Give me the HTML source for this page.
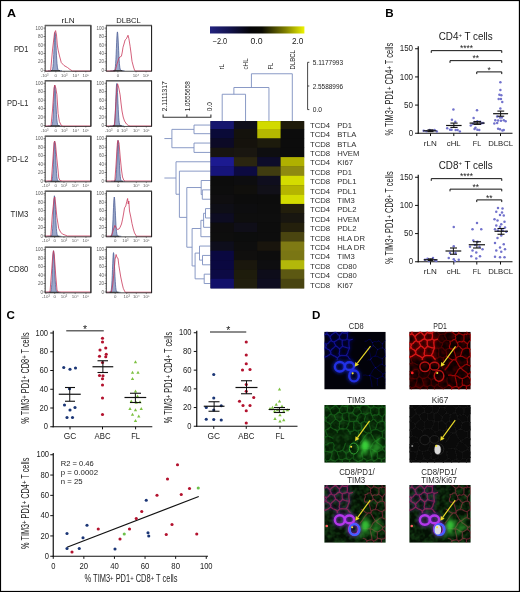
<!DOCTYPE html>
<html><head><meta charset="utf-8"><style>
html,body{margin:0;padding:0;background:#fff;}
svg{display:block;font-family:"Liberation Sans", sans-serif;will-change:transform;}
</style></head><body>
<svg width="520" height="592" viewBox="0 0 520 592">
<rect x="0" y="0" width="520" height="592" fill="#fff"/>
<text x="6.90" y="16.80" font-size="11.6" font-weight="bold" fill="#000" transform="translate(6.90,0) scale(1.08,1) translate(-6.90,0)">A</text>
<text x="385.25" y="16.80" font-size="11.6" font-weight="bold" fill="#000" transform="translate(385.25,0) scale(1.0,1) translate(-385.25,0)">B</text>
<text x="6.50" y="318.60" font-size="11.6" font-weight="bold" fill="#000" transform="translate(6.50,0) scale(1.0,1) translate(-6.50,0)">C</text>
<text x="312.05" y="318.60" font-size="11.6" font-weight="bold" fill="#000" transform="translate(312.05,0) scale(1.0,1) translate(-312.05,0)">D</text>
<text x="61.50" y="23.10" font-size="8" fill="#1a1a1a" textLength="13.10" lengthAdjust="spacingAndGlyphs" >rLN</text>
<text x="116.30" y="23.10" font-size="8" fill="#1a1a1a" textLength="24.50" lengthAdjust="spacingAndGlyphs" >DLBCL</text>
<text x="13.90" y="52.00" font-size="8.2" fill="#2a2a2a" textLength="14.50" lengthAdjust="spacingAndGlyphs" >PD1</text>
<text x="7.10" y="106.10" font-size="8.2" fill="#2a2a2a" textLength="21.30" lengthAdjust="spacingAndGlyphs" >PD-L1</text>
<text x="7.10" y="161.50" font-size="8.2" fill="#2a2a2a" textLength="21.30" lengthAdjust="spacingAndGlyphs" >PD-L2</text>
<text x="10.60" y="216.70" font-size="8.2" fill="#2a2a2a" textLength="17.80" lengthAdjust="spacingAndGlyphs" >TIM3</text>
<text x="8.40" y="272.40" font-size="8.2" fill="#2a2a2a" textLength="20.00" lengthAdjust="spacingAndGlyphs" >CD80</text>
<text x="42.90" y="29.70" font-size="4.5" fill="#5a5a5a" text-anchor="end" >100</text>
<line x1="43.40" y1="28.10" x2="45.20" y2="28.10" stroke="#333" stroke-width="0.6" />
<text x="42.90" y="38.14" font-size="4.5" fill="#5a5a5a" text-anchor="end" >80</text>
<line x1="43.40" y1="36.54" x2="45.20" y2="36.54" stroke="#333" stroke-width="0.6" />
<text x="42.90" y="46.58" font-size="4.5" fill="#5a5a5a" text-anchor="end" >60</text>
<line x1="43.40" y1="44.98" x2="45.20" y2="44.98" stroke="#333" stroke-width="0.6" />
<text x="42.90" y="55.02" font-size="4.5" fill="#5a5a5a" text-anchor="end" >40</text>
<line x1="43.40" y1="53.42" x2="45.20" y2="53.42" stroke="#333" stroke-width="0.6" />
<text x="42.90" y="63.46" font-size="4.5" fill="#5a5a5a" text-anchor="end" >20</text>
<line x1="43.40" y1="61.86" x2="45.20" y2="61.86" stroke="#333" stroke-width="0.6" />
<text x="42.90" y="71.90" font-size="4.5" fill="#5a5a5a" text-anchor="end" >0</text>
<line x1="43.40" y1="70.30" x2="45.20" y2="70.30" stroke="#333" stroke-width="0.6" />
<line x1="44.20" y1="28.10" x2="45.20" y2="28.10" stroke="#444" stroke-width="0.4" />
<line x1="44.20" y1="29.79" x2="45.20" y2="29.79" stroke="#444" stroke-width="0.4" />
<line x1="44.20" y1="31.48" x2="45.20" y2="31.48" stroke="#444" stroke-width="0.4" />
<line x1="44.20" y1="33.16" x2="45.20" y2="33.16" stroke="#444" stroke-width="0.4" />
<line x1="44.20" y1="34.85" x2="45.20" y2="34.85" stroke="#444" stroke-width="0.4" />
<line x1="44.20" y1="36.54" x2="45.20" y2="36.54" stroke="#444" stroke-width="0.4" />
<line x1="44.20" y1="38.23" x2="45.20" y2="38.23" stroke="#444" stroke-width="0.4" />
<line x1="44.20" y1="39.92" x2="45.20" y2="39.92" stroke="#444" stroke-width="0.4" />
<line x1="44.20" y1="41.60" x2="45.20" y2="41.60" stroke="#444" stroke-width="0.4" />
<line x1="44.20" y1="43.29" x2="45.20" y2="43.29" stroke="#444" stroke-width="0.4" />
<line x1="44.20" y1="44.98" x2="45.20" y2="44.98" stroke="#444" stroke-width="0.4" />
<line x1="44.20" y1="46.67" x2="45.20" y2="46.67" stroke="#444" stroke-width="0.4" />
<line x1="44.20" y1="48.36" x2="45.20" y2="48.36" stroke="#444" stroke-width="0.4" />
<line x1="44.20" y1="50.04" x2="45.20" y2="50.04" stroke="#444" stroke-width="0.4" />
<line x1="44.20" y1="51.73" x2="45.20" y2="51.73" stroke="#444" stroke-width="0.4" />
<line x1="44.20" y1="53.42" x2="45.20" y2="53.42" stroke="#444" stroke-width="0.4" />
<line x1="44.20" y1="55.11" x2="45.20" y2="55.11" stroke="#444" stroke-width="0.4" />
<line x1="44.20" y1="56.80" x2="45.20" y2="56.80" stroke="#444" stroke-width="0.4" />
<line x1="44.20" y1="58.48" x2="45.20" y2="58.48" stroke="#444" stroke-width="0.4" />
<line x1="44.20" y1="60.17" x2="45.20" y2="60.17" stroke="#444" stroke-width="0.4" />
<line x1="44.20" y1="61.86" x2="45.20" y2="61.86" stroke="#444" stroke-width="0.4" />
<line x1="44.20" y1="63.55" x2="45.20" y2="63.55" stroke="#444" stroke-width="0.4" />
<line x1="44.20" y1="65.24" x2="45.20" y2="65.24" stroke="#444" stroke-width="0.4" />
<line x1="44.20" y1="66.92" x2="45.20" y2="66.92" stroke="#444" stroke-width="0.4" />
<line x1="44.20" y1="68.61" x2="45.20" y2="68.61" stroke="#444" stroke-width="0.4" />
<line x1="44.20" y1="70.30" x2="45.20" y2="70.30" stroke="#444" stroke-width="0.4" />
<polyline points="48.00,70.60 48.00,70.60 48.25,70.60 48.50,70.60 48.75,70.60 49.00,70.60 49.25,70.60 49.50,70.60 49.75,70.60 50.00,70.60 50.25,70.60 50.50,70.60 50.75,70.60 51.00,70.59 51.25,70.58 51.50,70.56 51.75,70.49 52.00,70.34 52.25,70.02 52.50,69.41 52.75,68.29 53.00,66.45 53.25,63.62 53.50,59.65 53.75,54.57 54.00,48.71 54.25,42.70 54.50,37.43 54.75,33.80 55.00,32.50 55.25,33.48 55.50,36.29 55.75,40.50 56.00,45.54 56.25,50.80 56.50,55.76 56.75,60.04 57.00,63.47 57.25,66.03 57.50,67.82 57.75,69.00 58.00,69.72 58.25,70.14 58.50,70.37 58.75,70.49 59.00,70.55 59.25,70.58 59.50,70.59 59.75,70.60 60.00,70.60 60.25,70.60 60.50,70.60 60.75,70.60 61.00,70.60 61.25,70.60 61.50,70.60 61.75,70.60 62.00,70.60 62.00,70.60" stroke="#4a5b93" fill="#95a2c6" stroke-width="0.75" stroke-linejoin="round" fill-opacity="0.95"/>
<polyline points="45.00,71.00 50.60,71.00 52.50,50.00 54.50,33.00 55.60,30.60 56.50,35.00 57.30,45.00 58.10,50.00 59.50,56.00 61.25,62.50 64.00,65.50 67.50,67.50 70.00,69.50 72.50,71.00 90.90,71.00" stroke="#c9395a" fill="none" stroke-width="0.8" stroke-linejoin="round" />
<line x1="51.00" y1="70.60" x2="60.00" y2="70.60" stroke="#222" stroke-width="0.9" />
<rect x="45.20" y="25.60" width="45.70" height="45.60" fill="none" stroke="#2a2a2a" stroke-width="0.85"/>
<line x1="44.80" y1="25.60" x2="91.30" y2="25.60" stroke="#606060" stroke-width="1.5" />
<line x1="90.90" y1="25.60" x2="90.90" y2="71.20" stroke="#222" stroke-width="1.0" />
<text x="44.60" y="76.60" font-size="4.4" fill="#5a5a5a" text-anchor="middle" >-10³</text>
<text x="55.80" y="76.60" font-size="4.4" fill="#5a5a5a" text-anchor="middle" >0</text>
<text x="64.20" y="76.60" font-size="4.4" fill="#5a5a5a" text-anchor="middle" >10³</text>
<text x="75.80" y="76.60" font-size="4.4" fill="#5a5a5a" text-anchor="middle" >10⁴</text>
<text x="85.80" y="76.60" font-size="4.4" fill="#5a5a5a" text-anchor="middle" >10⁵</text>
<line x1="44.60" y1="71.20" x2="44.60" y2="72.40" stroke="#333" stroke-width="0.5" />
<line x1="55.80" y1="71.20" x2="55.80" y2="72.40" stroke="#333" stroke-width="0.5" />
<line x1="64.20" y1="71.20" x2="64.20" y2="72.40" stroke="#333" stroke-width="0.5" />
<line x1="75.80" y1="71.20" x2="75.80" y2="72.40" stroke="#333" stroke-width="0.5" />
<line x1="85.80" y1="71.20" x2="85.80" y2="72.40" stroke="#333" stroke-width="0.5" />
<text x="104.00" y="29.70" font-size="4.5" fill="#5a5a5a" text-anchor="end" >100</text>
<line x1="104.50" y1="28.10" x2="106.30" y2="28.10" stroke="#333" stroke-width="0.6" />
<text x="104.00" y="38.14" font-size="4.5" fill="#5a5a5a" text-anchor="end" >80</text>
<line x1="104.50" y1="36.54" x2="106.30" y2="36.54" stroke="#333" stroke-width="0.6" />
<text x="104.00" y="46.58" font-size="4.5" fill="#5a5a5a" text-anchor="end" >60</text>
<line x1="104.50" y1="44.98" x2="106.30" y2="44.98" stroke="#333" stroke-width="0.6" />
<text x="104.00" y="55.02" font-size="4.5" fill="#5a5a5a" text-anchor="end" >40</text>
<line x1="104.50" y1="53.42" x2="106.30" y2="53.42" stroke="#333" stroke-width="0.6" />
<text x="104.00" y="63.46" font-size="4.5" fill="#5a5a5a" text-anchor="end" >20</text>
<line x1="104.50" y1="61.86" x2="106.30" y2="61.86" stroke="#333" stroke-width="0.6" />
<text x="104.00" y="71.90" font-size="4.5" fill="#5a5a5a" text-anchor="end" >0</text>
<line x1="104.50" y1="70.30" x2="106.30" y2="70.30" stroke="#333" stroke-width="0.6" />
<line x1="105.30" y1="28.10" x2="106.30" y2="28.10" stroke="#444" stroke-width="0.4" />
<line x1="105.30" y1="29.79" x2="106.30" y2="29.79" stroke="#444" stroke-width="0.4" />
<line x1="105.30" y1="31.48" x2="106.30" y2="31.48" stroke="#444" stroke-width="0.4" />
<line x1="105.30" y1="33.16" x2="106.30" y2="33.16" stroke="#444" stroke-width="0.4" />
<line x1="105.30" y1="34.85" x2="106.30" y2="34.85" stroke="#444" stroke-width="0.4" />
<line x1="105.30" y1="36.54" x2="106.30" y2="36.54" stroke="#444" stroke-width="0.4" />
<line x1="105.30" y1="38.23" x2="106.30" y2="38.23" stroke="#444" stroke-width="0.4" />
<line x1="105.30" y1="39.92" x2="106.30" y2="39.92" stroke="#444" stroke-width="0.4" />
<line x1="105.30" y1="41.60" x2="106.30" y2="41.60" stroke="#444" stroke-width="0.4" />
<line x1="105.30" y1="43.29" x2="106.30" y2="43.29" stroke="#444" stroke-width="0.4" />
<line x1="105.30" y1="44.98" x2="106.30" y2="44.98" stroke="#444" stroke-width="0.4" />
<line x1="105.30" y1="46.67" x2="106.30" y2="46.67" stroke="#444" stroke-width="0.4" />
<line x1="105.30" y1="48.36" x2="106.30" y2="48.36" stroke="#444" stroke-width="0.4" />
<line x1="105.30" y1="50.04" x2="106.30" y2="50.04" stroke="#444" stroke-width="0.4" />
<line x1="105.30" y1="51.73" x2="106.30" y2="51.73" stroke="#444" stroke-width="0.4" />
<line x1="105.30" y1="53.42" x2="106.30" y2="53.42" stroke="#444" stroke-width="0.4" />
<line x1="105.30" y1="55.11" x2="106.30" y2="55.11" stroke="#444" stroke-width="0.4" />
<line x1="105.30" y1="56.80" x2="106.30" y2="56.80" stroke="#444" stroke-width="0.4" />
<line x1="105.30" y1="58.48" x2="106.30" y2="58.48" stroke="#444" stroke-width="0.4" />
<line x1="105.30" y1="60.17" x2="106.30" y2="60.17" stroke="#444" stroke-width="0.4" />
<line x1="105.30" y1="61.86" x2="106.30" y2="61.86" stroke="#444" stroke-width="0.4" />
<line x1="105.30" y1="63.55" x2="106.30" y2="63.55" stroke="#444" stroke-width="0.4" />
<line x1="105.30" y1="65.24" x2="106.30" y2="65.24" stroke="#444" stroke-width="0.4" />
<line x1="105.30" y1="66.92" x2="106.30" y2="66.92" stroke="#444" stroke-width="0.4" />
<line x1="105.30" y1="68.61" x2="106.30" y2="68.61" stroke="#444" stroke-width="0.4" />
<line x1="105.30" y1="70.30" x2="106.30" y2="70.30" stroke="#444" stroke-width="0.4" />
<polyline points="110.40,70.60 110.40,70.60 110.65,70.60 110.90,70.60 111.15,70.60 111.40,70.60 111.65,70.60 111.90,70.60 112.15,70.60 112.40,70.60 112.65,70.60 112.90,70.60 113.15,70.60 113.40,70.59 113.65,70.58 113.90,70.56 114.15,70.49 114.40,70.34 114.65,70.01 114.90,69.39 115.15,68.26 115.40,66.38 115.65,63.51 115.90,59.47 116.15,54.32 116.40,48.36 116.65,42.26 116.90,36.91 117.15,33.22 117.40,31.90 117.65,32.90 117.90,35.75 118.15,40.02 118.40,45.14 118.65,50.49 118.90,55.52 119.15,59.87 119.40,63.36 119.65,65.96 119.90,67.78 120.15,68.97 120.40,69.71 120.65,70.14 120.90,70.37 121.15,70.49 121.40,70.55 121.65,70.58 121.90,70.59 122.15,70.60 122.40,70.60 122.65,70.60 122.90,70.60 123.15,70.60 123.40,70.60 123.65,70.60 123.90,70.60 124.15,70.60 124.40,70.60 124.40,70.60" stroke="#4a5b93" fill="#95a2c6" stroke-width="0.75" stroke-linejoin="round" fill-opacity="0.95"/>
<polyline points="106.00,71.00 115.10,71.00 117.00,64.00 118.90,58.10 120.00,57.00 121.40,56.25 122.30,52.00 123.00,47.25 124.00,44.00 125.10,40.00 126.40,38.75 127.20,37.00 128.00,35.25 128.90,38.75 130.10,46.25 131.00,53.00 132.00,61.25 133.50,67.00 134.50,70.00 135.10,71.00 151.30,71.00" stroke="#c9395a" fill="none" stroke-width="0.8" stroke-linejoin="round" />
<line x1="113.40" y1="70.60" x2="122.40" y2="70.60" stroke="#222" stroke-width="0.9" />
<rect x="106.30" y="25.60" width="45.30" height="45.60" fill="none" stroke="#2a2a2a" stroke-width="0.85"/>
<line x1="105.90" y1="25.60" x2="152.00" y2="25.60" stroke="#606060" stroke-width="1.5" />
<line x1="151.60" y1="25.60" x2="151.60" y2="71.20" stroke="#222" stroke-width="1.0" />
<text x="117.90" y="76.60" font-size="4.4" fill="#5a5a5a" text-anchor="middle" >0</text>
<text x="136.05" y="76.60" font-size="4.4" fill="#5a5a5a" text-anchor="middle" >10⁴</text>
<text x="146.05" y="76.60" font-size="4.4" fill="#5a5a5a" text-anchor="middle" >10⁵</text>
<line x1="117.90" y1="71.20" x2="117.90" y2="72.40" stroke="#333" stroke-width="0.5" />
<line x1="136.05" y1="71.20" x2="136.05" y2="72.40" stroke="#333" stroke-width="0.5" />
<line x1="146.05" y1="71.20" x2="146.05" y2="72.40" stroke="#333" stroke-width="0.5" />
<text x="42.90" y="84.85" font-size="4.5" fill="#5a5a5a" text-anchor="end" >100</text>
<line x1="43.40" y1="83.25" x2="45.20" y2="83.25" stroke="#333" stroke-width="0.6" />
<text x="42.90" y="93.29" font-size="4.5" fill="#5a5a5a" text-anchor="end" >80</text>
<line x1="43.40" y1="91.69" x2="45.20" y2="91.69" stroke="#333" stroke-width="0.6" />
<text x="42.90" y="101.73" font-size="4.5" fill="#5a5a5a" text-anchor="end" >60</text>
<line x1="43.40" y1="100.13" x2="45.20" y2="100.13" stroke="#333" stroke-width="0.6" />
<text x="42.90" y="110.17" font-size="4.5" fill="#5a5a5a" text-anchor="end" >40</text>
<line x1="43.40" y1="108.57" x2="45.20" y2="108.57" stroke="#333" stroke-width="0.6" />
<text x="42.90" y="118.61" font-size="4.5" fill="#5a5a5a" text-anchor="end" >20</text>
<line x1="43.40" y1="117.01" x2="45.20" y2="117.01" stroke="#333" stroke-width="0.6" />
<text x="42.90" y="127.05" font-size="4.5" fill="#5a5a5a" text-anchor="end" >0</text>
<line x1="43.40" y1="125.45" x2="45.20" y2="125.45" stroke="#333" stroke-width="0.6" />
<line x1="44.20" y1="83.25" x2="45.20" y2="83.25" stroke="#444" stroke-width="0.4" />
<line x1="44.20" y1="84.94" x2="45.20" y2="84.94" stroke="#444" stroke-width="0.4" />
<line x1="44.20" y1="86.63" x2="45.20" y2="86.63" stroke="#444" stroke-width="0.4" />
<line x1="44.20" y1="88.31" x2="45.20" y2="88.31" stroke="#444" stroke-width="0.4" />
<line x1="44.20" y1="90.00" x2="45.20" y2="90.00" stroke="#444" stroke-width="0.4" />
<line x1="44.20" y1="91.69" x2="45.20" y2="91.69" stroke="#444" stroke-width="0.4" />
<line x1="44.20" y1="93.38" x2="45.20" y2="93.38" stroke="#444" stroke-width="0.4" />
<line x1="44.20" y1="95.07" x2="45.20" y2="95.07" stroke="#444" stroke-width="0.4" />
<line x1="44.20" y1="96.75" x2="45.20" y2="96.75" stroke="#444" stroke-width="0.4" />
<line x1="44.20" y1="98.44" x2="45.20" y2="98.44" stroke="#444" stroke-width="0.4" />
<line x1="44.20" y1="100.13" x2="45.20" y2="100.13" stroke="#444" stroke-width="0.4" />
<line x1="44.20" y1="101.82" x2="45.20" y2="101.82" stroke="#444" stroke-width="0.4" />
<line x1="44.20" y1="103.51" x2="45.20" y2="103.51" stroke="#444" stroke-width="0.4" />
<line x1="44.20" y1="105.19" x2="45.20" y2="105.19" stroke="#444" stroke-width="0.4" />
<line x1="44.20" y1="106.88" x2="45.20" y2="106.88" stroke="#444" stroke-width="0.4" />
<line x1="44.20" y1="108.57" x2="45.20" y2="108.57" stroke="#444" stroke-width="0.4" />
<line x1="44.20" y1="110.26" x2="45.20" y2="110.26" stroke="#444" stroke-width="0.4" />
<line x1="44.20" y1="111.95" x2="45.20" y2="111.95" stroke="#444" stroke-width="0.4" />
<line x1="44.20" y1="113.63" x2="45.20" y2="113.63" stroke="#444" stroke-width="0.4" />
<line x1="44.20" y1="115.32" x2="45.20" y2="115.32" stroke="#444" stroke-width="0.4" />
<line x1="44.20" y1="117.01" x2="45.20" y2="117.01" stroke="#444" stroke-width="0.4" />
<line x1="44.20" y1="118.70" x2="45.20" y2="118.70" stroke="#444" stroke-width="0.4" />
<line x1="44.20" y1="120.39" x2="45.20" y2="120.39" stroke="#444" stroke-width="0.4" />
<line x1="44.20" y1="122.07" x2="45.20" y2="122.07" stroke="#444" stroke-width="0.4" />
<line x1="44.20" y1="123.76" x2="45.20" y2="123.76" stroke="#444" stroke-width="0.4" />
<line x1="44.20" y1="125.45" x2="45.20" y2="125.45" stroke="#444" stroke-width="0.4" />
<polyline points="47.75,125.75 47.75,125.75 48.00,125.75 48.25,125.75 48.50,125.75 48.75,125.75 49.00,125.75 49.25,125.75 49.50,125.75 49.75,125.75 50.00,125.75 50.25,125.75 50.50,125.75 50.75,125.74 51.00,125.73 51.25,125.70 51.50,125.63 51.75,125.47 52.00,125.14 52.25,124.49 52.50,123.31 52.75,121.35 53.00,118.35 53.25,114.15 53.50,108.77 53.75,102.56 54.00,96.20 54.25,90.62 54.50,86.77 54.75,85.40 55.00,86.44 55.25,89.41 55.50,93.87 55.75,99.21 56.00,104.78 56.25,110.03 56.50,114.56 56.75,118.20 57.00,120.91 57.25,122.81 57.50,124.05 57.75,124.82 58.00,125.27 58.25,125.51 58.50,125.64 58.75,125.70 59.00,125.73 59.25,125.74 59.50,125.75 59.75,125.75 60.00,125.75 60.25,125.75 60.50,125.75 60.75,125.75 61.00,125.75 61.25,125.75 61.50,125.75 61.75,125.75 61.75,125.75" stroke="#4a5b93" fill="#95a2c6" stroke-width="0.75" stroke-linejoin="round" fill-opacity="0.95"/>
<polyline points="45.00,126.00 51.00,126.00 52.50,110.00 54.00,88.00 54.75,85.00 55.80,88.00 56.90,94.75 57.50,104.00 58.10,113.50 59.40,121.60 61.25,125.40 63.00,126.00 90.90,126.00" stroke="#c9395a" fill="none" stroke-width="0.8" stroke-linejoin="round" />
<line x1="50.75" y1="125.75" x2="59.75" y2="125.75" stroke="#222" stroke-width="0.9" />
<rect x="45.20" y="80.75" width="45.70" height="45.60" fill="none" stroke="#2a2a2a" stroke-width="0.85"/>
<line x1="44.80" y1="80.75" x2="91.30" y2="80.75" stroke="#606060" stroke-width="1.5" />
<line x1="90.90" y1="80.75" x2="90.90" y2="126.35" stroke="#222" stroke-width="1.0" />
<text x="44.60" y="131.75" font-size="4.4" fill="#5a5a5a" text-anchor="middle" >-10³</text>
<text x="55.80" y="131.75" font-size="4.4" fill="#5a5a5a" text-anchor="middle" >0</text>
<text x="64.20" y="131.75" font-size="4.4" fill="#5a5a5a" text-anchor="middle" >10³</text>
<text x="75.80" y="131.75" font-size="4.4" fill="#5a5a5a" text-anchor="middle" >10⁴</text>
<text x="85.80" y="131.75" font-size="4.4" fill="#5a5a5a" text-anchor="middle" >10⁵</text>
<line x1="44.60" y1="126.35" x2="44.60" y2="127.55" stroke="#333" stroke-width="0.5" />
<line x1="55.80" y1="126.35" x2="55.80" y2="127.55" stroke="#333" stroke-width="0.5" />
<line x1="64.20" y1="126.35" x2="64.20" y2="127.55" stroke="#333" stroke-width="0.5" />
<line x1="75.80" y1="126.35" x2="75.80" y2="127.55" stroke="#333" stroke-width="0.5" />
<line x1="85.80" y1="126.35" x2="85.80" y2="127.55" stroke="#333" stroke-width="0.5" />
<text x="104.00" y="84.85" font-size="4.5" fill="#5a5a5a" text-anchor="end" >100</text>
<line x1="104.50" y1="83.25" x2="106.30" y2="83.25" stroke="#333" stroke-width="0.6" />
<text x="104.00" y="93.29" font-size="4.5" fill="#5a5a5a" text-anchor="end" >80</text>
<line x1="104.50" y1="91.69" x2="106.30" y2="91.69" stroke="#333" stroke-width="0.6" />
<text x="104.00" y="101.73" font-size="4.5" fill="#5a5a5a" text-anchor="end" >60</text>
<line x1="104.50" y1="100.13" x2="106.30" y2="100.13" stroke="#333" stroke-width="0.6" />
<text x="104.00" y="110.17" font-size="4.5" fill="#5a5a5a" text-anchor="end" >40</text>
<line x1="104.50" y1="108.57" x2="106.30" y2="108.57" stroke="#333" stroke-width="0.6" />
<text x="104.00" y="118.61" font-size="4.5" fill="#5a5a5a" text-anchor="end" >20</text>
<line x1="104.50" y1="117.01" x2="106.30" y2="117.01" stroke="#333" stroke-width="0.6" />
<text x="104.00" y="127.05" font-size="4.5" fill="#5a5a5a" text-anchor="end" >0</text>
<line x1="104.50" y1="125.45" x2="106.30" y2="125.45" stroke="#333" stroke-width="0.6" />
<line x1="105.30" y1="83.25" x2="106.30" y2="83.25" stroke="#444" stroke-width="0.4" />
<line x1="105.30" y1="84.94" x2="106.30" y2="84.94" stroke="#444" stroke-width="0.4" />
<line x1="105.30" y1="86.63" x2="106.30" y2="86.63" stroke="#444" stroke-width="0.4" />
<line x1="105.30" y1="88.31" x2="106.30" y2="88.31" stroke="#444" stroke-width="0.4" />
<line x1="105.30" y1="90.00" x2="106.30" y2="90.00" stroke="#444" stroke-width="0.4" />
<line x1="105.30" y1="91.69" x2="106.30" y2="91.69" stroke="#444" stroke-width="0.4" />
<line x1="105.30" y1="93.38" x2="106.30" y2="93.38" stroke="#444" stroke-width="0.4" />
<line x1="105.30" y1="95.07" x2="106.30" y2="95.07" stroke="#444" stroke-width="0.4" />
<line x1="105.30" y1="96.75" x2="106.30" y2="96.75" stroke="#444" stroke-width="0.4" />
<line x1="105.30" y1="98.44" x2="106.30" y2="98.44" stroke="#444" stroke-width="0.4" />
<line x1="105.30" y1="100.13" x2="106.30" y2="100.13" stroke="#444" stroke-width="0.4" />
<line x1="105.30" y1="101.82" x2="106.30" y2="101.82" stroke="#444" stroke-width="0.4" />
<line x1="105.30" y1="103.51" x2="106.30" y2="103.51" stroke="#444" stroke-width="0.4" />
<line x1="105.30" y1="105.19" x2="106.30" y2="105.19" stroke="#444" stroke-width="0.4" />
<line x1="105.30" y1="106.88" x2="106.30" y2="106.88" stroke="#444" stroke-width="0.4" />
<line x1="105.30" y1="108.57" x2="106.30" y2="108.57" stroke="#444" stroke-width="0.4" />
<line x1="105.30" y1="110.26" x2="106.30" y2="110.26" stroke="#444" stroke-width="0.4" />
<line x1="105.30" y1="111.95" x2="106.30" y2="111.95" stroke="#444" stroke-width="0.4" />
<line x1="105.30" y1="113.63" x2="106.30" y2="113.63" stroke="#444" stroke-width="0.4" />
<line x1="105.30" y1="115.32" x2="106.30" y2="115.32" stroke="#444" stroke-width="0.4" />
<line x1="105.30" y1="117.01" x2="106.30" y2="117.01" stroke="#444" stroke-width="0.4" />
<line x1="105.30" y1="118.70" x2="106.30" y2="118.70" stroke="#444" stroke-width="0.4" />
<line x1="105.30" y1="120.39" x2="106.30" y2="120.39" stroke="#444" stroke-width="0.4" />
<line x1="105.30" y1="122.07" x2="106.30" y2="122.07" stroke="#444" stroke-width="0.4" />
<line x1="105.30" y1="123.76" x2="106.30" y2="123.76" stroke="#444" stroke-width="0.4" />
<line x1="105.30" y1="125.45" x2="106.30" y2="125.45" stroke="#444" stroke-width="0.4" />
<polyline points="109.75,125.75 109.75,125.75 110.00,125.75 110.25,125.75 110.50,125.75 110.75,125.75 111.00,125.75 111.25,125.75 111.50,125.75 111.75,125.75 112.00,125.75 112.25,125.75 112.50,125.75 112.75,125.74 113.00,125.73 113.25,125.70 113.50,125.63 113.75,125.46 114.00,125.11 114.25,124.43 114.50,123.19 114.75,121.14 115.00,118.01 115.25,113.60 115.50,107.97 115.75,101.47 116.00,94.81 116.25,88.96 116.50,84.94 116.75,83.50 117.00,84.59 117.25,87.70 117.50,92.37 117.75,97.96 118.00,103.79 118.25,109.29 118.50,114.04 118.75,117.84 119.00,120.68 119.25,122.67 119.50,123.97 119.75,124.78 120.00,125.24 120.25,125.50 120.50,125.63 120.75,125.70 121.00,125.73 121.25,125.74 121.50,125.75 121.75,125.75 122.00,125.75 122.25,125.75 122.50,125.75 122.75,125.75 123.00,125.75 123.25,125.75 123.50,125.75 123.75,125.75 123.75,125.75" stroke="#4a5b93" fill="#95a2c6" stroke-width="0.75" stroke-linejoin="round" fill-opacity="0.95"/>
<polyline points="106.00,126.00 114.50,126.00 115.50,110.00 116.80,88.00 117.60,83.75 118.80,88.00 120.10,94.75 121.00,103.00 122.00,111.00 123.20,117.00 124.50,121.00 126.50,124.00 128.25,125.40 130.00,126.00 151.30,126.00" stroke="#c9395a" fill="none" stroke-width="0.8" stroke-linejoin="round" />
<line x1="112.75" y1="125.75" x2="121.75" y2="125.75" stroke="#222" stroke-width="0.9" />
<rect x="106.30" y="80.75" width="45.30" height="45.60" fill="none" stroke="#2a2a2a" stroke-width="0.85"/>
<line x1="105.90" y1="80.75" x2="152.00" y2="80.75" stroke="#606060" stroke-width="1.5" />
<line x1="151.60" y1="80.75" x2="151.60" y2="126.35" stroke="#222" stroke-width="1.0" />
<text x="108.55" y="131.75" font-size="4.4" fill="#5a5a5a" text-anchor="middle" >-10³</text>
<text x="117.90" y="131.75" font-size="4.4" fill="#5a5a5a" text-anchor="middle" >0</text>
<text x="124.20" y="131.75" font-size="4.4" fill="#5a5a5a" text-anchor="middle" >10³</text>
<text x="136.30" y="131.75" font-size="4.4" fill="#5a5a5a" text-anchor="middle" >10⁴</text>
<text x="146.30" y="131.75" font-size="4.4" fill="#5a5a5a" text-anchor="middle" >10⁵</text>
<line x1="108.55" y1="126.35" x2="108.55" y2="127.55" stroke="#333" stroke-width="0.5" />
<line x1="117.90" y1="126.35" x2="117.90" y2="127.55" stroke="#333" stroke-width="0.5" />
<line x1="124.20" y1="126.35" x2="124.20" y2="127.55" stroke="#333" stroke-width="0.5" />
<line x1="136.30" y1="126.35" x2="136.30" y2="127.55" stroke="#333" stroke-width="0.5" />
<line x1="146.30" y1="126.35" x2="146.30" y2="127.55" stroke="#333" stroke-width="0.5" />
<text x="42.90" y="140.35" font-size="4.5" fill="#5a5a5a" text-anchor="end" >100</text>
<line x1="43.40" y1="138.75" x2="45.20" y2="138.75" stroke="#333" stroke-width="0.6" />
<text x="42.90" y="148.79" font-size="4.5" fill="#5a5a5a" text-anchor="end" >80</text>
<line x1="43.40" y1="147.19" x2="45.20" y2="147.19" stroke="#333" stroke-width="0.6" />
<text x="42.90" y="157.23" font-size="4.5" fill="#5a5a5a" text-anchor="end" >60</text>
<line x1="43.40" y1="155.63" x2="45.20" y2="155.63" stroke="#333" stroke-width="0.6" />
<text x="42.90" y="165.67" font-size="4.5" fill="#5a5a5a" text-anchor="end" >40</text>
<line x1="43.40" y1="164.07" x2="45.20" y2="164.07" stroke="#333" stroke-width="0.6" />
<text x="42.90" y="174.11" font-size="4.5" fill="#5a5a5a" text-anchor="end" >20</text>
<line x1="43.40" y1="172.51" x2="45.20" y2="172.51" stroke="#333" stroke-width="0.6" />
<text x="42.90" y="182.55" font-size="4.5" fill="#5a5a5a" text-anchor="end" >0</text>
<line x1="43.40" y1="180.95" x2="45.20" y2="180.95" stroke="#333" stroke-width="0.6" />
<line x1="44.20" y1="138.75" x2="45.20" y2="138.75" stroke="#444" stroke-width="0.4" />
<line x1="44.20" y1="140.44" x2="45.20" y2="140.44" stroke="#444" stroke-width="0.4" />
<line x1="44.20" y1="142.13" x2="45.20" y2="142.13" stroke="#444" stroke-width="0.4" />
<line x1="44.20" y1="143.81" x2="45.20" y2="143.81" stroke="#444" stroke-width="0.4" />
<line x1="44.20" y1="145.50" x2="45.20" y2="145.50" stroke="#444" stroke-width="0.4" />
<line x1="44.20" y1="147.19" x2="45.20" y2="147.19" stroke="#444" stroke-width="0.4" />
<line x1="44.20" y1="148.88" x2="45.20" y2="148.88" stroke="#444" stroke-width="0.4" />
<line x1="44.20" y1="150.57" x2="45.20" y2="150.57" stroke="#444" stroke-width="0.4" />
<line x1="44.20" y1="152.25" x2="45.20" y2="152.25" stroke="#444" stroke-width="0.4" />
<line x1="44.20" y1="153.94" x2="45.20" y2="153.94" stroke="#444" stroke-width="0.4" />
<line x1="44.20" y1="155.63" x2="45.20" y2="155.63" stroke="#444" stroke-width="0.4" />
<line x1="44.20" y1="157.32" x2="45.20" y2="157.32" stroke="#444" stroke-width="0.4" />
<line x1="44.20" y1="159.01" x2="45.20" y2="159.01" stroke="#444" stroke-width="0.4" />
<line x1="44.20" y1="160.69" x2="45.20" y2="160.69" stroke="#444" stroke-width="0.4" />
<line x1="44.20" y1="162.38" x2="45.20" y2="162.38" stroke="#444" stroke-width="0.4" />
<line x1="44.20" y1="164.07" x2="45.20" y2="164.07" stroke="#444" stroke-width="0.4" />
<line x1="44.20" y1="165.76" x2="45.20" y2="165.76" stroke="#444" stroke-width="0.4" />
<line x1="44.20" y1="167.45" x2="45.20" y2="167.45" stroke="#444" stroke-width="0.4" />
<line x1="44.20" y1="169.13" x2="45.20" y2="169.13" stroke="#444" stroke-width="0.4" />
<line x1="44.20" y1="170.82" x2="45.20" y2="170.82" stroke="#444" stroke-width="0.4" />
<line x1="44.20" y1="172.51" x2="45.20" y2="172.51" stroke="#444" stroke-width="0.4" />
<line x1="44.20" y1="174.20" x2="45.20" y2="174.20" stroke="#444" stroke-width="0.4" />
<line x1="44.20" y1="175.89" x2="45.20" y2="175.89" stroke="#444" stroke-width="0.4" />
<line x1="44.20" y1="177.57" x2="45.20" y2="177.57" stroke="#444" stroke-width="0.4" />
<line x1="44.20" y1="179.26" x2="45.20" y2="179.26" stroke="#444" stroke-width="0.4" />
<line x1="44.20" y1="180.95" x2="45.20" y2="180.95" stroke="#444" stroke-width="0.4" />
<polyline points="47.60,181.25 47.60,181.25 47.85,181.25 48.10,181.25 48.35,181.25 48.60,181.25 48.85,181.25 49.10,181.25 49.35,181.25 49.60,181.25 49.85,181.25 50.10,181.25 50.35,181.25 50.60,181.24 50.85,181.23 51.10,181.20 51.35,181.13 51.60,180.98 51.85,180.64 52.10,179.99 52.35,178.81 52.60,176.86 52.85,173.87 53.10,169.68 53.35,164.31 53.60,158.12 53.85,151.78 54.10,146.21 54.35,142.37 54.60,141.00 54.85,142.04 55.10,145.00 55.35,149.45 55.60,154.78 55.85,160.33 56.10,165.57 56.35,170.09 56.60,173.72 56.85,176.42 57.10,178.31 57.35,179.56 57.60,180.32 57.85,180.77 58.10,181.01 58.35,181.14 58.60,181.20 58.85,181.23 59.10,181.24 59.35,181.25 59.60,181.25 59.85,181.25 60.10,181.25 60.35,181.25 60.60,181.25 60.85,181.25 61.10,181.25 61.35,181.25 61.60,181.25 61.60,181.25" stroke="#4a5b93" fill="#95a2c6" stroke-width="0.75" stroke-linejoin="round" fill-opacity="0.95"/>
<polyline points="45.00,181.00 51.30,181.00 52.50,165.00 54.00,143.00 54.60,141.00 55.50,144.00 56.80,158.00 58.00,170.00 58.75,177.90 60.00,180.50 62.00,181.00 90.90,181.00" stroke="#c9395a" fill="none" stroke-width="0.8" stroke-linejoin="round" />
<line x1="50.60" y1="181.25" x2="59.60" y2="181.25" stroke="#222" stroke-width="0.9" />
<rect x="45.20" y="136.25" width="45.70" height="45.60" fill="none" stroke="#2a2a2a" stroke-width="0.85"/>
<line x1="44.80" y1="136.25" x2="91.30" y2="136.25" stroke="#606060" stroke-width="1.5" />
<line x1="90.90" y1="136.25" x2="90.90" y2="181.85" stroke="#222" stroke-width="1.0" />
<text x="45.95" y="187.25" font-size="4.4" fill="#5a5a5a" text-anchor="middle" >-10³</text>
<text x="55.70" y="187.25" font-size="4.4" fill="#5a5a5a" text-anchor="middle" >0</text>
<text x="63.95" y="187.25" font-size="4.4" fill="#5a5a5a" text-anchor="middle" >10³</text>
<text x="75.20" y="187.25" font-size="4.4" fill="#5a5a5a" text-anchor="middle" >10⁴</text>
<text x="85.95" y="187.25" font-size="4.4" fill="#5a5a5a" text-anchor="middle" >10⁵</text>
<line x1="45.95" y1="181.85" x2="45.95" y2="183.05" stroke="#333" stroke-width="0.5" />
<line x1="55.70" y1="181.85" x2="55.70" y2="183.05" stroke="#333" stroke-width="0.5" />
<line x1="63.95" y1="181.85" x2="63.95" y2="183.05" stroke="#333" stroke-width="0.5" />
<line x1="75.20" y1="181.85" x2="75.20" y2="183.05" stroke="#333" stroke-width="0.5" />
<line x1="85.95" y1="181.85" x2="85.95" y2="183.05" stroke="#333" stroke-width="0.5" />
<text x="104.00" y="140.35" font-size="4.5" fill="#5a5a5a" text-anchor="end" >100</text>
<line x1="104.50" y1="138.75" x2="106.30" y2="138.75" stroke="#333" stroke-width="0.6" />
<text x="104.00" y="148.79" font-size="4.5" fill="#5a5a5a" text-anchor="end" >80</text>
<line x1="104.50" y1="147.19" x2="106.30" y2="147.19" stroke="#333" stroke-width="0.6" />
<text x="104.00" y="157.23" font-size="4.5" fill="#5a5a5a" text-anchor="end" >60</text>
<line x1="104.50" y1="155.63" x2="106.30" y2="155.63" stroke="#333" stroke-width="0.6" />
<text x="104.00" y="165.67" font-size="4.5" fill="#5a5a5a" text-anchor="end" >40</text>
<line x1="104.50" y1="164.07" x2="106.30" y2="164.07" stroke="#333" stroke-width="0.6" />
<text x="104.00" y="174.11" font-size="4.5" fill="#5a5a5a" text-anchor="end" >20</text>
<line x1="104.50" y1="172.51" x2="106.30" y2="172.51" stroke="#333" stroke-width="0.6" />
<text x="104.00" y="182.55" font-size="4.5" fill="#5a5a5a" text-anchor="end" >0</text>
<line x1="104.50" y1="180.95" x2="106.30" y2="180.95" stroke="#333" stroke-width="0.6" />
<line x1="105.30" y1="138.75" x2="106.30" y2="138.75" stroke="#444" stroke-width="0.4" />
<line x1="105.30" y1="140.44" x2="106.30" y2="140.44" stroke="#444" stroke-width="0.4" />
<line x1="105.30" y1="142.13" x2="106.30" y2="142.13" stroke="#444" stroke-width="0.4" />
<line x1="105.30" y1="143.81" x2="106.30" y2="143.81" stroke="#444" stroke-width="0.4" />
<line x1="105.30" y1="145.50" x2="106.30" y2="145.50" stroke="#444" stroke-width="0.4" />
<line x1="105.30" y1="147.19" x2="106.30" y2="147.19" stroke="#444" stroke-width="0.4" />
<line x1="105.30" y1="148.88" x2="106.30" y2="148.88" stroke="#444" stroke-width="0.4" />
<line x1="105.30" y1="150.57" x2="106.30" y2="150.57" stroke="#444" stroke-width="0.4" />
<line x1="105.30" y1="152.25" x2="106.30" y2="152.25" stroke="#444" stroke-width="0.4" />
<line x1="105.30" y1="153.94" x2="106.30" y2="153.94" stroke="#444" stroke-width="0.4" />
<line x1="105.30" y1="155.63" x2="106.30" y2="155.63" stroke="#444" stroke-width="0.4" />
<line x1="105.30" y1="157.32" x2="106.30" y2="157.32" stroke="#444" stroke-width="0.4" />
<line x1="105.30" y1="159.01" x2="106.30" y2="159.01" stroke="#444" stroke-width="0.4" />
<line x1="105.30" y1="160.69" x2="106.30" y2="160.69" stroke="#444" stroke-width="0.4" />
<line x1="105.30" y1="162.38" x2="106.30" y2="162.38" stroke="#444" stroke-width="0.4" />
<line x1="105.30" y1="164.07" x2="106.30" y2="164.07" stroke="#444" stroke-width="0.4" />
<line x1="105.30" y1="165.76" x2="106.30" y2="165.76" stroke="#444" stroke-width="0.4" />
<line x1="105.30" y1="167.45" x2="106.30" y2="167.45" stroke="#444" stroke-width="0.4" />
<line x1="105.30" y1="169.13" x2="106.30" y2="169.13" stroke="#444" stroke-width="0.4" />
<line x1="105.30" y1="170.82" x2="106.30" y2="170.82" stroke="#444" stroke-width="0.4" />
<line x1="105.30" y1="172.51" x2="106.30" y2="172.51" stroke="#444" stroke-width="0.4" />
<line x1="105.30" y1="174.20" x2="106.30" y2="174.20" stroke="#444" stroke-width="0.4" />
<line x1="105.30" y1="175.89" x2="106.30" y2="175.89" stroke="#444" stroke-width="0.4" />
<line x1="105.30" y1="177.57" x2="106.30" y2="177.57" stroke="#444" stroke-width="0.4" />
<line x1="105.30" y1="179.26" x2="106.30" y2="179.26" stroke="#444" stroke-width="0.4" />
<line x1="105.30" y1="180.95" x2="106.30" y2="180.95" stroke="#444" stroke-width="0.4" />
<polyline points="111.00,181.25 111.00,181.25 111.25,181.25 111.50,181.25 111.75,181.25 112.00,181.25 112.25,181.25 112.50,181.25 112.75,181.25 113.00,181.25 113.25,181.25 113.50,181.25 113.75,181.25 114.00,181.24 114.25,181.23 114.50,181.20 114.75,181.13 115.00,180.97 115.25,180.63 115.50,179.97 115.75,178.78 116.00,176.80 116.25,173.76 116.50,169.51 116.75,164.06 117.00,157.78 117.25,151.34 117.50,145.68 117.75,141.79 118.00,140.40 118.25,141.46 118.50,144.46 118.75,148.98 119.00,154.38 119.25,160.02 119.50,165.33 119.75,169.93 120.00,173.60 120.25,176.35 120.50,178.27 120.75,179.53 121.00,180.31 121.25,180.76 121.50,181.01 121.75,181.14 122.00,181.20 122.25,181.23 122.50,181.24 122.75,181.25 123.00,181.25 123.25,181.25 123.50,181.25 123.75,181.25 124.00,181.25 124.25,181.25 124.50,181.25 124.75,181.25 125.00,181.25 125.00,181.25" stroke="#4a5b93" fill="#95a2c6" stroke-width="0.75" stroke-linejoin="round" fill-opacity="0.95"/>
<polyline points="106.00,181.00 114.80,181.00 116.00,165.00 117.40,143.00 118.00,140.40 119.00,143.00 120.30,158.00 121.50,170.00 122.50,177.00 123.90,180.50 125.00,181.00 151.30,181.00" stroke="#c9395a" fill="none" stroke-width="0.8" stroke-linejoin="round" />
<line x1="114.00" y1="181.25" x2="123.00" y2="181.25" stroke="#222" stroke-width="0.9" />
<rect x="106.30" y="136.25" width="45.30" height="45.60" fill="none" stroke="#2a2a2a" stroke-width="0.85"/>
<line x1="105.90" y1="136.25" x2="152.00" y2="136.25" stroke="#606060" stroke-width="1.5" />
<line x1="151.60" y1="136.25" x2="151.60" y2="181.85" stroke="#222" stroke-width="1.0" />
<text x="118.30" y="187.25" font-size="4.4" fill="#5a5a5a" text-anchor="middle" >0</text>
<text x="136.30" y="187.25" font-size="4.4" fill="#5a5a5a" text-anchor="middle" >10⁴</text>
<text x="146.30" y="187.25" font-size="4.4" fill="#5a5a5a" text-anchor="middle" >10⁵</text>
<line x1="118.30" y1="181.85" x2="118.30" y2="183.05" stroke="#333" stroke-width="0.5" />
<line x1="136.30" y1="181.85" x2="136.30" y2="183.05" stroke="#333" stroke-width="0.5" />
<line x1="146.30" y1="181.85" x2="146.30" y2="183.05" stroke="#333" stroke-width="0.5" />
<text x="42.90" y="195.35" font-size="4.5" fill="#5a5a5a" text-anchor="end" >100</text>
<line x1="43.40" y1="193.75" x2="45.20" y2="193.75" stroke="#333" stroke-width="0.6" />
<text x="42.90" y="203.79" font-size="4.5" fill="#5a5a5a" text-anchor="end" >80</text>
<line x1="43.40" y1="202.19" x2="45.20" y2="202.19" stroke="#333" stroke-width="0.6" />
<text x="42.90" y="212.23" font-size="4.5" fill="#5a5a5a" text-anchor="end" >60</text>
<line x1="43.40" y1="210.63" x2="45.20" y2="210.63" stroke="#333" stroke-width="0.6" />
<text x="42.90" y="220.67" font-size="4.5" fill="#5a5a5a" text-anchor="end" >40</text>
<line x1="43.40" y1="219.07" x2="45.20" y2="219.07" stroke="#333" stroke-width="0.6" />
<text x="42.90" y="229.11" font-size="4.5" fill="#5a5a5a" text-anchor="end" >20</text>
<line x1="43.40" y1="227.51" x2="45.20" y2="227.51" stroke="#333" stroke-width="0.6" />
<text x="42.90" y="237.55" font-size="4.5" fill="#5a5a5a" text-anchor="end" >0</text>
<line x1="43.40" y1="235.95" x2="45.20" y2="235.95" stroke="#333" stroke-width="0.6" />
<line x1="44.20" y1="193.75" x2="45.20" y2="193.75" stroke="#444" stroke-width="0.4" />
<line x1="44.20" y1="195.44" x2="45.20" y2="195.44" stroke="#444" stroke-width="0.4" />
<line x1="44.20" y1="197.13" x2="45.20" y2="197.13" stroke="#444" stroke-width="0.4" />
<line x1="44.20" y1="198.81" x2="45.20" y2="198.81" stroke="#444" stroke-width="0.4" />
<line x1="44.20" y1="200.50" x2="45.20" y2="200.50" stroke="#444" stroke-width="0.4" />
<line x1="44.20" y1="202.19" x2="45.20" y2="202.19" stroke="#444" stroke-width="0.4" />
<line x1="44.20" y1="203.88" x2="45.20" y2="203.88" stroke="#444" stroke-width="0.4" />
<line x1="44.20" y1="205.57" x2="45.20" y2="205.57" stroke="#444" stroke-width="0.4" />
<line x1="44.20" y1="207.25" x2="45.20" y2="207.25" stroke="#444" stroke-width="0.4" />
<line x1="44.20" y1="208.94" x2="45.20" y2="208.94" stroke="#444" stroke-width="0.4" />
<line x1="44.20" y1="210.63" x2="45.20" y2="210.63" stroke="#444" stroke-width="0.4" />
<line x1="44.20" y1="212.32" x2="45.20" y2="212.32" stroke="#444" stroke-width="0.4" />
<line x1="44.20" y1="214.01" x2="45.20" y2="214.01" stroke="#444" stroke-width="0.4" />
<line x1="44.20" y1="215.69" x2="45.20" y2="215.69" stroke="#444" stroke-width="0.4" />
<line x1="44.20" y1="217.38" x2="45.20" y2="217.38" stroke="#444" stroke-width="0.4" />
<line x1="44.20" y1="219.07" x2="45.20" y2="219.07" stroke="#444" stroke-width="0.4" />
<line x1="44.20" y1="220.76" x2="45.20" y2="220.76" stroke="#444" stroke-width="0.4" />
<line x1="44.20" y1="222.45" x2="45.20" y2="222.45" stroke="#444" stroke-width="0.4" />
<line x1="44.20" y1="224.13" x2="45.20" y2="224.13" stroke="#444" stroke-width="0.4" />
<line x1="44.20" y1="225.82" x2="45.20" y2="225.82" stroke="#444" stroke-width="0.4" />
<line x1="44.20" y1="227.51" x2="45.20" y2="227.51" stroke="#444" stroke-width="0.4" />
<line x1="44.20" y1="229.20" x2="45.20" y2="229.20" stroke="#444" stroke-width="0.4" />
<line x1="44.20" y1="230.89" x2="45.20" y2="230.89" stroke="#444" stroke-width="0.4" />
<line x1="44.20" y1="232.57" x2="45.20" y2="232.57" stroke="#444" stroke-width="0.4" />
<line x1="44.20" y1="234.26" x2="45.20" y2="234.26" stroke="#444" stroke-width="0.4" />
<line x1="44.20" y1="235.95" x2="45.20" y2="235.95" stroke="#444" stroke-width="0.4" />
<polyline points="47.40,236.25 47.40,236.25 47.65,236.25 47.90,236.25 48.15,236.25 48.40,236.25 48.65,236.25 48.90,236.25 49.15,236.25 49.40,236.25 49.65,236.25 49.90,236.25 50.15,236.25 50.40,236.24 50.65,236.23 50.90,236.20 51.15,236.13 51.40,235.97 51.65,235.64 51.90,234.98 52.15,233.80 52.40,231.83 52.65,228.83 52.90,224.61 53.15,219.21 53.40,212.98 53.65,206.59 53.90,200.99 54.15,197.13 54.40,195.75 54.65,196.80 54.90,199.78 55.15,204.25 55.40,209.61 55.65,215.20 55.90,220.47 56.15,225.02 56.40,228.67 56.65,231.39 56.90,233.30 57.15,234.55 57.40,235.32 57.65,235.76 57.90,236.01 58.15,236.14 58.40,236.20 58.65,236.23 58.90,236.24 59.15,236.25 59.40,236.25 59.65,236.25 59.90,236.25 60.15,236.25 60.40,236.25 60.65,236.25 60.90,236.25 61.15,236.25 61.40,236.25 61.40,236.25" stroke="#4a5b93" fill="#95a2c6" stroke-width="0.75" stroke-linejoin="round" fill-opacity="0.95"/>
<polyline points="45.00,236.00 50.80,236.00 52.30,215.00 54.00,199.00 54.75,197.00 55.60,204.00 56.90,217.25 58.75,228.50 60.50,232.00 62.50,234.10 67.50,236.00 90.90,236.00" stroke="#c9395a" fill="none" stroke-width="0.8" stroke-linejoin="round" />
<line x1="50.40" y1="236.25" x2="59.40" y2="236.25" stroke="#222" stroke-width="0.9" />
<rect x="45.20" y="191.25" width="45.70" height="45.60" fill="none" stroke="#2a2a2a" stroke-width="0.85"/>
<line x1="44.80" y1="191.25" x2="91.30" y2="191.25" stroke="#606060" stroke-width="1.5" />
<line x1="90.90" y1="191.25" x2="90.90" y2="236.85" stroke="#222" stroke-width="1.0" />
<text x="45.95" y="242.25" font-size="4.4" fill="#5a5a5a" text-anchor="middle" >-10³</text>
<text x="54.70" y="242.25" font-size="4.4" fill="#5a5a5a" text-anchor="middle" >0</text>
<text x="63.95" y="242.25" font-size="4.4" fill="#5a5a5a" text-anchor="middle" >10³</text>
<text x="75.20" y="242.25" font-size="4.4" fill="#5a5a5a" text-anchor="middle" >10⁴</text>
<text x="85.95" y="242.25" font-size="4.4" fill="#5a5a5a" text-anchor="middle" >10⁵</text>
<line x1="45.95" y1="236.85" x2="45.95" y2="238.05" stroke="#333" stroke-width="0.5" />
<line x1="54.70" y1="236.85" x2="54.70" y2="238.05" stroke="#333" stroke-width="0.5" />
<line x1="63.95" y1="236.85" x2="63.95" y2="238.05" stroke="#333" stroke-width="0.5" />
<line x1="75.20" y1="236.85" x2="75.20" y2="238.05" stroke="#333" stroke-width="0.5" />
<line x1="85.95" y1="236.85" x2="85.95" y2="238.05" stroke="#333" stroke-width="0.5" />
<text x="104.00" y="195.35" font-size="4.5" fill="#5a5a5a" text-anchor="end" >100</text>
<line x1="104.50" y1="193.75" x2="106.30" y2="193.75" stroke="#333" stroke-width="0.6" />
<text x="104.00" y="203.79" font-size="4.5" fill="#5a5a5a" text-anchor="end" >80</text>
<line x1="104.50" y1="202.19" x2="106.30" y2="202.19" stroke="#333" stroke-width="0.6" />
<text x="104.00" y="212.23" font-size="4.5" fill="#5a5a5a" text-anchor="end" >60</text>
<line x1="104.50" y1="210.63" x2="106.30" y2="210.63" stroke="#333" stroke-width="0.6" />
<text x="104.00" y="220.67" font-size="4.5" fill="#5a5a5a" text-anchor="end" >40</text>
<line x1="104.50" y1="219.07" x2="106.30" y2="219.07" stroke="#333" stroke-width="0.6" />
<text x="104.00" y="229.11" font-size="4.5" fill="#5a5a5a" text-anchor="end" >20</text>
<line x1="104.50" y1="227.51" x2="106.30" y2="227.51" stroke="#333" stroke-width="0.6" />
<text x="104.00" y="237.55" font-size="4.5" fill="#5a5a5a" text-anchor="end" >0</text>
<line x1="104.50" y1="235.95" x2="106.30" y2="235.95" stroke="#333" stroke-width="0.6" />
<line x1="105.30" y1="193.75" x2="106.30" y2="193.75" stroke="#444" stroke-width="0.4" />
<line x1="105.30" y1="195.44" x2="106.30" y2="195.44" stroke="#444" stroke-width="0.4" />
<line x1="105.30" y1="197.13" x2="106.30" y2="197.13" stroke="#444" stroke-width="0.4" />
<line x1="105.30" y1="198.81" x2="106.30" y2="198.81" stroke="#444" stroke-width="0.4" />
<line x1="105.30" y1="200.50" x2="106.30" y2="200.50" stroke="#444" stroke-width="0.4" />
<line x1="105.30" y1="202.19" x2="106.30" y2="202.19" stroke="#444" stroke-width="0.4" />
<line x1="105.30" y1="203.88" x2="106.30" y2="203.88" stroke="#444" stroke-width="0.4" />
<line x1="105.30" y1="205.57" x2="106.30" y2="205.57" stroke="#444" stroke-width="0.4" />
<line x1="105.30" y1="207.25" x2="106.30" y2="207.25" stroke="#444" stroke-width="0.4" />
<line x1="105.30" y1="208.94" x2="106.30" y2="208.94" stroke="#444" stroke-width="0.4" />
<line x1="105.30" y1="210.63" x2="106.30" y2="210.63" stroke="#444" stroke-width="0.4" />
<line x1="105.30" y1="212.32" x2="106.30" y2="212.32" stroke="#444" stroke-width="0.4" />
<line x1="105.30" y1="214.01" x2="106.30" y2="214.01" stroke="#444" stroke-width="0.4" />
<line x1="105.30" y1="215.69" x2="106.30" y2="215.69" stroke="#444" stroke-width="0.4" />
<line x1="105.30" y1="217.38" x2="106.30" y2="217.38" stroke="#444" stroke-width="0.4" />
<line x1="105.30" y1="219.07" x2="106.30" y2="219.07" stroke="#444" stroke-width="0.4" />
<line x1="105.30" y1="220.76" x2="106.30" y2="220.76" stroke="#444" stroke-width="0.4" />
<line x1="105.30" y1="222.45" x2="106.30" y2="222.45" stroke="#444" stroke-width="0.4" />
<line x1="105.30" y1="224.13" x2="106.30" y2="224.13" stroke="#444" stroke-width="0.4" />
<line x1="105.30" y1="225.82" x2="106.30" y2="225.82" stroke="#444" stroke-width="0.4" />
<line x1="105.30" y1="227.51" x2="106.30" y2="227.51" stroke="#444" stroke-width="0.4" />
<line x1="105.30" y1="229.20" x2="106.30" y2="229.20" stroke="#444" stroke-width="0.4" />
<line x1="105.30" y1="230.89" x2="106.30" y2="230.89" stroke="#444" stroke-width="0.4" />
<line x1="105.30" y1="232.57" x2="106.30" y2="232.57" stroke="#444" stroke-width="0.4" />
<line x1="105.30" y1="234.26" x2="106.30" y2="234.26" stroke="#444" stroke-width="0.4" />
<line x1="105.30" y1="235.95" x2="106.30" y2="235.95" stroke="#444" stroke-width="0.4" />
<polyline points="107.25,236.25 107.25,236.25 107.50,236.25 107.75,236.25 108.00,236.25 108.25,236.25 108.50,236.25 108.75,236.25 109.00,236.25 109.25,236.25 109.50,236.25 109.75,236.25 110.00,236.25 110.25,236.24 110.50,236.23 110.75,236.21 111.00,236.14 111.25,235.98 111.50,235.66 111.75,235.02 112.00,233.87 112.25,231.97 112.50,229.06 112.75,224.97 113.00,219.73 113.25,213.70 113.50,207.51 113.75,202.08 114.00,198.34 114.25,197.00 114.50,198.01 114.75,200.90 115.00,205.24 115.25,210.43 115.50,215.85 115.75,220.96 116.00,225.37 116.25,228.90 116.50,231.54 116.75,233.39 117.00,234.60 117.25,235.35 117.50,235.78 117.75,236.02 118.00,236.14 118.25,236.20 118.50,236.23 118.75,236.24 119.00,236.25 119.25,236.25 119.50,236.25 119.75,236.25 120.00,236.25 120.25,236.25 120.50,236.25 120.75,236.25 121.00,236.25 121.25,236.25 121.25,236.25" stroke="#4a5b93" fill="#95a2c6" stroke-width="0.75" stroke-linejoin="round" fill-opacity="0.95"/>
<polyline points="106.00,236.20 111.40,236.20 113.30,230.00 114.90,225.40 116.00,227.50 117.40,229.50 119.00,229.00 120.10,227.25 121.50,224.00 122.60,219.10 123.70,213.00 124.50,207.90 125.75,206.00 126.75,201.60 127.60,198.50 128.25,204.00 128.80,201.00 129.50,211.00 130.80,217.00 132.00,223.50 133.30,229.00 134.50,232.90 136.40,236.20 151.30,236.20" stroke="#c9395a" fill="none" stroke-width="0.8" stroke-linejoin="round" />
<line x1="110.25" y1="236.25" x2="119.25" y2="236.25" stroke="#222" stroke-width="0.9" />
<rect x="106.30" y="191.25" width="45.30" height="45.60" fill="none" stroke="#2a2a2a" stroke-width="0.85"/>
<line x1="105.90" y1="191.25" x2="152.00" y2="191.25" stroke="#606060" stroke-width="1.5" />
<line x1="151.60" y1="191.25" x2="151.60" y2="236.85" stroke="#222" stroke-width="1.0" />
<text x="115.20" y="242.25" font-size="4.4" fill="#5a5a5a" text-anchor="middle" >0</text>
<text x="125.40" y="242.25" font-size="4.4" fill="#5a5a5a" text-anchor="middle" >10³</text>
<text x="136.30" y="242.25" font-size="4.4" fill="#5a5a5a" text-anchor="middle" >10⁴</text>
<text x="146.30" y="242.25" font-size="4.4" fill="#5a5a5a" text-anchor="middle" >10⁵</text>
<line x1="115.20" y1="236.85" x2="115.20" y2="238.05" stroke="#333" stroke-width="0.5" />
<line x1="125.40" y1="236.85" x2="125.40" y2="238.05" stroke="#333" stroke-width="0.5" />
<line x1="136.30" y1="236.85" x2="136.30" y2="238.05" stroke="#333" stroke-width="0.5" />
<line x1="146.30" y1="236.85" x2="146.30" y2="238.05" stroke="#333" stroke-width="0.5" />
<text x="42.90" y="251.35" font-size="4.5" fill="#5a5a5a" text-anchor="end" >100</text>
<line x1="43.40" y1="249.75" x2="45.20" y2="249.75" stroke="#333" stroke-width="0.6" />
<text x="42.90" y="259.79" font-size="4.5" fill="#5a5a5a" text-anchor="end" >80</text>
<line x1="43.40" y1="258.19" x2="45.20" y2="258.19" stroke="#333" stroke-width="0.6" />
<text x="42.90" y="268.23" font-size="4.5" fill="#5a5a5a" text-anchor="end" >60</text>
<line x1="43.40" y1="266.63" x2="45.20" y2="266.63" stroke="#333" stroke-width="0.6" />
<text x="42.90" y="276.67" font-size="4.5" fill="#5a5a5a" text-anchor="end" >40</text>
<line x1="43.40" y1="275.07" x2="45.20" y2="275.07" stroke="#333" stroke-width="0.6" />
<text x="42.90" y="285.11" font-size="4.5" fill="#5a5a5a" text-anchor="end" >20</text>
<line x1="43.40" y1="283.51" x2="45.20" y2="283.51" stroke="#333" stroke-width="0.6" />
<text x="42.90" y="293.55" font-size="4.5" fill="#5a5a5a" text-anchor="end" >0</text>
<line x1="43.40" y1="291.95" x2="45.20" y2="291.95" stroke="#333" stroke-width="0.6" />
<line x1="44.20" y1="249.75" x2="45.20" y2="249.75" stroke="#444" stroke-width="0.4" />
<line x1="44.20" y1="251.44" x2="45.20" y2="251.44" stroke="#444" stroke-width="0.4" />
<line x1="44.20" y1="253.13" x2="45.20" y2="253.13" stroke="#444" stroke-width="0.4" />
<line x1="44.20" y1="254.81" x2="45.20" y2="254.81" stroke="#444" stroke-width="0.4" />
<line x1="44.20" y1="256.50" x2="45.20" y2="256.50" stroke="#444" stroke-width="0.4" />
<line x1="44.20" y1="258.19" x2="45.20" y2="258.19" stroke="#444" stroke-width="0.4" />
<line x1="44.20" y1="259.88" x2="45.20" y2="259.88" stroke="#444" stroke-width="0.4" />
<line x1="44.20" y1="261.57" x2="45.20" y2="261.57" stroke="#444" stroke-width="0.4" />
<line x1="44.20" y1="263.25" x2="45.20" y2="263.25" stroke="#444" stroke-width="0.4" />
<line x1="44.20" y1="264.94" x2="45.20" y2="264.94" stroke="#444" stroke-width="0.4" />
<line x1="44.20" y1="266.63" x2="45.20" y2="266.63" stroke="#444" stroke-width="0.4" />
<line x1="44.20" y1="268.32" x2="45.20" y2="268.32" stroke="#444" stroke-width="0.4" />
<line x1="44.20" y1="270.01" x2="45.20" y2="270.01" stroke="#444" stroke-width="0.4" />
<line x1="44.20" y1="271.69" x2="45.20" y2="271.69" stroke="#444" stroke-width="0.4" />
<line x1="44.20" y1="273.38" x2="45.20" y2="273.38" stroke="#444" stroke-width="0.4" />
<line x1="44.20" y1="275.07" x2="45.20" y2="275.07" stroke="#444" stroke-width="0.4" />
<line x1="44.20" y1="276.76" x2="45.20" y2="276.76" stroke="#444" stroke-width="0.4" />
<line x1="44.20" y1="278.45" x2="45.20" y2="278.45" stroke="#444" stroke-width="0.4" />
<line x1="44.20" y1="280.13" x2="45.20" y2="280.13" stroke="#444" stroke-width="0.4" />
<line x1="44.20" y1="281.82" x2="45.20" y2="281.82" stroke="#444" stroke-width="0.4" />
<line x1="44.20" y1="283.51" x2="45.20" y2="283.51" stroke="#444" stroke-width="0.4" />
<line x1="44.20" y1="285.20" x2="45.20" y2="285.20" stroke="#444" stroke-width="0.4" />
<line x1="44.20" y1="286.89" x2="45.20" y2="286.89" stroke="#444" stroke-width="0.4" />
<line x1="44.20" y1="288.57" x2="45.20" y2="288.57" stroke="#444" stroke-width="0.4" />
<line x1="44.20" y1="290.26" x2="45.20" y2="290.26" stroke="#444" stroke-width="0.4" />
<line x1="44.20" y1="291.95" x2="45.20" y2="291.95" stroke="#444" stroke-width="0.4" />
<polyline points="46.50,292.25 46.50,292.25 46.75,292.25 47.00,292.25 47.25,292.25 47.50,292.25 47.75,292.25 48.00,292.25 48.25,292.25 48.50,292.25 48.75,292.25 49.00,292.25 49.25,292.25 49.50,292.24 49.75,292.23 50.00,292.20 50.25,292.13 50.50,291.97 50.75,291.62 51.00,290.95 51.25,289.74 51.50,287.72 51.75,284.64 52.00,280.32 52.25,274.79 52.50,268.40 52.75,261.86 53.00,256.12 53.25,252.16 53.50,250.75 53.75,251.82 54.00,254.88 54.25,259.46 54.50,264.95 54.75,270.68 55.00,276.08 55.25,280.75 55.50,284.48 55.75,287.27 56.00,289.22 56.25,290.50 56.50,291.29 56.75,291.75 57.00,292.00 57.25,292.14 57.50,292.20 57.75,292.23 58.00,292.24 58.25,292.25 58.50,292.25 58.75,292.25 59.00,292.25 59.25,292.25 59.50,292.25 59.75,292.25 60.00,292.25 60.25,292.25 60.50,292.25 60.50,292.25" stroke="#4a5b93" fill="#95a2c6" stroke-width="0.75" stroke-linejoin="round" fill-opacity="0.95"/>
<polyline points="45.00,292.00 50.00,292.00 51.30,275.00 52.80,255.00 53.50,250.75 54.30,255.00 55.70,275.00 57.00,290.00 58.00,292.00 90.90,292.00" stroke="#c9395a" fill="none" stroke-width="0.8" stroke-linejoin="round" />
<line x1="49.50" y1="292.25" x2="58.50" y2="292.25" stroke="#222" stroke-width="0.9" />
<rect x="45.20" y="247.25" width="45.70" height="45.60" fill="none" stroke="#2a2a2a" stroke-width="0.85"/>
<line x1="44.80" y1="247.25" x2="91.30" y2="247.25" stroke="#606060" stroke-width="1.5" />
<line x1="90.90" y1="247.25" x2="90.90" y2="292.85" stroke="#222" stroke-width="1.0" />
<text x="45.95" y="298.25" font-size="4.4" fill="#5a5a5a" text-anchor="middle" >-10³</text>
<text x="54.70" y="298.25" font-size="4.4" fill="#5a5a5a" text-anchor="middle" >0</text>
<text x="63.95" y="298.25" font-size="4.4" fill="#5a5a5a" text-anchor="middle" >10³</text>
<text x="75.20" y="298.25" font-size="4.4" fill="#5a5a5a" text-anchor="middle" >10⁴</text>
<text x="85.95" y="298.25" font-size="4.4" fill="#5a5a5a" text-anchor="middle" >10⁵</text>
<line x1="45.95" y1="292.85" x2="45.95" y2="294.05" stroke="#333" stroke-width="0.5" />
<line x1="54.70" y1="292.85" x2="54.70" y2="294.05" stroke="#333" stroke-width="0.5" />
<line x1="63.95" y1="292.85" x2="63.95" y2="294.05" stroke="#333" stroke-width="0.5" />
<line x1="75.20" y1="292.85" x2="75.20" y2="294.05" stroke="#333" stroke-width="0.5" />
<line x1="85.95" y1="292.85" x2="85.95" y2="294.05" stroke="#333" stroke-width="0.5" />
<text x="104.00" y="251.35" font-size="4.5" fill="#5a5a5a" text-anchor="end" >100</text>
<line x1="104.50" y1="249.75" x2="106.30" y2="249.75" stroke="#333" stroke-width="0.6" />
<text x="104.00" y="259.79" font-size="4.5" fill="#5a5a5a" text-anchor="end" >80</text>
<line x1="104.50" y1="258.19" x2="106.30" y2="258.19" stroke="#333" stroke-width="0.6" />
<text x="104.00" y="268.23" font-size="4.5" fill="#5a5a5a" text-anchor="end" >60</text>
<line x1="104.50" y1="266.63" x2="106.30" y2="266.63" stroke="#333" stroke-width="0.6" />
<text x="104.00" y="276.67" font-size="4.5" fill="#5a5a5a" text-anchor="end" >40</text>
<line x1="104.50" y1="275.07" x2="106.30" y2="275.07" stroke="#333" stroke-width="0.6" />
<text x="104.00" y="285.11" font-size="4.5" fill="#5a5a5a" text-anchor="end" >20</text>
<line x1="104.50" y1="283.51" x2="106.30" y2="283.51" stroke="#333" stroke-width="0.6" />
<text x="104.00" y="293.55" font-size="4.5" fill="#5a5a5a" text-anchor="end" >0</text>
<line x1="104.50" y1="291.95" x2="106.30" y2="291.95" stroke="#333" stroke-width="0.6" />
<line x1="105.30" y1="249.75" x2="106.30" y2="249.75" stroke="#444" stroke-width="0.4" />
<line x1="105.30" y1="251.44" x2="106.30" y2="251.44" stroke="#444" stroke-width="0.4" />
<line x1="105.30" y1="253.13" x2="106.30" y2="253.13" stroke="#444" stroke-width="0.4" />
<line x1="105.30" y1="254.81" x2="106.30" y2="254.81" stroke="#444" stroke-width="0.4" />
<line x1="105.30" y1="256.50" x2="106.30" y2="256.50" stroke="#444" stroke-width="0.4" />
<line x1="105.30" y1="258.19" x2="106.30" y2="258.19" stroke="#444" stroke-width="0.4" />
<line x1="105.30" y1="259.88" x2="106.30" y2="259.88" stroke="#444" stroke-width="0.4" />
<line x1="105.30" y1="261.57" x2="106.30" y2="261.57" stroke="#444" stroke-width="0.4" />
<line x1="105.30" y1="263.25" x2="106.30" y2="263.25" stroke="#444" stroke-width="0.4" />
<line x1="105.30" y1="264.94" x2="106.30" y2="264.94" stroke="#444" stroke-width="0.4" />
<line x1="105.30" y1="266.63" x2="106.30" y2="266.63" stroke="#444" stroke-width="0.4" />
<line x1="105.30" y1="268.32" x2="106.30" y2="268.32" stroke="#444" stroke-width="0.4" />
<line x1="105.30" y1="270.01" x2="106.30" y2="270.01" stroke="#444" stroke-width="0.4" />
<line x1="105.30" y1="271.69" x2="106.30" y2="271.69" stroke="#444" stroke-width="0.4" />
<line x1="105.30" y1="273.38" x2="106.30" y2="273.38" stroke="#444" stroke-width="0.4" />
<line x1="105.30" y1="275.07" x2="106.30" y2="275.07" stroke="#444" stroke-width="0.4" />
<line x1="105.30" y1="276.76" x2="106.30" y2="276.76" stroke="#444" stroke-width="0.4" />
<line x1="105.30" y1="278.45" x2="106.30" y2="278.45" stroke="#444" stroke-width="0.4" />
<line x1="105.30" y1="280.13" x2="106.30" y2="280.13" stroke="#444" stroke-width="0.4" />
<line x1="105.30" y1="281.82" x2="106.30" y2="281.82" stroke="#444" stroke-width="0.4" />
<line x1="105.30" y1="283.51" x2="106.30" y2="283.51" stroke="#444" stroke-width="0.4" />
<line x1="105.30" y1="285.20" x2="106.30" y2="285.20" stroke="#444" stroke-width="0.4" />
<line x1="105.30" y1="286.89" x2="106.30" y2="286.89" stroke="#444" stroke-width="0.4" />
<line x1="105.30" y1="288.57" x2="106.30" y2="288.57" stroke="#444" stroke-width="0.4" />
<line x1="105.30" y1="290.26" x2="106.30" y2="290.26" stroke="#444" stroke-width="0.4" />
<line x1="105.30" y1="291.95" x2="106.30" y2="291.95" stroke="#444" stroke-width="0.4" />
<polyline points="106.50,292.25 106.50,292.25 106.75,292.25 107.00,292.25 107.25,292.25 107.50,292.25 107.75,292.25 108.00,292.25 108.25,292.25 108.50,292.25 108.75,292.25 109.00,292.25 109.25,292.25 109.50,292.24 109.75,292.23 110.00,292.21 110.25,292.14 110.50,291.98 110.75,291.65 111.00,291.01 111.25,289.85 111.50,287.93 111.75,284.98 112.00,280.85 112.25,275.57 112.50,269.47 112.75,263.22 113.00,257.73 113.25,253.95 113.50,252.60 113.75,253.62 114.00,256.54 114.25,260.92 114.50,266.17 114.75,271.64 115.00,276.80 115.25,281.26 115.50,284.83 115.75,287.49 116.00,289.36 116.25,290.58 116.50,291.34 116.75,291.78 117.00,292.02 117.25,292.14 117.50,292.20 117.75,292.23 118.00,292.24 118.25,292.25 118.50,292.25 118.75,292.25 119.00,292.25 119.25,292.25 119.50,292.25 119.75,292.25 120.00,292.25 120.25,292.25 120.50,292.25 120.50,292.25" stroke="#4a5b93" fill="#95a2c6" stroke-width="0.75" stroke-linejoin="round" fill-opacity="0.95"/>
<polyline points="106.00,292.20 111.40,292.20 112.70,285.00 113.90,273.25 115.10,259.50 116.10,254.50 117.00,257.60 118.00,258.25 118.90,265.75 120.75,277.00 122.00,283.00 123.25,288.25 125.10,292.20 151.30,292.20" stroke="#c9395a" fill="none" stroke-width="0.8" stroke-linejoin="round" />
<line x1="109.50" y1="292.25" x2="118.50" y2="292.25" stroke="#222" stroke-width="0.9" />
<rect x="106.30" y="247.25" width="45.30" height="45.60" fill="none" stroke="#2a2a2a" stroke-width="0.85"/>
<line x1="105.90" y1="247.25" x2="152.00" y2="247.25" stroke="#606060" stroke-width="1.5" />
<line x1="151.60" y1="247.25" x2="151.60" y2="292.85" stroke="#222" stroke-width="1.0" />
<text x="115.20" y="298.25" font-size="4.4" fill="#5a5a5a" text-anchor="middle" >0</text>
<text x="126.70" y="298.25" font-size="4.4" fill="#5a5a5a" text-anchor="middle" >10³</text>
<text x="136.30" y="298.25" font-size="4.4" fill="#5a5a5a" text-anchor="middle" >10⁴</text>
<text x="146.30" y="298.25" font-size="4.4" fill="#5a5a5a" text-anchor="middle" >10⁵</text>
<line x1="115.20" y1="292.85" x2="115.20" y2="294.05" stroke="#333" stroke-width="0.5" />
<line x1="126.70" y1="292.85" x2="126.70" y2="294.05" stroke="#333" stroke-width="0.5" />
<line x1="136.30" y1="292.85" x2="136.30" y2="294.05" stroke="#333" stroke-width="0.5" />
<line x1="146.30" y1="292.85" x2="146.30" y2="294.05" stroke="#333" stroke-width="0.5" />
<path d="M210.50,125.05H194.00V133.68H210.50 M210.50,143.05H194.00V152.41H210.50 M194.00,129.37H171.90V147.73H194.00 M171.9,138.55H164.4 M210.50,189.87H202.30V199.24H210.50 M210.50,180.51H201.20V194.56H202.30 M210.50,208.60H205.50V217.97H210.50 M205.50,213.29H203.60V227.33H210.50 M203.60,220.31H200.90V236.70H210.50 M210.50,255.43H202.50V264.79H210.50 M210.50,246.06H199.50V260.11H202.50 M210.50,274.16H204.20V283.52H210.50 M199.50,253.09H195.10V278.84H204.20 M200.90,228.50H192.10V265.96H195.10 M201.20,187.53H186.80V247.23H192.10 M210.50,171.14H179.40V217.38H186.80 M210.50,161.78H176.00V194.26H179.40 M176.0,178.02H164.4" stroke="#7d8fbf" stroke-width="0.9" fill="none"/>
<path d="M163.1,114.4V117.3H210.9V114.4 M186.9,117.3V114.4" stroke="#333" stroke-width="1.1" fill="none"/>
<text transform="translate(166.50,111.3) rotate(-90)" font-size="6.7" fill="#222" textLength="30.0" lengthAdjust="spacingAndGlyphs">2.1111317</text>
<text transform="translate(189.50,111.3) rotate(-90)" font-size="6.7" fill="#222" textLength="30.0" lengthAdjust="spacingAndGlyphs">1.0555658</text>
<text transform="translate(212.00,111.3) rotate(-90)" font-size="6.7" fill="#222">0.0</text>
<path d="M222.19,121.10V94.25H245.56V121.10 M233.88,94.25V87.5H268.94V121.10 M251.41,87.5V73.75H292.31V121.10" stroke="#7d8fbf" stroke-width="0.9" fill="none"/>
<text transform="translate(224.29,69.6) rotate(-90)" font-size="6.7" fill="#222" textLength="5.5" lengthAdjust="spacingAndGlyphs">rL</text>
<text transform="translate(247.96,69.6) rotate(-90)" font-size="6.7" fill="#222" textLength="11.3" lengthAdjust="spacingAndGlyphs">cHL</text>
<text transform="translate(272.64,69.6) rotate(-90)" font-size="6.7" fill="#222" textLength="6.7" lengthAdjust="spacingAndGlyphs">FL</text>
<text transform="translate(294.71,69.6) rotate(-90)" font-size="6.7" fill="#222" textLength="19.6" lengthAdjust="spacingAndGlyphs">DLBCL</text>
<path d="M309.3,62.3H307.6V109.6H309.3 M307.6,86.0H309.3" stroke="#333" stroke-width="0.9" fill="none"/>
<text x="312.70" y="65.20" font-size="6.7" fill="#222" textLength="30.40" lengthAdjust="spacingAndGlyphs" >5.1177993</text>
<text x="312.70" y="89.30" font-size="6.7" fill="#222" textLength="30.40" lengthAdjust="spacingAndGlyphs" >2.5588996</text>
<text x="312.70" y="112.00" font-size="6.7" fill="#222" >0.0</text>
<defs><linearGradient id="cb" x1="0" x2="1" y1="0" y2="0"><stop offset="0" stop-color="#23237f"/><stop offset="0.2" stop-color="#141450"/><stop offset="0.42" stop-color="#040408"/><stop offset="0.55" stop-color="#0a0a02"/><stop offset="0.8" stop-color="#808000"/><stop offset="1" stop-color="#eef400"/></linearGradient></defs>
<rect x="210.00" y="26.40" width="94.40" height="7.10" fill="url(#cb)" />
<text x="212.70" y="44.20" font-size="8.3" fill="#222" textLength="14.50" lengthAdjust="spacingAndGlyphs" >−2.0</text>
<text x="250.50" y="44.20" font-size="8.3" fill="#222" textLength="12.10" lengthAdjust="spacingAndGlyphs" >0.0</text>
<text x="291.90" y="44.20" font-size="8.3" fill="#222" textLength="11.50" lengthAdjust="spacingAndGlyphs" >2.0</text>
<rect x="210.50" y="121.10" width="93.50" height="167.10" fill="#0c0c0c" />
<rect x="210.50" y="121.10" width="23.68" height="8.20" fill="#16166e" />
<rect x="233.88" y="121.10" width="23.68" height="8.20" fill="#0e0e1a" />
<rect x="257.25" y="121.10" width="23.68" height="8.20" fill="#d2da00" />
<rect x="280.62" y="121.10" width="23.68" height="8.20" fill="#1e1a0a" />
<rect x="210.50" y="129.00" width="23.68" height="9.67" fill="#0a0a38" />
<rect x="233.88" y="129.00" width="23.68" height="9.67" fill="#14120c" />
<rect x="257.25" y="129.00" width="23.68" height="9.67" fill="#b5b800" />
<rect x="280.62" y="129.00" width="23.68" height="9.67" fill="#0c0c0c" />
<rect x="210.50" y="138.37" width="23.68" height="9.66" fill="#0c0a26" />
<rect x="233.88" y="138.37" width="23.68" height="9.66" fill="#15120c" />
<rect x="257.25" y="138.37" width="23.68" height="9.66" fill="#1d1b0c" />
<rect x="280.62" y="138.37" width="23.68" height="9.66" fill="#0c0c0c" />
<rect x="210.50" y="147.73" width="23.68" height="9.67" fill="#171410" />
<rect x="233.88" y="147.73" width="23.68" height="9.67" fill="#191610" />
<rect x="257.25" y="147.73" width="23.68" height="9.67" fill="#0e0e10" />
<rect x="280.62" y="147.73" width="23.68" height="9.67" fill="#0c0c0c" />
<rect x="210.50" y="157.09" width="23.68" height="9.67" fill="#1c1a90" />
<rect x="233.88" y="157.09" width="23.68" height="9.67" fill="#2a2510" />
<rect x="257.25" y="157.09" width="23.68" height="9.67" fill="#0d0c2a" />
<rect x="280.62" y="157.09" width="23.68" height="9.67" fill="#b0b000" />
<rect x="210.50" y="166.46" width="23.68" height="9.66" fill="#16147a" />
<rect x="233.88" y="166.46" width="23.68" height="9.66" fill="#0c0a40" />
<rect x="257.25" y="166.46" width="23.68" height="9.66" fill="#403c10" />
<rect x="280.62" y="166.46" width="23.68" height="9.66" fill="#8e8a10" />
<rect x="210.50" y="175.82" width="23.68" height="9.67" fill="#0c0c0c" />
<rect x="233.88" y="175.82" width="23.68" height="9.67" fill="#0d0d0f" />
<rect x="257.25" y="175.82" width="23.68" height="9.67" fill="#0f0e1e" />
<rect x="280.62" y="175.82" width="23.68" height="9.67" fill="#d4dc00" />
<rect x="210.50" y="185.19" width="23.68" height="9.67" fill="#0d0d0d" />
<rect x="233.88" y="185.19" width="23.68" height="9.67" fill="#100f0c" />
<rect x="257.25" y="185.19" width="23.68" height="9.67" fill="#111018" />
<rect x="280.62" y="185.19" width="23.68" height="9.67" fill="#b5b500" />
<rect x="210.50" y="194.56" width="23.68" height="9.67" fill="#0f0e10" />
<rect x="233.88" y="194.56" width="23.68" height="9.67" fill="#0c0c0c" />
<rect x="257.25" y="194.56" width="23.68" height="9.67" fill="#0c0c0c" />
<rect x="280.62" y="194.56" width="23.68" height="9.67" fill="#d4dc00" />
<rect x="210.50" y="203.92" width="23.68" height="9.66" fill="#0e0e16" />
<rect x="233.88" y="203.92" width="23.68" height="9.66" fill="#0d0d0f" />
<rect x="257.25" y="203.92" width="23.68" height="9.66" fill="#0d0d0d" />
<rect x="280.62" y="203.92" width="23.68" height="9.66" fill="#221e0c" />
<rect x="210.50" y="213.28" width="23.68" height="9.67" fill="#0d0c22" />
<rect x="233.88" y="213.28" width="23.68" height="9.67" fill="#0e0e0e" />
<rect x="257.25" y="213.28" width="23.68" height="9.67" fill="#0e0e0e" />
<rect x="280.62" y="213.28" width="23.68" height="9.67" fill="#181610" />
<rect x="210.50" y="222.65" width="23.68" height="9.66" fill="#0e0d0e" />
<rect x="233.88" y="222.65" width="23.68" height="9.66" fill="#0f0e18" />
<rect x="257.25" y="222.65" width="23.68" height="9.66" fill="#0d0d0d" />
<rect x="280.62" y="222.65" width="23.68" height="9.66" fill="#24200c" />
<rect x="210.50" y="232.01" width="23.68" height="9.67" fill="#0e0e0e" />
<rect x="233.88" y="232.01" width="23.68" height="9.67" fill="#0c0d0d" />
<rect x="257.25" y="232.01" width="23.68" height="9.67" fill="#0d0d0d" />
<rect x="280.62" y="232.01" width="23.68" height="9.67" fill="#4a4510" />
<rect x="210.50" y="241.38" width="23.68" height="9.67" fill="#0e0e1c" />
<rect x="233.88" y="241.38" width="23.68" height="9.67" fill="#0e0e0e" />
<rect x="257.25" y="241.38" width="23.68" height="9.67" fill="#19150d" />
<rect x="280.62" y="241.38" width="23.68" height="9.67" fill="#7f7a14" />
<rect x="210.50" y="250.75" width="23.68" height="9.67" fill="#0a0840" />
<rect x="233.88" y="250.75" width="23.68" height="9.67" fill="#100f0e" />
<rect x="257.25" y="250.75" width="23.68" height="9.67" fill="#0d0d0d" />
<rect x="280.62" y="250.75" width="23.68" height="9.67" fill="#7a7614" />
<rect x="210.50" y="260.11" width="23.68" height="9.67" fill="#0a0840" />
<rect x="233.88" y="260.11" width="23.68" height="9.67" fill="#1a170d" />
<rect x="257.25" y="260.11" width="23.68" height="9.67" fill="#0e0e10" />
<rect x="280.62" y="260.11" width="23.68" height="9.67" fill="#b3b80a" />
<rect x="210.50" y="269.48" width="23.68" height="9.67" fill="#0c0a44" />
<rect x="233.88" y="269.48" width="23.68" height="9.67" fill="#1e1c0c" />
<rect x="257.25" y="269.48" width="23.68" height="9.67" fill="#0e0d1a" />
<rect x="280.62" y="269.48" width="23.68" height="9.67" fill="#5c5812" />
<rect x="210.50" y="278.84" width="23.68" height="9.67" fill="#12106a" />
<rect x="233.88" y="278.84" width="23.68" height="9.67" fill="#201e0e" />
<rect x="257.25" y="278.84" width="23.68" height="9.67" fill="#0e0d20" />
<rect x="280.62" y="278.84" width="23.68" height="9.67" fill="#484410" />
<text x="309.90" y="127.80" font-size="7.3" fill="#2e2e2e" textLength="20.30" lengthAdjust="spacingAndGlyphs" >TCD4</text>
<text x="337.20" y="127.80" font-size="7.7" fill="#2e2e2e" >PD1</text>
<text x="309.90" y="137.20" font-size="7.3" fill="#2e2e2e" textLength="20.30" lengthAdjust="spacingAndGlyphs" >TCD4</text>
<text x="337.20" y="137.20" font-size="7.7" fill="#2e2e2e" >BTLA</text>
<text x="309.90" y="146.60" font-size="7.3" fill="#2e2e2e" textLength="20.30" lengthAdjust="spacingAndGlyphs" >TCD8</text>
<text x="337.20" y="146.60" font-size="7.7" fill="#2e2e2e" >BTLA</text>
<text x="309.90" y="156.00" font-size="7.3" fill="#2e2e2e" textLength="20.30" lengthAdjust="spacingAndGlyphs" >TCD8</text>
<text x="337.20" y="156.00" font-size="7.7" fill="#2e2e2e" >HVEM</text>
<text x="309.90" y="165.40" font-size="7.3" fill="#2e2e2e" textLength="20.30" lengthAdjust="spacingAndGlyphs" >TCD4</text>
<text x="337.20" y="165.40" font-size="7.7" fill="#2e2e2e" >KI67</text>
<text x="309.90" y="174.80" font-size="7.3" fill="#2e2e2e" textLength="20.30" lengthAdjust="spacingAndGlyphs" >TCD8</text>
<text x="337.20" y="174.80" font-size="7.7" fill="#2e2e2e" >PD1</text>
<text x="309.90" y="184.20" font-size="7.3" fill="#2e2e2e" textLength="20.30" lengthAdjust="spacingAndGlyphs" >TCD8</text>
<text x="337.20" y="184.20" font-size="7.7" fill="#2e2e2e" >PDL1</text>
<text x="309.90" y="193.60" font-size="7.3" fill="#2e2e2e" textLength="20.30" lengthAdjust="spacingAndGlyphs" >TCD4</text>
<text x="337.20" y="193.60" font-size="7.7" fill="#2e2e2e" >PDL1</text>
<text x="309.90" y="203.00" font-size="7.3" fill="#2e2e2e" textLength="20.30" lengthAdjust="spacingAndGlyphs" >TCD8</text>
<text x="337.20" y="203.00" font-size="7.7" fill="#2e2e2e" >TIM3</text>
<text x="309.90" y="212.40" font-size="7.3" fill="#2e2e2e" textLength="20.30" lengthAdjust="spacingAndGlyphs" >TCD4</text>
<text x="337.20" y="212.40" font-size="7.7" fill="#2e2e2e" >PDL2</text>
<text x="309.90" y="221.80" font-size="7.3" fill="#2e2e2e" textLength="20.30" lengthAdjust="spacingAndGlyphs" >TCD4</text>
<text x="337.20" y="221.80" font-size="7.7" fill="#2e2e2e" >HVEM</text>
<text x="309.90" y="231.20" font-size="7.3" fill="#2e2e2e" textLength="20.30" lengthAdjust="spacingAndGlyphs" >TCD8</text>
<text x="337.20" y="231.20" font-size="7.7" fill="#2e2e2e" >PDL2</text>
<text x="309.90" y="240.60" font-size="7.3" fill="#2e2e2e" textLength="20.30" lengthAdjust="spacingAndGlyphs" >TCD8</text>
<text x="337.20" y="240.60" font-size="7.7" fill="#2e2e2e" >HLA DR</text>
<text x="309.90" y="250.00" font-size="7.3" fill="#2e2e2e" textLength="20.30" lengthAdjust="spacingAndGlyphs" >TCD4</text>
<text x="337.20" y="250.00" font-size="7.7" fill="#2e2e2e" >HLA DR</text>
<text x="309.90" y="259.40" font-size="7.3" fill="#2e2e2e" textLength="20.30" lengthAdjust="spacingAndGlyphs" >TCD4</text>
<text x="337.20" y="259.40" font-size="7.7" fill="#2e2e2e" >TIM3</text>
<text x="309.90" y="268.80" font-size="7.3" fill="#2e2e2e" textLength="20.30" lengthAdjust="spacingAndGlyphs" >TCD8</text>
<text x="337.20" y="268.80" font-size="7.7" fill="#2e2e2e" >CD80</text>
<text x="309.90" y="278.20" font-size="7.3" fill="#2e2e2e" textLength="20.30" lengthAdjust="spacingAndGlyphs" >TCD4</text>
<text x="337.20" y="278.20" font-size="7.7" fill="#2e2e2e" >CD80</text>
<text x="309.90" y="287.60" font-size="7.3" fill="#2e2e2e" textLength="20.30" lengthAdjust="spacingAndGlyphs" >TCD8</text>
<text x="337.20" y="287.60" font-size="7.7" fill="#2e2e2e" >KI67</text>
<text x="438.75" y="40.40" font-size="10.3" fill="#1a1a1a" textLength="54.00" lengthAdjust="spacingAndGlyphs" >CD4<tspan font-size="6.2" dy="-3.6">+</tspan><tspan dy="3.6"> T cells</tspan></text>
<line x1="418.25" y1="46.25" x2="418.25" y2="133.75" stroke="#111" stroke-width="1.2" />
<line x1="417.65" y1="133.25" x2="512.50" y2="133.25" stroke="#111" stroke-width="1.2" />
<line x1="415.05" y1="133.25" x2="418.25" y2="133.25" stroke="#111" stroke-width="1.0" />
<text x="408.70" y="135.90" font-size="8.8" fill="#222" textLength="4.40" lengthAdjust="spacingAndGlyphs" >0</text>
<line x1="415.05" y1="105.08" x2="418.25" y2="105.08" stroke="#111" stroke-width="1.0" />
<text x="404.10" y="107.73" font-size="8.8" fill="#222" textLength="9.00" lengthAdjust="spacingAndGlyphs" >50</text>
<line x1="415.05" y1="76.92" x2="418.25" y2="76.92" stroke="#111" stroke-width="1.0" />
<text x="399.70" y="79.57" font-size="8.8" fill="#222" textLength="13.40" lengthAdjust="spacingAndGlyphs" >100</text>
<line x1="415.05" y1="48.75" x2="418.25" y2="48.75" stroke="#111" stroke-width="1.0" />
<text x="399.70" y="51.40" font-size="8.8" fill="#222" textLength="13.40" lengthAdjust="spacingAndGlyphs" >150</text>
<line x1="430.50" y1="133.25" x2="430.50" y2="136.05" stroke="#111" stroke-width="1.0" />
<line x1="453.80" y1="133.25" x2="453.80" y2="136.05" stroke="#111" stroke-width="1.0" />
<line x1="476.80" y1="133.25" x2="476.80" y2="136.05" stroke="#111" stroke-width="1.0" />
<line x1="500.50" y1="133.25" x2="500.50" y2="136.05" stroke="#111" stroke-width="1.0" />
<text x="423.80" y="145.85" font-size="7.8" fill="#222" textLength="13.00" lengthAdjust="spacingAndGlyphs" >rLN</text>
<text x="446.80" y="145.85" font-size="7.8" fill="#222" textLength="13.90" lengthAdjust="spacingAndGlyphs" >cHL</text>
<text x="472.80" y="145.85" font-size="7.8" fill="#222" textLength="8.30" lengthAdjust="spacingAndGlyphs" >FL</text>
<text x="488.20" y="145.85" font-size="7.8" fill="#222" textLength="25.00" lengthAdjust="spacingAndGlyphs" >DLBCL</text>
<text transform="translate(393.4,135.55) rotate(-90)" font-size="10" fill="#222" textLength="92.8" lengthAdjust="spacingAndGlyphs">% TIM3<tspan font-size="8" dy="-1.4">+</tspan><tspan dy="1.4"> PD1</tspan><tspan font-size="8" dy="-1.4">+</tspan><tspan dy="1.4"> CD4</tspan><tspan font-size="8" dy="-1.4">+</tspan><tspan dy="1.4"> T cells</tspan></text>
<path d="M431.25,52.85V50.65H501.75V52.85" stroke="#111" stroke-width="1.0" fill="none"/>
<text x="466.50" y="51.25" font-size="8.5" fill="#222" text-anchor="middle" >****</text>
<path d="M450.00,62.85V60.65H501.75V62.85" stroke="#111" stroke-width="1.0" fill="none"/>
<text x="475.88" y="61.25" font-size="8.5" fill="#222" text-anchor="middle" >**</text>
<path d="M476.75,74.10V71.90H501.75V74.10" stroke="#111" stroke-width="1.0" fill="none"/>
<text x="489.25" y="72.50" font-size="8.5" fill="#222" text-anchor="middle" >*</text>
<circle cx="423.65" cy="130.79" r="1.25" fill="#7272cc"/>
<circle cx="426.48" cy="131.16" r="1.25" fill="#7272cc"/>
<circle cx="429.68" cy="130.03" r="1.25" fill="#7272cc"/>
<circle cx="432.13" cy="130.79" r="1.25" fill="#7272cc"/>
<circle cx="434.58" cy="130.03" r="1.25" fill="#7272cc"/>
<circle cx="436.85" cy="131.54" r="1.25" fill="#7272cc"/>
<circle cx="453.43" cy="109.49" r="1.25" fill="#7272cc"/>
<circle cx="451.92" cy="119.67" r="1.25" fill="#7272cc"/>
<circle cx="455.32" cy="121.74" r="1.25" fill="#7272cc"/>
<circle cx="447.21" cy="128.34" r="1.25" fill="#7272cc"/>
<circle cx="451.55" cy="129.66" r="1.25" fill="#7272cc"/>
<circle cx="455.69" cy="130.03" r="1.25" fill="#7272cc"/>
<circle cx="457.58" cy="130.03" r="1.25" fill="#7272cc"/>
<circle cx="459.84" cy="131.54" r="1.25" fill="#7272cc"/>
<circle cx="450.04" cy="129.66" r="1.25" fill="#7272cc"/>
<circle cx="476.99" cy="110.24" r="1.25" fill="#7272cc"/>
<circle cx="473.60" cy="117.97" r="1.25" fill="#7272cc"/>
<circle cx="470.77" cy="125.51" r="1.25" fill="#7272cc"/>
<circle cx="474.54" cy="122.12" r="1.25" fill="#7272cc"/>
<circle cx="477.37" cy="121.17" r="1.25" fill="#7272cc"/>
<circle cx="480.19" cy="121.74" r="1.25" fill="#7272cc"/>
<circle cx="483.02" cy="123.06" r="1.25" fill="#7272cc"/>
<circle cx="472.66" cy="124.00" r="1.25" fill="#7272cc"/>
<circle cx="475.48" cy="127.77" r="1.25" fill="#7272cc"/>
<circle cx="477.37" cy="129.66" r="1.25" fill="#7272cc"/>
<circle cx="479.25" cy="130.03" r="1.25" fill="#7272cc"/>
<circle cx="474.54" cy="129.09" r="1.25" fill="#7272cc"/>
<circle cx="481.14" cy="123.62" r="1.25" fill="#7272cc"/>
<circle cx="500.36" cy="82.16" r="1.25" fill="#7272cc"/>
<circle cx="500.36" cy="90.08" r="1.25" fill="#7272cc"/>
<circle cx="499.42" cy="94.79" r="1.25" fill="#7272cc"/>
<circle cx="501.30" cy="95.35" r="1.25" fill="#7272cc"/>
<circle cx="498.66" cy="99.12" r="1.25" fill="#7272cc"/>
<circle cx="500.92" cy="99.12" r="1.25" fill="#7272cc"/>
<circle cx="502.24" cy="101.95" r="1.25" fill="#7272cc"/>
<circle cx="500.36" cy="108.55" r="1.25" fill="#7272cc"/>
<circle cx="497.16" cy="116.46" r="1.25" fill="#7272cc"/>
<circle cx="499.98" cy="117.40" r="1.25" fill="#7272cc"/>
<circle cx="501.87" cy="117.40" r="1.25" fill="#7272cc"/>
<circle cx="503.75" cy="120.23" r="1.25" fill="#7272cc"/>
<circle cx="505.64" cy="121.17" r="1.25" fill="#7272cc"/>
<circle cx="500.92" cy="120.80" r="1.25" fill="#7272cc"/>
<circle cx="495.27" cy="120.23" r="1.25" fill="#7272cc"/>
<circle cx="498.10" cy="120.61" r="1.25" fill="#7272cc"/>
<circle cx="494.33" cy="123.62" r="1.25" fill="#7272cc"/>
<circle cx="497.16" cy="123.06" r="1.25" fill="#7272cc"/>
<circle cx="498.10" cy="128.71" r="1.25" fill="#7272cc"/>
<circle cx="499.98" cy="129.28" r="1.25" fill="#7272cc"/>
<circle cx="502.43" cy="130.60" r="1.25" fill="#7272cc"/>
<circle cx="503.75" cy="130.03" r="1.25" fill="#7272cc"/>
<line x1="423.30" y1="130.80" x2="436.50" y2="130.80" stroke="#111" stroke-width="1.2" />
<line x1="429.90" y1="129.90" x2="429.90" y2="131.60" stroke="#111" stroke-width="1.0" />
<line x1="427.50" y1="129.90" x2="433.50" y2="129.90" stroke="#111" stroke-width="1.1" />
<line x1="427.50" y1="131.60" x2="433.50" y2="131.60" stroke="#111" stroke-width="1.1" />
<line x1="446.10" y1="125.50" x2="461.60" y2="125.50" stroke="#111" stroke-width="1.2" />
<line x1="453.85" y1="123.10" x2="453.85" y2="127.40" stroke="#111" stroke-width="1.0" />
<line x1="450.40" y1="123.10" x2="457.60" y2="123.10" stroke="#111" stroke-width="1.1" />
<line x1="450.40" y1="127.40" x2="457.60" y2="127.40" stroke="#111" stroke-width="1.1" />
<line x1="469.60" y1="123.10" x2="484.70" y2="123.10" stroke="#111" stroke-width="1.2" />
<line x1="477.15" y1="121.60" x2="477.15" y2="124.40" stroke="#111" stroke-width="1.0" />
<line x1="473.50" y1="121.60" x2="481.00" y2="121.60" stroke="#111" stroke-width="1.1" />
<line x1="473.50" y1="124.40" x2="481.00" y2="124.40" stroke="#111" stroke-width="1.1" />
<line x1="493.10" y1="113.70" x2="508.10" y2="113.70" stroke="#111" stroke-width="1.2" />
<line x1="500.60" y1="111.10" x2="500.60" y2="116.20" stroke="#111" stroke-width="1.0" />
<line x1="497.40" y1="111.10" x2="504.20" y2="111.10" stroke="#111" stroke-width="1.1" />
<line x1="497.40" y1="116.20" x2="504.20" y2="116.20" stroke="#111" stroke-width="1.1" />
<text x="438.75" y="168.90" font-size="10.3" fill="#1a1a1a" textLength="54.00" lengthAdjust="spacingAndGlyphs" >CD8<tspan font-size="6.2" dy="-3.6">+</tspan><tspan dy="3.6"> T cells</tspan></text>
<line x1="418.25" y1="174.75" x2="418.25" y2="262.25" stroke="#111" stroke-width="1.2" />
<line x1="417.65" y1="261.75" x2="512.50" y2="261.75" stroke="#111" stroke-width="1.2" />
<line x1="415.05" y1="261.75" x2="418.25" y2="261.75" stroke="#111" stroke-width="1.0" />
<text x="408.70" y="264.40" font-size="8.8" fill="#222" textLength="4.40" lengthAdjust="spacingAndGlyphs" >0</text>
<line x1="415.05" y1="233.58" x2="418.25" y2="233.58" stroke="#111" stroke-width="1.0" />
<text x="404.10" y="236.23" font-size="8.8" fill="#222" textLength="9.00" lengthAdjust="spacingAndGlyphs" >50</text>
<line x1="415.05" y1="205.42" x2="418.25" y2="205.42" stroke="#111" stroke-width="1.0" />
<text x="399.70" y="208.07" font-size="8.8" fill="#222" textLength="13.40" lengthAdjust="spacingAndGlyphs" >100</text>
<line x1="415.05" y1="177.25" x2="418.25" y2="177.25" stroke="#111" stroke-width="1.0" />
<text x="399.70" y="179.90" font-size="8.8" fill="#222" textLength="13.40" lengthAdjust="spacingAndGlyphs" >150</text>
<line x1="430.50" y1="261.75" x2="430.50" y2="264.55" stroke="#111" stroke-width="1.0" />
<line x1="453.80" y1="261.75" x2="453.80" y2="264.55" stroke="#111" stroke-width="1.0" />
<line x1="476.80" y1="261.75" x2="476.80" y2="264.55" stroke="#111" stroke-width="1.0" />
<line x1="500.50" y1="261.75" x2="500.50" y2="264.55" stroke="#111" stroke-width="1.0" />
<text x="423.80" y="274.35" font-size="7.8" fill="#222" textLength="13.00" lengthAdjust="spacingAndGlyphs" >rLN</text>
<text x="446.80" y="274.35" font-size="7.8" fill="#222" textLength="13.90" lengthAdjust="spacingAndGlyphs" >cHL</text>
<text x="472.80" y="274.35" font-size="7.8" fill="#222" textLength="8.30" lengthAdjust="spacingAndGlyphs" >FL</text>
<text x="488.20" y="274.35" font-size="7.8" fill="#222" textLength="25.00" lengthAdjust="spacingAndGlyphs" >DLBCL</text>
<text transform="translate(393.4,264.05) rotate(-90)" font-size="10" fill="#222" textLength="92.8" lengthAdjust="spacingAndGlyphs">% TIM3<tspan font-size="8" dy="-1.4">+</tspan><tspan dy="1.4"> PD1</tspan><tspan font-size="8" dy="-1.4">+</tspan><tspan dy="1.4"> CD8</tspan><tspan font-size="8" dy="-1.4">+</tspan><tspan dy="1.4"> T cells</tspan></text>
<path d="M431.25,180.85V178.65H501.75V180.85" stroke="#111" stroke-width="1.0" fill="none"/>
<text x="466.50" y="179.25" font-size="8.5" fill="#222" text-anchor="middle" >****</text>
<path d="M450.00,191.35V189.15H501.75V191.35" stroke="#111" stroke-width="1.0" fill="none"/>
<text x="475.88" y="189.75" font-size="8.5" fill="#222" text-anchor="middle" >**</text>
<path d="M476.75,202.10V199.90H501.75V202.10" stroke="#111" stroke-width="1.0" fill="none"/>
<text x="489.25" y="200.50" font-size="8.5" fill="#222" text-anchor="middle" >**</text>
<circle cx="425.00" cy="259.75" r="1.25" fill="#7272cc"/>
<circle cx="427.50" cy="258.75" r="1.25" fill="#7272cc"/>
<circle cx="430.75" cy="259.75" r="1.25" fill="#7272cc"/>
<circle cx="433.00" cy="258.00" r="1.25" fill="#7272cc"/>
<circle cx="435.00" cy="260.25" r="1.25" fill="#7272cc"/>
<circle cx="436.25" cy="261.00" r="1.25" fill="#7272cc"/>
<circle cx="428.75" cy="261.00" r="1.25" fill="#7272cc"/>
<circle cx="453.75" cy="227.00" r="1.25" fill="#7272cc"/>
<circle cx="453.75" cy="246.25" r="1.25" fill="#7272cc"/>
<circle cx="450.00" cy="253.00" r="1.25" fill="#7272cc"/>
<circle cx="455.50" cy="253.00" r="1.25" fill="#7272cc"/>
<circle cx="448.75" cy="258.00" r="1.25" fill="#7272cc"/>
<circle cx="453.75" cy="259.25" r="1.25" fill="#7272cc"/>
<circle cx="458.75" cy="259.75" r="1.25" fill="#7272cc"/>
<circle cx="455.00" cy="261.00" r="1.25" fill="#7272cc"/>
<circle cx="477.00" cy="223.00" r="1.25" fill="#7272cc"/>
<circle cx="472.50" cy="229.25" r="1.25" fill="#7272cc"/>
<circle cx="481.25" cy="229.25" r="1.25" fill="#7272cc"/>
<circle cx="473.25" cy="240.50" r="1.25" fill="#7272cc"/>
<circle cx="477.50" cy="241.75" r="1.25" fill="#7272cc"/>
<circle cx="475.00" cy="245.00" r="1.25" fill="#7272cc"/>
<circle cx="470.00" cy="246.75" r="1.25" fill="#7272cc"/>
<circle cx="479.50" cy="246.75" r="1.25" fill="#7272cc"/>
<circle cx="482.50" cy="249.25" r="1.25" fill="#7272cc"/>
<circle cx="472.50" cy="250.50" r="1.25" fill="#7272cc"/>
<circle cx="476.25" cy="252.50" r="1.25" fill="#7272cc"/>
<circle cx="480.00" cy="256.25" r="1.25" fill="#7272cc"/>
<circle cx="471.25" cy="256.25" r="1.25" fill="#7272cc"/>
<circle cx="476.25" cy="258.50" r="1.25" fill="#7272cc"/>
<circle cx="498.00" cy="208.00" r="1.25" fill="#7272cc"/>
<circle cx="502.50" cy="208.50" r="1.25" fill="#7272cc"/>
<circle cx="496.25" cy="211.75" r="1.25" fill="#7272cc"/>
<circle cx="502.00" cy="212.50" r="1.25" fill="#7272cc"/>
<circle cx="500.00" cy="215.00" r="1.25" fill="#7272cc"/>
<circle cx="503.75" cy="215.50" r="1.25" fill="#7272cc"/>
<circle cx="494.50" cy="219.25" r="1.25" fill="#7272cc"/>
<circle cx="497.50" cy="220.50" r="1.25" fill="#7272cc"/>
<circle cx="504.50" cy="221.75" r="1.25" fill="#7272cc"/>
<circle cx="501.25" cy="224.25" r="1.25" fill="#7272cc"/>
<circle cx="496.25" cy="225.50" r="1.25" fill="#7272cc"/>
<circle cx="500.00" cy="226.75" r="1.25" fill="#7272cc"/>
<circle cx="505.00" cy="227.50" r="1.25" fill="#7272cc"/>
<circle cx="495.00" cy="229.25" r="1.25" fill="#7272cc"/>
<circle cx="498.00" cy="230.50" r="1.25" fill="#7272cc"/>
<circle cx="502.50" cy="230.50" r="1.25" fill="#7272cc"/>
<circle cx="506.25" cy="231.75" r="1.25" fill="#7272cc"/>
<circle cx="501.25" cy="235.50" r="1.25" fill="#7272cc"/>
<circle cx="497.50" cy="238.00" r="1.25" fill="#7272cc"/>
<circle cx="495.00" cy="243.00" r="1.25" fill="#7272cc"/>
<circle cx="503.75" cy="244.25" r="1.25" fill="#7272cc"/>
<circle cx="500.00" cy="247.50" r="1.25" fill="#7272cc"/>
<circle cx="505.00" cy="249.25" r="1.25" fill="#7272cc"/>
<circle cx="496.25" cy="250.50" r="1.25" fill="#7272cc"/>
<circle cx="501.25" cy="251.75" r="1.25" fill="#7272cc"/>
<circle cx="495.00" cy="256.75" r="1.25" fill="#7272cc"/>
<circle cx="500.00" cy="257.25" r="1.25" fill="#7272cc"/>
<circle cx="504.50" cy="257.25" r="1.25" fill="#7272cc"/>
<line x1="423.75" y1="259.75" x2="437.50" y2="259.75" stroke="#111" stroke-width="1.2" />
<line x1="430.62" y1="258.90" x2="430.62" y2="260.60" stroke="#111" stroke-width="1.0" />
<line x1="428.00" y1="258.90" x2="433.00" y2="258.90" stroke="#111" stroke-width="1.1" />
<line x1="428.00" y1="260.60" x2="433.00" y2="260.60" stroke="#111" stroke-width="1.1" />
<line x1="445.50" y1="251.00" x2="461.25" y2="251.00" stroke="#111" stroke-width="1.2" />
<line x1="453.38" y1="248.00" x2="453.38" y2="254.25" stroke="#111" stroke-width="1.0" />
<line x1="450.00" y1="248.00" x2="457.00" y2="248.00" stroke="#111" stroke-width="1.1" />
<line x1="450.00" y1="254.25" x2="457.00" y2="254.25" stroke="#111" stroke-width="1.1" />
<line x1="468.75" y1="244.75" x2="485.00" y2="244.75" stroke="#111" stroke-width="1.2" />
<line x1="476.88" y1="241.75" x2="476.88" y2="248.00" stroke="#111" stroke-width="1.0" />
<line x1="473.00" y1="241.75" x2="481.00" y2="241.75" stroke="#111" stroke-width="1.1" />
<line x1="473.00" y1="248.00" x2="481.00" y2="248.00" stroke="#111" stroke-width="1.1" />
<line x1="494.50" y1="231.25" x2="508.00" y2="231.25" stroke="#111" stroke-width="1.2" />
<line x1="501.25" y1="228.50" x2="501.25" y2="234.25" stroke="#111" stroke-width="1.0" />
<line x1="497.50" y1="228.50" x2="504.50" y2="228.50" stroke="#111" stroke-width="1.1" />
<line x1="497.50" y1="234.25" x2="504.50" y2="234.25" stroke="#111" stroke-width="1.1" />
<line x1="53.25" y1="330.75" x2="53.25" y2="427.25" stroke="#111" stroke-width="1.2" />
<line x1="52.65" y1="426.75" x2="152.30" y2="426.75" stroke="#111" stroke-width="1.2" />
<line x1="50.25" y1="426.75" x2="53.25" y2="426.75" stroke="#111" stroke-width="1.0" />
<text x="43.85" y="429.40" font-size="8.6" fill="#222" textLength="4.20" lengthAdjust="spacingAndGlyphs" >0</text>
<line x1="50.25" y1="408.00" x2="53.25" y2="408.00" stroke="#111" stroke-width="1.0" />
<text x="39.45" y="410.65" font-size="8.6" fill="#222" textLength="8.60" lengthAdjust="spacingAndGlyphs" >20</text>
<line x1="50.25" y1="389.25" x2="53.25" y2="389.25" stroke="#111" stroke-width="1.0" />
<text x="39.45" y="391.90" font-size="8.6" fill="#222" textLength="8.60" lengthAdjust="spacingAndGlyphs" >40</text>
<line x1="50.25" y1="370.50" x2="53.25" y2="370.50" stroke="#111" stroke-width="1.0" />
<text x="39.45" y="373.15" font-size="8.6" fill="#222" textLength="8.60" lengthAdjust="spacingAndGlyphs" >60</text>
<line x1="50.25" y1="351.75" x2="53.25" y2="351.75" stroke="#111" stroke-width="1.0" />
<text x="39.45" y="354.40" font-size="8.6" fill="#222" textLength="8.60" lengthAdjust="spacingAndGlyphs" >80</text>
<line x1="50.25" y1="333.00" x2="53.25" y2="333.00" stroke="#111" stroke-width="1.0" />
<text x="35.45" y="335.65" font-size="8.6" fill="#222" textLength="12.60" lengthAdjust="spacingAndGlyphs" >100</text>
<line x1="70.00" y1="426.75" x2="70.00" y2="429.35" stroke="#111" stroke-width="1.0" />
<text x="63.75" y="439.45" font-size="8.6" fill="#222" textLength="12.50" lengthAdjust="spacingAndGlyphs" >GC</text>
<line x1="102.50" y1="426.75" x2="102.50" y2="429.35" stroke="#111" stroke-width="1.0" />
<text x="94.50" y="439.45" font-size="8.6" fill="#222" textLength="16.00" lengthAdjust="spacingAndGlyphs" >ABC</text>
<line x1="135.60" y1="426.75" x2="135.60" y2="429.35" stroke="#111" stroke-width="1.0" />
<text x="131.20" y="439.45" font-size="8.6" fill="#222" textLength="8.80" lengthAdjust="spacingAndGlyphs" >FL</text>
<line x1="66.25" y1="330.75" x2="103.75" y2="330.75" stroke="#666" stroke-width="1.5" />
<text x="85.00" y="333.30" font-size="10.5" fill="#222" text-anchor="middle" >*</text>
<text transform="translate(28.85,423.75) rotate(-90)" font-size="10" fill="#222" textLength="91.3" lengthAdjust="spacingAndGlyphs">% TIM3<tspan font-size="8" dy="-1.4">+</tspan><tspan dy="1.4"> PD1</tspan><tspan font-size="8" dy="-1.4">+</tspan><tspan dy="1.4"> CD8</tspan><tspan font-size="8" dy="-1.4">+</tspan><tspan dy="1.4"> T cells</tspan></text>
<circle cx="63.75" cy="367.50" r="1.55" fill="#1b3676"/>
<circle cx="70.00" cy="369.25" r="1.55" fill="#1b3676"/>
<circle cx="75.50" cy="368.00" r="1.55" fill="#1b3676"/>
<circle cx="69.50" cy="388.75" r="1.55" fill="#1b3676"/>
<circle cx="64.50" cy="405.00" r="1.55" fill="#1b3676"/>
<circle cx="70.00" cy="410.00" r="1.55" fill="#1b3676"/>
<circle cx="75.00" cy="407.50" r="1.55" fill="#1b3676"/>
<circle cx="67.00" cy="417.50" r="1.55" fill="#1b3676"/>
<circle cx="72.50" cy="417.50" r="1.55" fill="#1b3676"/>
<circle cx="102.50" cy="338.25" r="1.55" fill="#b3122e"/>
<circle cx="102.50" cy="342.00" r="1.55" fill="#b3122e"/>
<circle cx="100.00" cy="350.00" r="1.55" fill="#b3122e"/>
<circle cx="105.75" cy="348.00" r="1.55" fill="#b3122e"/>
<circle cx="99.50" cy="356.25" r="1.55" fill="#b3122e"/>
<circle cx="106.25" cy="354.25" r="1.55" fill="#b3122e"/>
<circle cx="105.75" cy="356.75" r="1.55" fill="#b3122e"/>
<circle cx="102.50" cy="362.50" r="1.55" fill="#b3122e"/>
<circle cx="99.50" cy="375.50" r="1.55" fill="#b3122e"/>
<circle cx="103.00" cy="375.75" r="1.55" fill="#b3122e"/>
<circle cx="102.50" cy="378.75" r="1.55" fill="#b3122e"/>
<circle cx="102.50" cy="385.00" r="1.55" fill="#b3122e"/>
<circle cx="102.50" cy="398.00" r="1.55" fill="#b3122e"/>
<circle cx="102.50" cy="414.50" r="1.55" fill="#b3122e"/>
<path d="M135.50,360.25L137.16,363.23L133.84,363.23Z" fill="#7dc142"/>
<path d="M132.50,370.75L134.16,373.73L130.84,373.73Z" fill="#7dc142"/>
<path d="M138.00,370.75L139.66,373.73L136.34,373.73Z" fill="#7dc142"/>
<path d="M132.50,377.00L134.16,379.98L130.84,379.98Z" fill="#7dc142"/>
<path d="M135.50,389.50L137.16,392.48L133.84,392.48Z" fill="#7dc142"/>
<path d="M137.50,394.50L139.16,397.48L135.84,397.48Z" fill="#7dc142"/>
<path d="M131.25,399.50L132.91,402.48L129.59,402.48Z" fill="#7dc142"/>
<path d="M136.25,400.75L137.91,403.73L134.59,403.73Z" fill="#7dc142"/>
<path d="M140.00,400.25L141.66,403.23L138.34,403.23Z" fill="#7dc142"/>
<path d="M130.00,407.00L131.66,409.98L128.34,409.98Z" fill="#7dc142"/>
<path d="M135.50,408.25L137.16,411.23L133.84,411.23Z" fill="#7dc142"/>
<path d="M141.25,407.00L142.91,409.98L139.59,409.98Z" fill="#7dc142"/>
<path d="M132.50,412.75L134.16,415.73L130.84,415.73Z" fill="#7dc142"/>
<path d="M138.75,414.50L140.41,417.48L137.09,417.48Z" fill="#7dc142"/>
<path d="M135.50,419.00L137.16,421.98L133.84,421.98Z" fill="#7dc142"/>
<line x1="58.75" y1="394.25" x2="80.75" y2="394.25" stroke="#111" stroke-width="1.2" />
<line x1="69.75" y1="387.50" x2="69.75" y2="401.25" stroke="#111" stroke-width="1.0" />
<line x1="65.00" y1="387.50" x2="75.00" y2="387.50" stroke="#111" stroke-width="1.1" />
<line x1="65.00" y1="401.25" x2="75.00" y2="401.25" stroke="#111" stroke-width="1.1" />
<line x1="92.50" y1="366.75" x2="113.25" y2="366.75" stroke="#111" stroke-width="1.2" />
<line x1="102.88" y1="360.75" x2="102.88" y2="372.50" stroke="#111" stroke-width="1.0" />
<line x1="97.50" y1="360.75" x2="108.00" y2="360.75" stroke="#111" stroke-width="1.1" />
<line x1="97.50" y1="372.50" x2="108.00" y2="372.50" stroke="#111" stroke-width="1.1" />
<line x1="124.50" y1="397.50" x2="146.25" y2="397.50" stroke="#111" stroke-width="1.2" />
<line x1="135.38" y1="393.25" x2="135.38" y2="402.50" stroke="#111" stroke-width="1.0" />
<line x1="130.00" y1="393.25" x2="141.00" y2="393.25" stroke="#111" stroke-width="1.1" />
<line x1="130.00" y1="402.50" x2="141.00" y2="402.50" stroke="#111" stroke-width="1.1" />
<line x1="196.75" y1="330.75" x2="196.75" y2="426.75" stroke="#111" stroke-width="1.2" />
<line x1="196.15" y1="426.25" x2="297.50" y2="426.25" stroke="#111" stroke-width="1.2" />
<line x1="193.75" y1="426.25" x2="196.75" y2="426.25" stroke="#111" stroke-width="1.0" />
<text x="187.35" y="428.90" font-size="8.6" fill="#222" textLength="4.20" lengthAdjust="spacingAndGlyphs" >0</text>
<line x1="193.75" y1="407.55" x2="196.75" y2="407.55" stroke="#111" stroke-width="1.0" />
<text x="182.95" y="410.20" font-size="8.6" fill="#222" textLength="8.60" lengthAdjust="spacingAndGlyphs" >20</text>
<line x1="193.75" y1="388.85" x2="196.75" y2="388.85" stroke="#111" stroke-width="1.0" />
<text x="182.95" y="391.50" font-size="8.6" fill="#222" textLength="8.60" lengthAdjust="spacingAndGlyphs" >40</text>
<line x1="193.75" y1="370.15" x2="196.75" y2="370.15" stroke="#111" stroke-width="1.0" />
<text x="182.95" y="372.80" font-size="8.6" fill="#222" textLength="8.60" lengthAdjust="spacingAndGlyphs" >60</text>
<line x1="193.75" y1="351.45" x2="196.75" y2="351.45" stroke="#111" stroke-width="1.0" />
<text x="182.95" y="354.10" font-size="8.6" fill="#222" textLength="8.60" lengthAdjust="spacingAndGlyphs" >80</text>
<line x1="193.75" y1="332.75" x2="196.75" y2="332.75" stroke="#111" stroke-width="1.0" />
<text x="178.95" y="335.40" font-size="8.6" fill="#222" textLength="12.60" lengthAdjust="spacingAndGlyphs" >100</text>
<line x1="213.75" y1="426.25" x2="213.75" y2="428.85" stroke="#111" stroke-width="1.0" />
<text x="207.50" y="438.95" font-size="8.6" fill="#222" textLength="12.50" lengthAdjust="spacingAndGlyphs" >GC</text>
<line x1="246.25" y1="426.25" x2="246.25" y2="428.85" stroke="#111" stroke-width="1.0" />
<text x="238.25" y="438.95" font-size="8.6" fill="#222" textLength="16.00" lengthAdjust="spacingAndGlyphs" >ABC</text>
<line x1="280.00" y1="426.25" x2="280.00" y2="428.85" stroke="#111" stroke-width="1.0" />
<text x="275.60" y="438.95" font-size="8.6" fill="#222" textLength="8.80" lengthAdjust="spacingAndGlyphs" >FL</text>
<line x1="210.00" y1="332.00" x2="246.25" y2="332.00" stroke="#666" stroke-width="1.5" />
<text x="228.25" y="334.30" font-size="10.5" fill="#222" text-anchor="middle" >*</text>
<text transform="translate(172.00,423.25) rotate(-90)" font-size="10" fill="#222" textLength="91.3" lengthAdjust="spacingAndGlyphs">% TIM3<tspan font-size="8" dy="-1.4">+</tspan><tspan dy="1.4"> PD1</tspan><tspan font-size="8" dy="-1.4">+</tspan><tspan dy="1.4"> CD4</tspan><tspan font-size="8" dy="-1.4">+</tspan><tspan dy="1.4"> T cells</tspan></text>
<circle cx="213.75" cy="374.50" r="1.55" fill="#1b3676"/>
<circle cx="213.75" cy="398.00" r="1.55" fill="#1b3676"/>
<circle cx="206.25" cy="407.50" r="1.55" fill="#1b3676"/>
<circle cx="221.25" cy="405.75" r="1.55" fill="#1b3676"/>
<circle cx="213.75" cy="410.00" r="1.55" fill="#1b3676"/>
<circle cx="206.25" cy="419.25" r="1.55" fill="#1b3676"/>
<circle cx="213.75" cy="419.50" r="1.55" fill="#1b3676"/>
<circle cx="221.25" cy="420.00" r="1.55" fill="#1b3676"/>
<circle cx="246.25" cy="342.00" r="1.55" fill="#b3122e"/>
<circle cx="246.25" cy="355.00" r="1.55" fill="#b3122e"/>
<circle cx="246.25" cy="363.75" r="1.55" fill="#b3122e"/>
<circle cx="242.50" cy="370.00" r="1.55" fill="#b3122e"/>
<circle cx="250.00" cy="369.50" r="1.55" fill="#b3122e"/>
<circle cx="246.25" cy="384.50" r="1.55" fill="#b3122e"/>
<circle cx="246.25" cy="391.25" r="1.55" fill="#b3122e"/>
<circle cx="253.75" cy="397.50" r="1.55" fill="#b3122e"/>
<circle cx="239.50" cy="401.25" r="1.55" fill="#b3122e"/>
<circle cx="243.00" cy="405.50" r="1.55" fill="#b3122e"/>
<circle cx="250.00" cy="405.50" r="1.55" fill="#b3122e"/>
<circle cx="246.25" cy="410.75" r="1.55" fill="#b3122e"/>
<circle cx="246.25" cy="423.00" r="1.55" fill="#b3122e"/>
<path d="M279.50,387.50L281.16,390.48L277.84,390.48Z" fill="#7dc142"/>
<path d="M279.50,399.50L281.16,402.48L277.84,402.48Z" fill="#7dc142"/>
<path d="M276.25,402.75L277.91,405.73L274.59,405.73Z" fill="#7dc142"/>
<path d="M282.00,404.50L283.66,407.48L280.34,407.48Z" fill="#7dc142"/>
<path d="M272.50,405.75L274.16,408.73L270.84,408.73Z" fill="#7dc142"/>
<path d="M270.00,407.00L271.66,409.98L268.34,409.98Z" fill="#7dc142"/>
<path d="M277.50,408.25L279.16,411.23L275.84,411.23Z" fill="#7dc142"/>
<path d="M274.50,409.50L276.16,412.48L272.84,412.48Z" fill="#7dc142"/>
<path d="M283.75,409.50L285.41,412.48L282.09,412.48Z" fill="#7dc142"/>
<path d="M287.50,408.25L289.16,411.23L285.84,411.23Z" fill="#7dc142"/>
<path d="M280.00,413.25L281.66,416.23L278.34,416.23Z" fill="#7dc142"/>
<path d="M275.00,417.00L276.66,419.98L273.34,419.98Z" fill="#7dc142"/>
<path d="M283.75,418.25L285.41,421.23L282.09,421.23Z" fill="#7dc142"/>
<path d="M280.00,419.50L281.66,422.48L278.34,422.48Z" fill="#7dc142"/>
<line x1="203.75" y1="406.25" x2="224.50" y2="406.25" stroke="#111" stroke-width="1.2" />
<line x1="214.12" y1="401.75" x2="214.12" y2="411.25" stroke="#111" stroke-width="1.0" />
<line x1="208.50" y1="401.75" x2="219.50" y2="401.75" stroke="#111" stroke-width="1.1" />
<line x1="208.50" y1="411.25" x2="219.50" y2="411.25" stroke="#111" stroke-width="1.1" />
<line x1="235.50" y1="387.50" x2="257.50" y2="387.50" stroke="#111" stroke-width="1.2" />
<line x1="246.50" y1="380.75" x2="246.50" y2="393.75" stroke="#111" stroke-width="1.0" />
<line x1="241.00" y1="380.75" x2="252.00" y2="380.75" stroke="#111" stroke-width="1.1" />
<line x1="241.00" y1="393.75" x2="252.00" y2="393.75" stroke="#111" stroke-width="1.1" />
<line x1="268.75" y1="409.50" x2="290.00" y2="409.50" stroke="#111" stroke-width="1.2" />
<line x1="279.38" y1="407.50" x2="279.38" y2="412.50" stroke="#111" stroke-width="1.0" />
<line x1="274.00" y1="407.50" x2="285.00" y2="407.50" stroke="#111" stroke-width="1.1" />
<line x1="274.00" y1="412.50" x2="285.00" y2="412.50" stroke="#111" stroke-width="1.1" />
<line x1="53.25" y1="453.00" x2="53.25" y2="556.75" stroke="#111" stroke-width="1.2" />
<line x1="52.65" y1="556.25" x2="208.00" y2="556.25" stroke="#111" stroke-width="1.2" />
<line x1="50.25" y1="556.25" x2="53.25" y2="556.25" stroke="#111" stroke-width="1.0" />
<text x="44.85" y="558.90" font-size="8.6" fill="#222" textLength="4.20" lengthAdjust="spacingAndGlyphs" >0</text>
<line x1="53.25" y1="556.25" x2="53.25" y2="558.85" stroke="#111" stroke-width="1.0" />
<text x="51.15" y="569.20" font-size="8.6" fill="#222" textLength="4.20" lengthAdjust="spacingAndGlyphs" >0</text>
<line x1="50.25" y1="535.95" x2="53.25" y2="535.95" stroke="#111" stroke-width="1.0" />
<text x="40.45" y="538.60" font-size="8.6" fill="#222" textLength="8.60" lengthAdjust="spacingAndGlyphs" >20</text>
<line x1="83.85" y1="556.25" x2="83.85" y2="558.85" stroke="#111" stroke-width="1.0" />
<text x="79.55" y="569.20" font-size="8.6" fill="#222" textLength="8.60" lengthAdjust="spacingAndGlyphs" >20</text>
<line x1="50.25" y1="515.65" x2="53.25" y2="515.65" stroke="#111" stroke-width="1.0" />
<text x="40.45" y="518.30" font-size="8.6" fill="#222" textLength="8.60" lengthAdjust="spacingAndGlyphs" >40</text>
<line x1="114.45" y1="556.25" x2="114.45" y2="558.85" stroke="#111" stroke-width="1.0" />
<text x="110.15" y="569.20" font-size="8.6" fill="#222" textLength="8.60" lengthAdjust="spacingAndGlyphs" >40</text>
<line x1="50.25" y1="495.35" x2="53.25" y2="495.35" stroke="#111" stroke-width="1.0" />
<text x="40.45" y="498.00" font-size="8.6" fill="#222" textLength="8.60" lengthAdjust="spacingAndGlyphs" >60</text>
<line x1="145.05" y1="556.25" x2="145.05" y2="558.85" stroke="#111" stroke-width="1.0" />
<text x="140.75" y="569.20" font-size="8.6" fill="#222" textLength="8.60" lengthAdjust="spacingAndGlyphs" >60</text>
<line x1="50.25" y1="475.05" x2="53.25" y2="475.05" stroke="#111" stroke-width="1.0" />
<text x="40.45" y="477.70" font-size="8.6" fill="#222" textLength="8.60" lengthAdjust="spacingAndGlyphs" >80</text>
<line x1="175.65" y1="556.25" x2="175.65" y2="558.85" stroke="#111" stroke-width="1.0" />
<text x="171.35" y="569.20" font-size="8.6" fill="#222" textLength="8.60" lengthAdjust="spacingAndGlyphs" >80</text>
<line x1="50.25" y1="454.75" x2="53.25" y2="454.75" stroke="#111" stroke-width="1.0" />
<text x="36.45" y="457.40" font-size="8.6" fill="#222" textLength="12.60" lengthAdjust="spacingAndGlyphs" >100</text>
<line x1="206.25" y1="556.25" x2="206.25" y2="558.85" stroke="#111" stroke-width="1.0" />
<text x="199.95" y="569.20" font-size="8.6" fill="#222" textLength="12.60" lengthAdjust="spacingAndGlyphs" >100</text>
<text transform="translate(28.85,549.0) rotate(-90)" font-size="10" fill="#222" textLength="91.3" lengthAdjust="spacingAndGlyphs">% TIM3<tspan font-size="8" dy="-1.4">+</tspan><tspan dy="1.4"> PD1</tspan><tspan font-size="8" dy="-1.4">+</tspan><tspan dy="1.4"> CD4</tspan><tspan font-size="8" dy="-1.4">+</tspan><tspan dy="1.4"> T cells</tspan></text>
<text x="84.5" y="582.3" font-size="10" fill="#222" textLength="93" lengthAdjust="spacingAndGlyphs">% TIM3<tspan font-size="8" dy="-1.4">+</tspan><tspan dy="1.4"> PD1</tspan><tspan font-size="8" dy="-1.4">+</tspan><tspan dy="1.4"> CD8</tspan><tspan font-size="8" dy="-1.4">+</tspan><tspan dy="1.4"> T cells</tspan></text>
<text x="60.75" y="466.10" font-size="8" fill="#222" textLength="33.00" lengthAdjust="spacingAndGlyphs" >R2 = 0.46</text>
<text x="60.75" y="474.80" font-size="8" fill="#222" textLength="37.25" lengthAdjust="spacingAndGlyphs" >p = 0.0002</text>
<text x="60.75" y="484.10" font-size="8" fill="#222" textLength="21.75" lengthAdjust="spacingAndGlyphs" >n = 25</text>
<line x1="67.00" y1="547.25" x2="198.75" y2="496.50" stroke="#111" stroke-width="1.2" />
<circle cx="67.00" cy="533.50" r="1.55" fill="#1b3676"/>
<circle cx="67.00" cy="548.50" r="1.55" fill="#1b3676"/>
<circle cx="79.25" cy="548.50" r="1.55" fill="#1b3676"/>
<circle cx="83.00" cy="537.75" r="1.55" fill="#1b3676"/>
<circle cx="87.00" cy="525.25" r="1.55" fill="#1b3676"/>
<circle cx="115.00" cy="549.00" r="1.55" fill="#1b3676"/>
<circle cx="146.25" cy="500.25" r="1.55" fill="#1b3676"/>
<circle cx="148.00" cy="532.75" r="1.55" fill="#1b3676"/>
<circle cx="148.75" cy="536.00" r="1.55" fill="#1b3676"/>
<circle cx="72.00" cy="552.00" r="1.55" fill="#b3122e"/>
<circle cx="98.25" cy="529.00" r="1.55" fill="#b3122e"/>
<circle cx="120.00" cy="539.00" r="1.55" fill="#b3122e"/>
<circle cx="129.50" cy="529.00" r="1.55" fill="#b3122e"/>
<circle cx="136.25" cy="518.50" r="1.55" fill="#b3122e"/>
<circle cx="141.75" cy="511.50" r="1.55" fill="#b3122e"/>
<circle cx="177.50" cy="464.75" r="1.55" fill="#b3122e"/>
<circle cx="167.50" cy="479.00" r="1.55" fill="#b3122e"/>
<circle cx="157.00" cy="495.25" r="1.55" fill="#b3122e"/>
<circle cx="181.25" cy="494.50" r="1.55" fill="#b3122e"/>
<circle cx="189.50" cy="488.50" r="1.55" fill="#b3122e"/>
<circle cx="172.00" cy="524.50" r="1.55" fill="#b3122e"/>
<circle cx="166.25" cy="534.50" r="1.55" fill="#b3122e"/>
<circle cx="196.75" cy="534.00" r="1.55" fill="#b3122e"/>
<circle cx="124.25" cy="534.00" r="1.55" fill="#6cc04a"/>
<circle cx="198.25" cy="488.00" r="1.55" fill="#6cc04a"/>
<text x="348.75" y="329.10" font-size="8.2" fill="#2a2a2a" textLength="15.00" lengthAdjust="spacingAndGlyphs" >CD8</text>
<text x="433.25" y="329.10" font-size="8.2" fill="#2a2a2a" textLength="13.50" lengthAdjust="spacingAndGlyphs" >PD1</text>
<text x="347.25" y="402.90" font-size="8.2" fill="#2a2a2a" textLength="18.00" lengthAdjust="spacingAndGlyphs" >TIM3</text>
<text x="431.75" y="402.90" font-size="8.2" fill="#2a2a2a" textLength="16.50" lengthAdjust="spacingAndGlyphs" >Ki67</text>
<text x="339.15" y="474.60" font-size="8.2" fill="#2a2a2a" textLength="35.50" lengthAdjust="spacingAndGlyphs" >CD8/PD1/</text>
<text x="347.25" y="483.40" font-size="8.2" fill="#2a2a2a" textLength="18.00" lengthAdjust="spacingAndGlyphs" >TIM3</text>
<text x="421.25" y="474.60" font-size="8.2" fill="#2a2a2a" textLength="35.50" lengthAdjust="spacingAndGlyphs" >CD8/PD1/</text>
<text x="421.25" y="483.40" font-size="8.2" fill="#2a2a2a" textLength="35.50" lengthAdjust="spacingAndGlyphs" >TIM3/Ki67</text>
<defs><filter id="bl05" x="-20%" y="-20%" width="140%" height="140%"><feGaussianBlur stdDeviation="0.45"/></filter><filter id="bl1" x="-20%" y="-20%" width="140%" height="140%"><feGaussianBlur stdDeviation="0.75"/></filter><filter id="bl2" x="-20%" y="-20%" width="140%" height="140%"><feGaussianBlur stdDeviation="1.5"/></filter><filter id="bl3" x="-50%" y="-50%" width="200%" height="200%"><feGaussianBlur stdDeviation="2.2"/></filter><filter id="turbR" x="0" y="0" width="100%" height="100%"><feTurbulence type="fractalNoise" baseFrequency="0.18" numOctaves="2" seed="3"/><feColorMatrix values="0 0 0 0 0.55  0 0 0 0 0  0 0 0 0 0  1.6 0 0 0 -0.55"/></filter><filter id="turbG" x="0" y="0" width="100%" height="100%"><feTurbulence type="fractalNoise" baseFrequency="0.2" numOctaves="2" seed="8"/><feColorMatrix values="0 0 0 0 0.05  0 0 0 0 0.45  0 0 0 0 0.05  1.6 0 0 0 -0.55"/></filter><filter id="turbB" x="0" y="0" width="100%" height="100%"><feTurbulence type="fractalNoise" baseFrequency="0.2" numOctaves="2" seed="5"/><feColorMatrix values="0 0 0 0 0.05  0 0 0 0 0.05  0 0 0 0 0.5  1.4 0 0 0 -0.6"/></filter></defs>
<clipPath id="cp_cd8"><rect x="324.25" y="331.75" width="61.5" height="57.75"/></clipPath>
<clipPath id="cp_pd1"><rect x="409.25" y="331.75" width="61.5" height="57.75"/></clipPath>
<clipPath id="cp_tim3"><rect x="324.25" y="405.00" width="61.5" height="57.75"/></clipPath>
<clipPath id="cp_ki67"><rect x="409.25" y="405.00" width="61.5" height="57.75"/></clipPath>
<clipPath id="cp_m1"><rect x="324.25" y="485.00" width="61.5" height="57.75"/></clipPath>
<clipPath id="cp_m2"><rect x="409.25" y="485.00" width="61.5" height="57.75"/></clipPath>
<g clip-path="url(#cp_cd8)">
<rect x="324.25" y="331.75" width="61.50" height="57.75" fill="#02020a" />
<g filter="url(#bl2)"><path d="M292.2,332.2L302.7,321.2L314.0,310.9L324.8,300.2M292.2,332.2L293.3,333.3L293.7,334.9L295.1,335.8M304.1,357.6L300.5,350.5L297.6,343.3L295.1,335.8M304.1,357.6L307.8,356.3L311.7,355.8L315.6,355.3M295.1,335.8L301.5,336.9L308.1,337.5L314.6,337.8M315.6,355.3L319.4,353.0L322.9,350.3L326.0,347.2M326.0,347.2L325.7,346.2L326.4,345.3L326.1,344.3M314.6,337.8L318.5,339.9L322.2,342.2L326.1,344.3M324.8,300.2L326.2,301.7L328.2,302.5L329.6,304.0M329.6,304.0L328.2,314.0L327.9,324.0L326.8,333.9M314.6,337.8L318.8,337.0L322.8,335.3L326.8,333.9M350.2,329.9L348.9,330.8L347.9,331.9L347.1,333.2M350.2,329.9L350.3,323.7L351.2,317.5L351.4,311.2M351.4,311.2L345.8,309.5L340.2,307.8L334.4,306.8M342.5,332.5L343.9,333.2L345.6,332.9L347.1,333.2M342.5,332.5L340.3,325.5L337.5,318.7L335.1,311.7M334.4,306.8L334.5,308.4L334.8,310.1L335.1,311.7M334.3,341.7L336.1,340.9L337.6,339.6L339.4,338.9M334.3,341.7L333.1,341.8L332.1,341.3L331.3,340.5M331.3,340.5L331.0,339.2L330.2,338.0L330.1,336.6M330.1,336.6L331.6,334.7L333.5,333.5L335.3,332.0M335.3,332.0L336.8,333.0L337.9,334.4L339.4,335.5M339.4,335.5L339.5,336.6L339.5,337.8L339.4,338.9M343.0,346.5L341.6,346.8L340.8,348.1L339.6,348.8M343.0,346.5L342.2,344.4L342.2,342.3L342.4,340.2M342.4,340.2L341.3,340.0L340.5,339.2L339.4,338.9M335.6,345.9L337.1,346.6L338.3,347.7L339.6,348.8M335.6,345.9L335.2,344.5L334.4,343.2L334.3,341.7M326.0,347.2L327.1,349.0L329.1,349.8L330.3,351.4M326.1,344.3L328.1,343.5L329.5,341.7L331.3,340.5M335.6,345.9L333.8,347.7L331.8,349.3L330.3,351.4M326.8,333.9L328.1,334.6L329.0,335.7L330.1,336.6M329.6,304.0L331.3,304.8L333.0,305.4L334.4,306.8M335.1,311.7L334.9,318.5L334.7,325.2L335.3,332.0M342.5,332.5L341.3,333.3L340.6,334.7L339.4,335.5M347.1,338.9L347.4,337.0L347.5,335.1L347.1,333.2M347.1,338.9L345.7,339.8L344.1,340.0L342.4,340.2M337.2,359.4L337.6,359.0L337.3,358.5L337.4,358.0M337.4,358.0L335.3,356.4L332.8,355.4L330.7,353.8M325.4,357.0L327.3,356.1L329.0,355.0L330.7,353.8M346.1,355.5L347.8,356.3L348.8,357.9L350.1,359.2M346.1,355.5L344.0,355.7L341.8,355.3L339.7,355.8M339.7,355.8L338.9,356.5L338.1,357.2L337.4,358.0M339.6,348.8L339.7,351.1L339.1,353.5L339.7,355.8M330.3,351.4L331.0,352.1L330.6,353.0L330.7,353.8M315.6,355.3L318.9,355.8L322.1,356.4L325.4,357.0M349.5,347.9L349.2,348.2L349.5,348.0L349.6,348.0M349.5,347.9L349.0,345.3L348.8,342.8L349.1,340.2M349.1,340.2L350.2,339.9L351.4,339.7L352.4,339.2M346.1,355.5L347.7,353.1L348.4,350.4L349.6,348.0M343.0,346.5L345.1,347.2L347.3,347.8L349.5,347.9M347.1,338.9L347.8,339.3L348.4,339.8L349.1,340.2" stroke="#0a0a70" stroke-width="3.0" fill="none" opacity="0.60" stroke-linecap="round" stroke-linejoin="round"/></g>
<g filter="url(#bl1)"><path d="M292.2,332.2L302.7,321.2L314.0,310.9L324.8,300.2M292.2,332.2L293.3,333.3L293.7,334.9L295.1,335.8M304.1,357.6L300.5,350.5L297.6,343.3L295.1,335.8M304.1,357.6L307.8,356.3L311.7,355.8L315.6,355.3M295.1,335.8L301.5,336.9L308.1,337.5L314.6,337.8M315.6,355.3L319.4,353.0L322.9,350.3L326.0,347.2M326.0,347.2L325.7,346.2L326.4,345.3L326.1,344.3M314.6,337.8L318.5,339.9L322.2,342.2L326.1,344.3M324.8,300.2L326.2,301.7L328.2,302.5L329.6,304.0M329.6,304.0L328.2,314.0L327.9,324.0L326.8,333.9M314.6,337.8L318.8,337.0L322.8,335.3L326.8,333.9M350.2,329.9L348.9,330.8L347.9,331.9L347.1,333.2M350.2,329.9L350.3,323.7L351.2,317.5L351.4,311.2M351.4,311.2L345.8,309.5L340.2,307.8L334.4,306.8M342.5,332.5L343.9,333.2L345.6,332.9L347.1,333.2M342.5,332.5L340.3,325.5L337.5,318.7L335.1,311.7M334.4,306.8L334.5,308.4L334.8,310.1L335.1,311.7M334.3,341.7L336.1,340.9L337.6,339.6L339.4,338.9M334.3,341.7L333.1,341.8L332.1,341.3L331.3,340.5M331.3,340.5L331.0,339.2L330.2,338.0L330.1,336.6M330.1,336.6L331.6,334.7L333.5,333.5L335.3,332.0M335.3,332.0L336.8,333.0L337.9,334.4L339.4,335.5M339.4,335.5L339.5,336.6L339.5,337.8L339.4,338.9M343.0,346.5L341.6,346.8L340.8,348.1L339.6,348.8M343.0,346.5L342.2,344.4L342.2,342.3L342.4,340.2M342.4,340.2L341.3,340.0L340.5,339.2L339.4,338.9M335.6,345.9L337.1,346.6L338.3,347.7L339.6,348.8M335.6,345.9L335.2,344.5L334.4,343.2L334.3,341.7M326.0,347.2L327.1,349.0L329.1,349.8L330.3,351.4M326.1,344.3L328.1,343.5L329.5,341.7L331.3,340.5M335.6,345.9L333.8,347.7L331.8,349.3L330.3,351.4M326.8,333.9L328.1,334.6L329.0,335.7L330.1,336.6M329.6,304.0L331.3,304.8L333.0,305.4L334.4,306.8M335.1,311.7L334.9,318.5L334.7,325.2L335.3,332.0M342.5,332.5L341.3,333.3L340.6,334.7L339.4,335.5M347.1,338.9L347.4,337.0L347.5,335.1L347.1,333.2M347.1,338.9L345.7,339.8L344.1,340.0L342.4,340.2M337.2,359.4L337.6,359.0L337.3,358.5L337.4,358.0M337.4,358.0L335.3,356.4L332.8,355.4L330.7,353.8M325.4,357.0L327.3,356.1L329.0,355.0L330.7,353.8M346.1,355.5L347.8,356.3L348.8,357.9L350.1,359.2M346.1,355.5L344.0,355.7L341.8,355.3L339.7,355.8M339.7,355.8L338.9,356.5L338.1,357.2L337.4,358.0M339.6,348.8L339.7,351.1L339.1,353.5L339.7,355.8M330.3,351.4L331.0,352.1L330.6,353.0L330.7,353.8M315.6,355.3L318.9,355.8L322.1,356.4L325.4,357.0M349.5,347.9L349.2,348.2L349.5,348.0L349.6,348.0M349.5,347.9L349.0,345.3L348.8,342.8L349.1,340.2M349.1,340.2L350.2,339.9L351.4,339.7L352.4,339.2M346.1,355.5L347.7,353.1L348.4,350.4L349.6,348.0M343.0,346.5L345.1,347.2L347.3,347.8L349.5,347.9M347.1,338.9L347.8,339.3L348.4,339.8L349.1,340.2" stroke="#1e1ed0" stroke-width="1.2" fill="none" opacity="0.55" stroke-linecap="round" stroke-linejoin="round"/></g>
<g filter="url(#bl1)"><path d="M377.3,378.7L379.1,377.9L380.8,376.9L382.7,376.2M377.3,378.7L377.4,380.9L377.2,383.1L377.6,385.3M382.7,376.2L384.4,377.6L385.6,379.4L386.2,381.4M385.6,384.3L386.1,383.4L386.5,382.5L386.2,381.4M408.6,373.9L406.9,374.4L405.1,373.9L403.3,374.3M403.3,374.3L397.4,376.2L391.9,378.9L386.2,381.4M403.3,374.3L398.0,372.9L392.5,371.9L387.1,371.1M382.7,376.2L382.3,375.4L382.6,374.8L383.0,374.1M387.1,371.1L385.6,372.0L384.6,373.5L383.0,374.1M408.6,373.9L407.4,369.0L406.9,363.9L406.3,358.8M406.3,358.8L407.7,355.1L407.6,351.0L409.1,347.4M375.6,367.8L377.8,366.6L379.7,365.0L382.1,364.2M375.6,367.8L378.0,370.0L380.7,371.9L383.0,374.1M387.1,371.1L387.0,369.3L386.4,367.5L385.9,365.8M385.9,365.8L384.5,365.6L383.2,365.2L382.1,364.2M406.3,358.8L402.0,359.6L397.6,359.4L393.2,359.8M385.9,365.8L388.3,363.7L390.9,362.0L393.2,359.8M382.1,364.2L382.6,362.3L382.2,360.4L382.2,358.5M393.2,359.8L390.4,359.1L387.8,358.0L385.3,356.5M382.2,358.5L383.1,357.6L384.0,356.7L385.3,356.5M409.1,347.4L406.6,346.9L404.0,346.5L401.4,346.7M401.4,346.7L395.8,347.6L390.2,348.4L384.6,349.6M385.3,356.5L385.4,354.2L384.9,351.9L384.6,349.6M375.4,367.7L373.6,365.1L372.1,362.3L370.4,359.6M375.4,367.7L375.4,368.0L375.6,367.3L375.6,367.8M375.0,356.2L377.5,356.4L379.7,357.8L382.2,358.5M375.0,356.2L373.5,356.5L372.2,357.2L371.2,358.4M370.4,359.6L370.3,358.9L371.4,359.1L371.2,358.4M368.4,349.5L369.6,352.4L370.4,355.4L371.2,358.4M368.4,349.5L367.2,348.9L365.8,349.0L364.7,348.2M368.0,360.0L368.8,359.5L369.7,360.0L370.4,359.6M375.4,367.7L373.0,369.9L371.6,372.7L369.8,375.3M377.3,378.7L374.7,377.9L372.5,376.2L369.9,375.4M369.9,375.4L370.1,375.2L370.0,375.2L369.8,375.3M369.9,375.4L370.7,379.1L371.6,382.8L372.0,386.7M369.8,375.3L367.7,375.7L365.6,375.0L363.5,375.2M365.0,341.3L366.8,341.0L368.3,339.7L370.1,339.6M375.0,356.2L376.2,354.1L376.6,351.7L377.8,349.5M368.4,349.5L370.1,348.5L371.8,347.3L373.1,345.7M373.1,345.7L374.9,346.7L376.1,348.3L377.8,349.5M370.1,339.6L371.2,340.4L371.4,341.9L372.6,342.5M373.1,345.7L373.0,344.6L372.5,343.6L372.6,342.5M384.6,349.6L384.2,348.6L383.3,348.3L382.3,348.0M377.8,349.5L379.2,348.8L380.6,348.1L382.3,348.0M386.1,340.1L384.6,341.1L383.4,342.3L382.6,343.9M382.6,343.9L381.2,343.0L380.0,341.9L378.7,340.9M372.6,342.5L374.5,341.5L376.8,341.9L378.7,340.9M401.4,346.7L396.5,344.0L391.0,342.8L386.1,340.1M382.3,348.0L382.4,346.7L382.2,345.3L382.6,343.9" stroke="#1010a0" stroke-width="1.0" fill="none" opacity="0.35" stroke-linecap="round" stroke-linejoin="round"/></g>
<g filter="url(#bl2)"><ellipse cx="339.85" cy="366.75" rx="5.0" ry="4.8" stroke="#1420c0" stroke-width="5.0" fill="none" opacity="0.55"/><ellipse cx="349.45" cy="366.15" rx="4.6" ry="3.9" stroke="#1420c0" stroke-width="5.0" fill="none" opacity="0.55"/><ellipse cx="354.05" cy="375.95" rx="4.8" ry="5.4" stroke="#1420c0" stroke-width="5.0" fill="none" opacity="0.55"/></g>
<g filter="url(#bl1)"><ellipse cx="339.85" cy="366.75" rx="5.0" ry="4.8" stroke="#2232e8" stroke-width="2.4" fill="none" opacity="0.95"/><ellipse cx="349.45" cy="366.15" rx="4.6" ry="3.9" stroke="#2232e8" stroke-width="2.4" fill="none" opacity="0.95"/><ellipse cx="354.05" cy="375.95" rx="4.8" ry="5.4" stroke="#2232e8" stroke-width="2.4" fill="none" opacity="0.95"/></g>
</g>
<line x1="370.55" y1="346.05" x2="357.22" y2="363.33" stroke="#ecdc2a" stroke-width="1.15"/>
<path d="M354.65,366.65L355.40,361.92L359.04,364.73Z" fill="#ecdc2a"/>
<circle cx="352.65" cy="373.35" r="1.05" fill="#f4e63a"/>
<g clip-path="url(#cp_pd1)">
<rect x="409.25" y="331.75" width="61.50" height="57.75" fill="#0e0000" />
<rect x="409.25" y="331.75" width="61.5" height="57.75" filter="url(#turbR)" opacity="0.3"/>
<g filter="url(#bl1)"><path d="M371.8,397.1L384.3,405.5L396.8,413.8L409.2,422.3M377.2,332.2L387.7,321.2L399.0,310.9L409.8,300.2M508.9,396.8L503.2,400.7L497.5,404.6L491.8,408.4M474.2,425.2L480.4,419.9L485.9,414.0L491.8,408.4M371.8,397.1L374.6,393.2L377.4,389.4L380.6,385.8M380.6,385.8L383.9,379.0L386.5,371.8L389.1,364.7M389.1,364.7L389.6,362.3L388.7,360.0L389.1,357.6M377.2,332.2L378.3,333.3L378.7,334.9L380.1,335.8M389.1,357.6L385.5,350.5L382.6,343.3L380.1,335.8M505.1,331.8L500.8,328.0L496.6,324.1L492.6,320.1M474.7,293.5L480.3,302.6L486.1,311.6L492.6,320.1M428.0,412.6L427.7,404.0L428.0,395.3L427.2,386.7M428.0,412.6L425.0,413.3L422.1,414.5L419.3,415.9M419.3,415.9L420.1,406.5L419.9,397.2L420.2,387.8M427.2,386.7L426.1,386.2L424.9,386.3L423.9,385.5M420.2,387.8L421.4,387.0L422.6,386.1L423.9,385.5M462.3,378.7L464.1,377.9L465.8,376.9L467.7,376.2M462.3,378.7L462.4,380.9L462.2,383.1L462.6,385.3M467.7,376.2L469.4,377.6L470.6,379.4L471.2,381.4M462.6,385.3L464.0,385.1L465.2,385.6L466.5,386.1M466.5,386.1L467.9,385.7L469.4,385.2L470.6,384.3M470.6,384.3L471.1,383.4L471.5,382.5L471.2,381.4M463.3,417.9L461.4,407.8L460.3,397.6L458.6,387.4M463.3,417.9L464.9,418.3L465.9,419.6L467.3,420.2M467.3,420.2L466.5,408.8L466.3,397.5L466.5,386.1M458.6,387.4L460.2,387.2L461.4,386.3L462.6,385.3M474.2,425.2L471.7,423.9L469.7,421.9L467.3,420.2M491.8,408.4L484.3,400.8L477.8,392.3L470.6,384.3M508.9,396.8L504.2,388.9L498.6,381.6L493.6,373.9M493.6,373.9L491.9,374.4L490.1,373.9L488.3,374.3M488.3,374.3L482.4,376.2L476.9,378.9L471.2,381.4M389.1,357.6L392.8,356.3L396.7,355.8L400.6,355.3M380.1,335.8L386.5,336.9L393.1,337.5L399.6,337.8M400.6,355.3L404.4,353.0L407.9,350.3L411.0,347.2M411.0,347.2L410.7,346.2L411.4,345.3L411.1,344.3M399.6,337.8L403.5,339.9L407.2,342.2L411.1,344.3M409.8,300.2L411.2,301.7L413.2,302.5L414.6,304.0M414.6,304.0L413.2,314.0L412.9,324.0L411.8,333.9M399.6,337.8L403.8,337.0L407.8,335.3L411.8,333.9M488.3,374.3L483.0,372.9L477.5,371.9L472.1,371.1M467.7,376.2L467.3,375.4L467.6,374.8L468.0,374.1M472.1,371.1L470.6,372.0L469.6,373.5L468.0,374.1M505.1,331.8L501.1,336.8L497.6,342.1L494.1,347.4M493.6,373.9L492.4,369.0L491.9,363.9L491.3,358.8M491.3,358.8L492.7,355.1L492.6,351.0L494.1,347.4M435.2,329.9L433.9,330.8L432.9,331.9L432.1,333.2M435.2,329.9L435.3,323.7L436.2,317.5L436.4,311.2M436.4,311.2L430.8,309.5L425.2,307.8L419.4,306.8M427.5,332.5L428.9,333.2L430.6,332.9L432.1,333.2M427.5,332.5L425.3,325.5L422.5,318.7L420.1,311.7M419.4,306.8L419.5,308.4L419.8,310.1L420.1,311.7M428.0,412.6L430.9,411.4L433.9,411.4L436.9,410.8M427.2,386.7L428.5,386.1L429.8,385.2L431.3,385.1M431.3,385.1L432.1,385.8L433.0,386.2L434.1,386.3M434.1,386.3L435.5,394.4L436.3,402.6L436.9,410.8M409.2,422.3L410.6,421.6L411.7,420.8L412.6,419.6M412.6,419.6L414.7,418.1L416.8,416.7L419.3,415.9M447.9,412.0L445.9,411.2L443.6,411.6L441.7,410.7M447.9,412.0L453.2,413.5L458.2,415.8L463.3,417.9M436.9,410.8L438.5,410.8L440.1,411.2L441.7,410.7M434.1,386.3L435.6,386.3L436.4,384.8L437.8,384.8M441.7,410.7L442.6,403.5L442.6,396.4L443.4,389.2M443.4,389.2L441.7,387.5L439.5,386.6L437.8,384.8M431.3,385.1L431.1,383.5L431.3,381.9L431.0,380.3M423.9,385.5L423.8,383.1L422.6,380.9L422.3,378.5M422.3,378.5L424.2,378.4L425.9,377.7L427.6,376.8M427.6,376.8L428.7,377.9L430.1,378.8L431.0,380.3M422.3,378.5L421.3,378.0L420.5,377.1L419.4,376.8M419.4,376.8L418.6,374.7L419.2,372.5L418.5,370.3M427.6,376.8L428.9,374.8L429.6,372.5L430.4,370.3M410.0,378.3L412.3,378.3L414.6,378.9L416.9,378.5M410.0,378.3L408.6,380.0L407.8,382.1L406.1,383.7M416.9,378.5L417.0,381.1L416.2,383.5L415.6,386.0M406.1,383.7L408.0,384.8L409.7,386.2L411.4,387.6M411.4,387.6L412.9,387.4L414.4,387.0L415.6,386.0M408.6,371.5L411.8,371.4L414.6,369.6L417.8,369.3M408.6,371.5L409.3,373.7L410.1,375.9L410.0,378.3M419.4,376.8L418.2,376.9L417.8,378.1L416.9,378.5M380.6,385.8L389.1,385.3L397.5,383.8L406.1,383.7M389.1,364.7L393.4,366.3L398.0,366.7L402.4,367.8M402.4,367.8L404.6,368.8L406.8,369.9L408.6,371.5M420.2,387.8L418.6,387.5L417.0,386.8L415.6,386.0M412.6,419.6L411.9,408.9L411.3,398.3L411.4,387.6M419.3,341.7L421.1,340.9L422.6,339.6L424.4,338.9M419.3,341.7L418.1,341.8L417.1,341.3L416.3,340.5M416.3,340.5L416.0,339.2L415.2,338.0L415.1,336.6M415.1,336.6L416.6,334.7L418.5,333.5L420.3,332.0M420.3,332.0L421.8,333.0L422.9,334.4L424.4,335.5M424.4,335.5L424.5,336.6L424.5,337.8L424.4,338.9M428.0,346.5L426.6,346.8L425.8,348.1L424.6,348.8M428.0,346.5L427.2,344.4L427.2,342.3L427.4,340.2M427.4,340.2L426.3,340.0L425.5,339.2L424.4,338.9M420.6,345.9L422.1,346.6L423.3,347.7L424.6,348.8M420.6,345.9L420.2,344.5L419.4,343.2L419.3,341.7M411.0,347.2L412.1,349.0L414.1,349.8L415.3,351.4M411.1,344.3L413.1,343.5L414.5,341.7L416.3,340.5M420.6,345.9L418.8,347.7L416.8,349.3L415.3,351.4M411.8,333.9L413.1,334.6L414.0,335.7L415.1,336.6M414.6,304.0L416.3,304.8L418.0,305.4L419.4,306.8M420.1,311.7L419.9,318.5L419.7,325.2L420.3,332.0M427.5,332.5L426.3,333.3L425.6,334.7L424.4,335.5M432.1,338.9L432.4,337.0L432.5,335.1L432.1,333.2M432.1,338.9L430.7,339.8L429.1,340.0L427.4,340.2M460.6,367.8L462.8,366.6L464.7,365.0L467.1,364.2M460.6,367.8L463.0,370.0L465.7,371.9L468.0,374.1M472.1,371.1L472.0,369.3L471.4,367.5L470.9,365.8M470.9,365.8L469.5,365.6L468.2,365.2L467.1,364.2M491.3,358.8L487.0,359.6L482.6,359.4L478.2,359.8M470.9,365.8L473.3,363.7L475.9,362.0L478.2,359.8M467.1,364.2L467.6,362.3L467.2,360.4L467.2,358.5M478.2,359.8L475.4,359.1L472.8,358.0L470.3,356.5M467.2,358.5L468.1,357.6L469.0,356.7L470.3,356.5M494.1,347.4L491.6,346.9L489.0,346.5L486.4,346.7M486.4,346.7L480.8,347.6L475.2,348.4L469.6,349.6M470.3,356.5L470.4,354.2L469.9,351.9L469.6,349.6M460.4,367.7L458.6,365.1L457.1,362.3L455.4,359.6M460.4,367.7L460.4,368.0L460.6,367.3L460.6,367.8M460.0,356.2L462.5,356.4L464.7,357.8L467.2,358.5M460.0,356.2L458.5,356.5L457.2,357.2L456.2,358.4M455.4,359.6L455.3,358.9L456.4,359.1L456.2,358.4M453.4,349.5L454.6,352.4L455.4,355.4L456.2,358.4M453.4,349.5L452.2,348.9L450.8,349.0L449.7,348.2M446.3,356.0L446.7,354.1L446.4,352.3L445.8,350.5M446.3,356.0L448.5,357.4L450.5,359.1L453.0,360.0M453.0,360.0L453.8,359.5L454.7,360.0L455.4,359.6M449.7,348.2L448.2,348.6L446.8,349.2L445.8,350.5M435.2,329.9L436.9,331.4L438.3,333.1L439.9,334.6M436.4,311.2L437.6,311.0L438.8,310.9L440.0,311.1M439.9,334.6L441.5,334.2L443.2,333.9L444.8,334.4M444.8,334.4L445.0,333.7L445.8,333.5L445.9,332.7M445.9,332.7L443.9,325.5L442.3,318.2L440.0,311.1M460.4,367.7L458.0,369.9L456.6,372.7L454.8,375.3M462.3,378.7L459.7,377.9L457.5,376.2L454.9,375.4M454.9,375.4L455.1,375.2L455.0,375.2L454.8,375.3M458.6,387.4L458.0,387.4L457.5,386.9L457.0,386.7M454.9,375.4L455.7,379.1L456.6,382.8L457.0,386.7M447.9,412.0L449.4,403.8L450.3,395.6L452.0,387.4M443.4,389.2L444.7,387.5L446.9,386.8L448.1,385.1M448.1,385.1L449.7,385.4L450.8,386.4L452.0,387.4M457.0,386.7L455.3,386.5L453.6,387.1L452.0,387.4M437.8,384.8L438.7,383.6L438.5,382.0L439.5,380.9M448.1,385.1L447.2,382.8L446.9,380.4L447.1,377.9M431.0,380.3L432.6,379.2L434.1,377.9L435.9,377.2M454.8,375.3L452.7,375.7L450.6,375.0L448.5,375.2M453.0,360.0L450.0,363.0L447.7,366.6L445.1,369.9M442.5,367.9L442.7,364.4L443.5,361.0L443.2,357.6M443.2,357.6L441.7,357.8L440.4,356.7L438.9,357.1M438.9,357.1L437.8,358.1L436.2,358.1L435.1,359.2M435.1,359.2L434.9,359.8L435.4,360.4L435.1,361.0M446.3,356.0L445.5,357.0L444.2,357.0L443.2,357.6M422.2,359.4L422.6,359.0L422.3,358.5L422.4,358.0M422.4,358.0L420.3,356.4L417.8,355.4L415.7,353.8M412.8,362.7L414.5,363.3L416.2,364.2L417.9,364.9M412.8,362.7L411.6,361.0L411.1,358.9L410.4,357.0M410.4,357.0L412.3,356.1L414.0,355.0L415.7,353.8M431.1,355.5L432.8,356.3L433.8,357.9L435.1,359.2M431.1,355.5L429.0,355.7L426.8,355.3L424.7,355.8M424.7,355.8L423.9,356.5L423.1,357.2L422.4,358.0M424.6,348.8L424.7,351.1L424.1,353.5L424.7,355.8M415.3,351.4L416.0,352.1L415.6,353.0L415.7,353.8M402.4,367.8L405.9,366.2L409.2,364.1L412.8,362.7M400.6,355.3L403.9,355.8L407.1,356.4L410.4,357.0M441.3,347.6L441.4,346.1L442.5,344.8L442.4,343.1M441.3,347.6L440.4,348.0L439.4,348.1L438.6,348.5M442.4,343.1L440.4,342.3L438.8,340.9L437.4,339.2M438.6,348.5L437.3,348.1L435.9,348.1L434.6,348.0M434.5,347.9L434.2,348.2L434.5,348.0L434.6,348.0M434.5,347.9L434.0,345.3L433.8,342.8L434.1,340.2M434.1,340.2L435.2,339.9L436.4,339.7L437.4,339.2M450.0,341.3L449.0,340.5L447.6,340.5L446.4,339.9M450.0,341.3L450.4,343.7L449.4,345.9L449.7,348.2M445.8,350.5L444.1,349.8L443.1,348.1L441.3,347.6M446.4,339.9L444.8,340.7L443.5,341.8L442.4,343.1M438.9,357.1L438.6,354.2L438.9,351.4L438.6,348.5M439.9,334.6L438.9,336.0L438.4,337.7L437.4,339.2M444.8,334.4L444.9,336.4L446.1,338.0L446.4,339.9M431.1,355.5L432.7,353.1L433.4,350.4L434.6,348.0M428.0,346.5L430.1,347.2L432.3,347.8L434.5,347.9M432.1,338.9L432.8,339.3L433.4,339.8L434.1,340.2M451.7,331.8L452.5,323.7L453.2,315.6L453.8,307.4M451.7,331.8L453.2,332.8L454.5,334.2L456.2,334.9M456.2,334.9L457.2,334.7L457.8,333.8L458.6,333.4M458.6,333.4L459.6,326.2L460.9,318.9L462.1,311.7M453.8,307.4L456.4,305.8L459.2,304.9L462.0,303.9M462.0,303.9L462.5,306.5L461.7,309.1L462.1,311.7M445.9,332.7L447.8,332.1L449.7,331.7L451.7,331.8M440.0,311.1L444.4,309.4L449.2,308.8L453.8,307.4M450.0,341.3L451.8,341.0L453.3,339.7L455.1,339.6M455.1,339.6L455.8,338.1L455.3,336.3L456.2,334.9M474.7,293.5L470.8,297.3L466.0,300.1L462.0,303.9M460.0,356.2L461.2,354.1L461.6,351.7L462.8,349.5M453.4,349.5L455.1,348.5L456.8,347.3L458.1,345.7M458.1,345.7L459.9,346.7L461.1,348.3L462.8,349.5M455.1,339.6L456.2,340.4L456.4,341.9L457.6,342.5M458.1,345.7L458.0,344.6L457.5,343.6L457.6,342.5M469.6,349.6L469.2,348.6L468.3,348.3L467.3,348.0M462.8,349.5L464.2,348.8L465.6,348.1L467.3,348.0M467.4,333.7L466.5,334.6L465.0,334.0L464.1,334.8M467.4,333.7L468.4,334.0L469.5,334.0L470.4,334.6M464.1,334.8L463.9,336.9L464.0,338.9L463.7,340.9M470.4,334.6L470.3,336.5L470.4,338.3L471.1,340.1M471.1,340.1L469.6,341.1L468.4,342.3L467.6,343.9M467.6,343.9L466.2,343.0L465.0,341.9L463.7,340.9M458.6,333.4L460.5,333.8L462.2,334.8L464.1,334.8M462.1,311.7L463.5,319.1L465.3,326.5L467.4,333.7M492.6,320.1L485.4,325.3L478.1,330.2L470.4,334.6M457.6,342.5L459.5,341.5L461.8,341.9L463.7,340.9M486.4,346.7L481.5,344.0L476.0,342.8L471.1,340.1M467.3,348.0L467.4,346.7L467.2,345.3L467.6,343.9" stroke="#700000" stroke-width="1.1" fill="none" opacity="0.60" stroke-linecap="round" stroke-linejoin="round"/></g>
<g filter="url(#bl2)"><path d="M377.2,332.2L387.7,321.2L399.0,310.9L409.8,300.2M377.2,332.2L378.3,333.3L378.7,334.9L380.1,335.8M389.1,357.6L385.5,350.5L382.6,343.3L380.1,335.8M389.1,357.6L392.8,356.3L396.7,355.8L400.6,355.3M380.1,335.8L386.5,336.9L393.1,337.5L399.6,337.8M400.6,355.3L404.4,353.0L407.9,350.3L411.0,347.2M411.0,347.2L410.7,346.2L411.4,345.3L411.1,344.3M399.6,337.8L403.5,339.9L407.2,342.2L411.1,344.3M409.8,300.2L411.2,301.7L413.2,302.5L414.6,304.0M414.6,304.0L413.2,314.0L412.9,324.0L411.8,333.9M399.6,337.8L403.8,337.0L407.8,335.3L411.8,333.9M435.2,329.9L433.9,330.8L432.9,331.9L432.1,333.2M435.2,329.9L435.3,323.7L436.2,317.5L436.4,311.2M436.4,311.2L430.8,309.5L425.2,307.8L419.4,306.8M427.5,332.5L428.9,333.2L430.6,332.9L432.1,333.2M427.5,332.5L425.3,325.5L422.5,318.7L420.1,311.7M419.4,306.8L419.5,308.4L419.8,310.1L420.1,311.7M419.3,341.7L421.1,340.9L422.6,339.6L424.4,338.9M419.3,341.7L418.1,341.8L417.1,341.3L416.3,340.5M416.3,340.5L416.0,339.2L415.2,338.0L415.1,336.6M415.1,336.6L416.6,334.7L418.5,333.5L420.3,332.0M420.3,332.0L421.8,333.0L422.9,334.4L424.4,335.5M424.4,335.5L424.5,336.6L424.5,337.8L424.4,338.9M428.0,346.5L426.6,346.8L425.8,348.1L424.6,348.8M428.0,346.5L427.2,344.4L427.2,342.3L427.4,340.2M427.4,340.2L426.3,340.0L425.5,339.2L424.4,338.9M420.6,345.9L422.1,346.6L423.3,347.7L424.6,348.8M420.6,345.9L420.2,344.5L419.4,343.2L419.3,341.7M411.0,347.2L412.1,349.0L414.1,349.8L415.3,351.4M411.1,344.3L413.1,343.5L414.5,341.7L416.3,340.5M420.6,345.9L418.8,347.7L416.8,349.3L415.3,351.4M411.8,333.9L413.1,334.6L414.0,335.7L415.1,336.6M414.6,304.0L416.3,304.8L418.0,305.4L419.4,306.8M420.1,311.7L419.9,318.5L419.7,325.2L420.3,332.0M427.5,332.5L426.3,333.3L425.6,334.7L424.4,335.5M432.1,338.9L432.4,337.0L432.5,335.1L432.1,333.2M432.1,338.9L430.7,339.8L429.1,340.0L427.4,340.2M422.2,359.4L422.6,359.0L422.3,358.5L422.4,358.0M422.4,358.0L420.3,356.4L417.8,355.4L415.7,353.8M410.4,357.0L412.3,356.1L414.0,355.0L415.7,353.8M431.1,355.5L432.8,356.3L433.8,357.9L435.1,359.2M431.1,355.5L429.0,355.7L426.8,355.3L424.7,355.8M424.7,355.8L423.9,356.5L423.1,357.2L422.4,358.0M424.6,348.8L424.7,351.1L424.1,353.5L424.7,355.8M415.3,351.4L416.0,352.1L415.6,353.0L415.7,353.8M400.6,355.3L403.9,355.8L407.1,356.4L410.4,357.0M434.5,347.9L434.2,348.2L434.5,348.0L434.6,348.0M434.5,347.9L434.0,345.3L433.8,342.8L434.1,340.2M434.1,340.2L435.2,339.9L436.4,339.7L437.4,339.2M431.1,355.5L432.7,353.1L433.4,350.4L434.6,348.0M428.0,346.5L430.1,347.2L432.3,347.8L434.5,347.9M432.1,338.9L432.8,339.3L433.4,339.8L434.1,340.2" stroke="#800000" stroke-width="3.2" fill="none" opacity="0.80" stroke-linecap="round" stroke-linejoin="round"/></g>
<g filter="url(#bl1)"><path d="M377.2,332.2L387.7,321.2L399.0,310.9L409.8,300.2M377.2,332.2L378.3,333.3L378.7,334.9L380.1,335.8M389.1,357.6L385.5,350.5L382.6,343.3L380.1,335.8M389.1,357.6L392.8,356.3L396.7,355.8L400.6,355.3M380.1,335.8L386.5,336.9L393.1,337.5L399.6,337.8M400.6,355.3L404.4,353.0L407.9,350.3L411.0,347.2M411.0,347.2L410.7,346.2L411.4,345.3L411.1,344.3M399.6,337.8L403.5,339.9L407.2,342.2L411.1,344.3M409.8,300.2L411.2,301.7L413.2,302.5L414.6,304.0M414.6,304.0L413.2,314.0L412.9,324.0L411.8,333.9M399.6,337.8L403.8,337.0L407.8,335.3L411.8,333.9M435.2,329.9L433.9,330.8L432.9,331.9L432.1,333.2M435.2,329.9L435.3,323.7L436.2,317.5L436.4,311.2M436.4,311.2L430.8,309.5L425.2,307.8L419.4,306.8M427.5,332.5L428.9,333.2L430.6,332.9L432.1,333.2M427.5,332.5L425.3,325.5L422.5,318.7L420.1,311.7M419.4,306.8L419.5,308.4L419.8,310.1L420.1,311.7M419.3,341.7L421.1,340.9L422.6,339.6L424.4,338.9M419.3,341.7L418.1,341.8L417.1,341.3L416.3,340.5M416.3,340.5L416.0,339.2L415.2,338.0L415.1,336.6M415.1,336.6L416.6,334.7L418.5,333.5L420.3,332.0M420.3,332.0L421.8,333.0L422.9,334.4L424.4,335.5M424.4,335.5L424.5,336.6L424.5,337.8L424.4,338.9M428.0,346.5L426.6,346.8L425.8,348.1L424.6,348.8M428.0,346.5L427.2,344.4L427.2,342.3L427.4,340.2M427.4,340.2L426.3,340.0L425.5,339.2L424.4,338.9M420.6,345.9L422.1,346.6L423.3,347.7L424.6,348.8M420.6,345.9L420.2,344.5L419.4,343.2L419.3,341.7M411.0,347.2L412.1,349.0L414.1,349.8L415.3,351.4M411.1,344.3L413.1,343.5L414.5,341.7L416.3,340.5M420.6,345.9L418.8,347.7L416.8,349.3L415.3,351.4M411.8,333.9L413.1,334.6L414.0,335.7L415.1,336.6M414.6,304.0L416.3,304.8L418.0,305.4L419.4,306.8M420.1,311.7L419.9,318.5L419.7,325.2L420.3,332.0M427.5,332.5L426.3,333.3L425.6,334.7L424.4,335.5M432.1,338.9L432.4,337.0L432.5,335.1L432.1,333.2M432.1,338.9L430.7,339.8L429.1,340.0L427.4,340.2M422.2,359.4L422.6,359.0L422.3,358.5L422.4,358.0M422.4,358.0L420.3,356.4L417.8,355.4L415.7,353.8M410.4,357.0L412.3,356.1L414.0,355.0L415.7,353.8M431.1,355.5L432.8,356.3L433.8,357.9L435.1,359.2M431.1,355.5L429.0,355.7L426.8,355.3L424.7,355.8M424.7,355.8L423.9,356.5L423.1,357.2L422.4,358.0M424.6,348.8L424.7,351.1L424.1,353.5L424.7,355.8M415.3,351.4L416.0,352.1L415.6,353.0L415.7,353.8M400.6,355.3L403.9,355.8L407.1,356.4L410.4,357.0M434.5,347.9L434.2,348.2L434.5,348.0L434.6,348.0M434.5,347.9L434.0,345.3L433.8,342.8L434.1,340.2M434.1,340.2L435.2,339.9L436.4,339.7L437.4,339.2M431.1,355.5L432.7,353.1L433.4,350.4L434.6,348.0M428.0,346.5L430.1,347.2L432.3,347.8L434.5,347.9M432.1,338.9L432.8,339.3L433.4,339.8L434.1,340.2" stroke="#e01818" stroke-width="1.3" fill="none" opacity="0.90" stroke-linecap="round" stroke-linejoin="round"/></g>
<g filter="url(#bl1)"><path d="M508.9,396.8L503.2,400.7L497.5,404.6L491.8,408.4M474.2,425.2L480.4,419.9L485.9,414.0L491.8,408.4M505.1,331.8L500.8,328.0L496.6,324.1L492.6,320.1M474.7,293.5L480.3,302.6L486.1,311.6L492.6,320.1M462.3,378.7L464.1,377.9L465.8,376.9L467.7,376.2M462.3,378.7L462.4,380.9L462.2,383.1L462.6,385.3M467.7,376.2L469.4,377.6L470.6,379.4L471.2,381.4M462.6,385.3L464.0,385.1L465.2,385.6L466.5,386.1M466.5,386.1L467.9,385.7L469.4,385.2L470.6,384.3M470.6,384.3L471.1,383.4L471.5,382.5L471.2,381.4M463.3,417.9L461.4,407.8L460.3,397.6L458.6,387.4M463.3,417.9L464.9,418.3L465.9,419.6L467.3,420.2M467.3,420.2L466.5,408.8L466.3,397.5L466.5,386.1M458.6,387.4L460.2,387.2L461.4,386.3L462.6,385.3M474.2,425.2L471.7,423.9L469.7,421.9L467.3,420.2M491.8,408.4L484.3,400.8L477.8,392.3L470.6,384.3M508.9,396.8L504.2,388.9L498.6,381.6L493.6,373.9M493.6,373.9L491.9,374.4L490.1,373.9L488.3,374.3M488.3,374.3L482.4,376.2L476.9,378.9L471.2,381.4M488.3,374.3L483.0,372.9L477.5,371.9L472.1,371.1M467.7,376.2L467.3,375.4L467.6,374.8L468.0,374.1M472.1,371.1L470.6,372.0L469.6,373.5L468.0,374.1M505.1,331.8L501.1,336.8L497.6,342.1L494.1,347.4M493.6,373.9L492.4,369.0L491.9,363.9L491.3,358.8M491.3,358.8L492.7,355.1L492.6,351.0L494.1,347.4M447.9,412.0L453.2,413.5L458.2,415.8L463.3,417.9M460.6,367.8L462.8,366.6L464.7,365.0L467.1,364.2M460.6,367.8L463.0,370.0L465.7,371.9L468.0,374.1M472.1,371.1L472.0,369.3L471.4,367.5L470.9,365.8M470.9,365.8L469.5,365.6L468.2,365.2L467.1,364.2M491.3,358.8L487.0,359.6L482.6,359.4L478.2,359.8M470.9,365.8L473.3,363.7L475.9,362.0L478.2,359.8M467.1,364.2L467.6,362.3L467.2,360.4L467.2,358.5M478.2,359.8L475.4,359.1L472.8,358.0L470.3,356.5M467.2,358.5L468.1,357.6L469.0,356.7L470.3,356.5M494.1,347.4L491.6,346.9L489.0,346.5L486.4,346.7M486.4,346.7L480.8,347.6L475.2,348.4L469.6,349.6M470.3,356.5L470.4,354.2L469.9,351.9L469.6,349.6M460.4,367.7L458.6,365.1L457.1,362.3L455.4,359.6M460.4,367.7L460.4,368.0L460.6,367.3L460.6,367.8M460.0,356.2L462.5,356.4L464.7,357.8L467.2,358.5M460.0,356.2L458.5,356.5L457.2,357.2L456.2,358.4M455.4,359.6L455.3,358.9L456.4,359.1L456.2,358.4M453.4,349.5L454.6,352.4L455.4,355.4L456.2,358.4M453.4,349.5L452.2,348.9L450.8,349.0L449.7,348.2M446.3,356.0L448.5,357.4L450.5,359.1L453.0,360.0M453.0,360.0L453.8,359.5L454.7,360.0L455.4,359.6M460.4,367.7L458.0,369.9L456.6,372.7L454.8,375.3M462.3,378.7L459.7,377.9L457.5,376.2L454.9,375.4M454.9,375.4L455.1,375.2L455.0,375.2L454.8,375.3M458.6,387.4L458.0,387.4L457.5,386.9L457.0,386.7M454.9,375.4L455.7,379.1L456.6,382.8L457.0,386.7M447.9,412.0L449.4,403.8L450.3,395.6L452.0,387.4M448.1,385.1L449.7,385.4L450.8,386.4L452.0,387.4M457.0,386.7L455.3,386.5L453.6,387.1L452.0,387.4M454.8,375.3L452.7,375.7L450.6,375.0L448.5,375.2M453.0,360.0L450.0,363.0L447.7,366.6L445.1,369.9M450.0,341.3L450.4,343.7L449.4,345.9L449.7,348.2M451.7,331.8L452.5,323.7L453.2,315.6L453.8,307.4M451.7,331.8L453.2,332.8L454.5,334.2L456.2,334.9M456.2,334.9L457.2,334.7L457.8,333.8L458.6,333.4M458.6,333.4L459.6,326.2L460.9,318.9L462.1,311.7M453.8,307.4L456.4,305.8L459.2,304.9L462.0,303.9M462.0,303.9L462.5,306.5L461.7,309.1L462.1,311.7M450.0,341.3L451.8,341.0L453.3,339.7L455.1,339.6M455.1,339.6L455.8,338.1L455.3,336.3L456.2,334.9M474.7,293.5L470.8,297.3L466.0,300.1L462.0,303.9M460.0,356.2L461.2,354.1L461.6,351.7L462.8,349.5M453.4,349.5L455.1,348.5L456.8,347.3L458.1,345.7M458.1,345.7L459.9,346.7L461.1,348.3L462.8,349.5M455.1,339.6L456.2,340.4L456.4,341.9L457.6,342.5M458.1,345.7L458.0,344.6L457.5,343.6L457.6,342.5M469.6,349.6L469.2,348.6L468.3,348.3L467.3,348.0M462.8,349.5L464.2,348.8L465.6,348.1L467.3,348.0M467.4,333.7L466.5,334.6L465.0,334.0L464.1,334.8M467.4,333.7L468.4,334.0L469.5,334.0L470.4,334.6M464.1,334.8L463.9,336.9L464.0,338.9L463.7,340.9M470.4,334.6L470.3,336.5L470.4,338.3L471.1,340.1M471.1,340.1L469.6,341.1L468.4,342.3L467.6,343.9M467.6,343.9L466.2,343.0L465.0,341.9L463.7,340.9M458.6,333.4L460.5,333.8L462.2,334.8L464.1,334.8M462.1,311.7L463.5,319.1L465.3,326.5L467.4,333.7M492.6,320.1L485.4,325.3L478.1,330.2L470.4,334.6M457.6,342.5L459.5,341.5L461.8,341.9L463.7,340.9M486.4,346.7L481.5,344.0L476.0,342.8L471.1,340.1M467.3,348.0L467.4,346.7L467.2,345.3L467.6,343.9" stroke="#c00c0c" stroke-width="1.2" fill="none" opacity="0.60" stroke-linecap="round" stroke-linejoin="round"/></g>
<g filter="url(#bl05)"><ellipse cx="424.85" cy="366.75" rx="5.0" ry="4.8" stroke="#c81414" stroke-width="1.4" fill="none" opacity="0.9"/><ellipse cx="434.45" cy="366.15" rx="4.6" ry="3.9" stroke="#c81414" stroke-width="1.4" fill="none" opacity="0.9"/><ellipse cx="439.05" cy="375.95" rx="4.8" ry="5.4" stroke="#c81414" stroke-width="1.4" fill="none" opacity="0.9"/></g>
<circle cx="412.25" cy="372.95" r="1.4" fill="#ff2020" filter="url(#bl05)"/>
</g>
<line x1="455.55" y1="346.35" x2="443.13" y2="363.36" stroke="#ecdc2a" stroke-width="1.15"/>
<path d="M440.65,366.75L441.27,362.00L444.98,364.71Z" fill="#ecdc2a"/>
<circle cx="437.25" cy="373.05" r="1.05" fill="#f4e63a"/>
<g clip-path="url(#cp_tim3)">
<rect x="324.25" y="405.00" width="61.50" height="57.75" fill="#052005" />
<rect x="324.25" y="405.00" width="61.5" height="57.75" filter="url(#turbG)" opacity="0.3"/>
<g filter="url(#bl1)"><path d="M286.8,470.3L299.3,478.8L311.8,487.1L324.2,495.5M292.2,405.5L302.7,394.4L314.0,384.1L324.8,373.4M423.9,470.0L418.2,473.9L412.5,477.9L406.8,481.7M389.2,498.4L395.4,493.1L400.9,487.3L406.8,481.7M286.8,470.3L289.6,466.5L292.4,462.6L295.6,459.1M295.6,459.1L298.9,452.2L301.5,445.1L304.1,438.0M304.1,438.0L304.6,435.6L303.7,433.2L304.1,430.8M292.2,405.5L293.3,406.5L293.7,408.2L295.1,409.0M304.1,430.8L300.5,423.8L297.6,416.5L295.1,409.0M420.1,405.0L415.8,401.2L411.6,397.3L407.6,393.3M389.7,366.8L395.3,375.9L401.1,384.8L407.6,393.3M343.0,485.9L342.7,477.2L343.0,468.5L342.2,459.9M343.0,485.9L340.0,486.6L337.1,487.8L334.3,489.1M334.3,489.1L335.1,479.8L334.9,470.4L335.2,461.0M342.2,459.9L341.1,459.5L339.9,459.5L338.9,458.8M335.2,461.0L336.4,460.3L337.6,459.4L338.9,458.8M377.3,452.0L379.1,451.2L380.8,450.1L382.7,449.5M377.3,452.0L377.4,454.2L377.2,456.4L377.6,458.5M382.7,449.5L384.4,450.9L385.6,452.6L386.2,454.7M377.6,458.5L379.0,458.4L380.2,458.8L381.5,459.3M381.5,459.3L382.9,458.9L384.4,458.4L385.6,457.5M385.6,457.5L386.1,456.6L386.5,455.7L386.2,454.7M378.3,491.1L376.4,481.0L375.3,470.8L373.6,460.7M378.3,491.1L379.9,491.5L380.9,492.8L382.3,493.5M382.3,493.5L381.5,482.1L381.3,470.7L381.5,459.3M373.6,460.7L375.2,460.5L376.4,459.5L377.6,458.5M389.2,498.4L386.7,497.2L384.7,495.1L382.3,493.5M406.8,481.7L399.3,474.0L392.8,465.5L385.6,457.5M423.9,470.0L419.2,462.1L413.6,454.9L408.6,447.2M408.6,447.2L406.9,447.7L405.1,447.2L403.3,447.6M403.3,447.6L397.4,449.5L391.9,452.1L386.2,454.7M304.1,430.8L307.8,429.5L311.7,429.0L315.6,428.6M295.1,409.0L301.5,410.2L308.1,410.7L314.6,411.1M315.6,428.6L319.4,426.3L322.9,423.6L326.0,420.4M326.0,420.4L325.7,419.5L326.4,418.5L326.1,417.6M314.6,411.1L318.5,413.2L322.2,415.5L326.1,417.6M324.8,373.4L326.2,375.0L328.2,375.8L329.6,377.3M329.6,377.3L328.2,387.2L327.9,397.2L326.8,407.2M314.6,411.1L318.8,410.2L322.8,408.6L326.8,407.2M403.3,447.6L398.0,446.2L392.5,445.2L387.1,444.4M382.7,449.5L382.3,448.7L382.6,448.0L383.0,447.4M387.1,444.4L385.6,445.2L384.6,446.8L383.0,447.4M420.1,405.0L416.1,410.0L412.6,415.3L409.1,420.6M408.6,447.2L407.4,442.2L406.9,437.1L406.3,432.1M406.3,432.1L407.7,428.4L407.6,424.3L409.1,420.6M350.2,403.2L348.9,404.0L347.9,405.1L347.1,406.4M350.2,403.2L350.3,396.9L351.2,390.7L351.4,384.5M351.4,384.5L345.8,382.8L340.2,381.0L334.4,380.0M342.5,405.7L343.9,406.5L345.6,406.1L347.1,406.4M342.5,405.7L340.3,398.7L337.5,391.9L335.1,384.9M334.4,380.0L334.5,381.7L334.8,383.3L335.1,384.9M343.0,485.9L345.9,484.7L348.9,484.6L351.9,484.0M342.2,459.9L343.5,459.3L344.8,458.4L346.3,458.3M346.3,458.3L347.1,459.1L348.0,459.5L349.1,459.5M349.1,459.5L350.5,467.6L351.3,475.8L351.9,484.0M324.2,495.5L325.6,494.8L326.7,494.0L327.6,492.8M327.6,492.8L329.7,491.3L331.8,489.9L334.3,489.1M362.9,485.3L360.9,484.5L358.6,484.9L356.7,483.9M362.9,485.3L368.2,486.8L373.2,489.1L378.3,491.1M351.9,484.0L353.5,484.1L355.1,484.4L356.7,483.9M349.1,459.5L350.6,459.5L351.4,458.0L352.8,458.0M356.7,483.9L357.6,476.8L357.6,469.6L358.4,462.5M358.4,462.5L356.7,460.8L354.5,459.8L352.8,458.0M346.3,458.3L346.1,456.7L346.3,455.1L346.0,453.6M338.9,458.8L338.8,456.3L337.6,454.1L337.3,451.7M337.3,451.7L339.2,451.7L340.9,450.9L342.6,450.1M342.6,450.1L343.7,451.2L345.1,452.1L346.0,453.6M337.3,451.7L336.3,451.3L335.5,450.4L334.4,450.1M334.4,450.1L333.6,448.0L334.2,445.7L333.5,443.6M342.6,450.1L343.9,448.0L344.6,445.8L345.4,443.5M325.0,451.5L327.3,451.5L329.6,452.1L331.9,451.8M325.0,451.5L323.6,453.2L322.8,455.4L321.1,456.9M331.9,451.8L332.0,454.4L331.2,456.8L330.6,459.2M321.1,456.9L323.0,458.0L324.7,459.4L326.4,460.8M326.4,460.8L327.9,460.7L329.4,460.3L330.6,459.2M323.6,444.8L326.8,444.6L329.6,442.8L332.8,442.6M323.6,444.8L324.3,447.0L325.1,449.2L325.0,451.5M334.4,450.1L333.2,450.2L332.8,451.3L331.9,451.8M295.6,459.1L304.1,458.6L312.5,457.0L321.1,456.9M304.1,438.0L308.4,439.5L313.0,440.0L317.4,441.1M317.4,441.1L319.6,442.1L321.8,443.1L323.6,444.8M335.2,461.0L333.6,460.7L332.0,460.1L330.6,459.2M327.6,492.8L326.9,482.2L326.3,471.5L326.4,460.8M334.3,415.0L336.1,414.2L337.6,412.9L339.4,412.1M334.3,415.0L333.1,415.0L332.1,414.6L331.3,413.7M331.3,413.7L331.0,412.4L330.2,411.3L330.1,409.9M330.1,409.9L331.6,408.0L333.5,406.7L335.3,405.2M335.3,405.2L336.8,406.3L337.9,407.7L339.4,408.8M339.4,408.8L339.5,409.9L339.5,411.0L339.4,412.1M343.0,419.7L341.6,420.1L340.8,421.4L339.6,422.0M343.0,419.7L342.2,417.7L342.2,415.6L342.4,413.5M342.4,413.5L341.3,413.3L340.5,412.5L339.4,412.1M335.6,419.1L337.1,419.9L338.3,421.0L339.6,422.0M335.6,419.1L335.2,417.7L334.4,416.5L334.3,415.0M326.0,420.4L327.1,422.2L329.1,423.0L330.3,424.7M326.1,417.6L328.1,416.8L329.5,414.9L331.3,413.7M335.6,419.1L333.8,420.9L331.8,422.6L330.3,424.7M326.8,407.2L328.1,407.9L329.0,409.0L330.1,409.9M329.6,377.3L331.3,378.1L333.0,378.7L334.4,380.0M335.1,384.9L334.9,391.7L334.7,398.5L335.3,405.2M342.5,405.7L341.3,406.6L340.6,407.9L339.4,408.8M347.1,412.1L347.4,410.2L347.5,408.3L347.1,406.4M347.1,412.1L345.7,413.0L344.1,413.2L342.4,413.5M375.6,441.0L377.8,439.9L379.7,438.2L382.1,437.4M375.6,441.0L378.0,443.3L380.7,445.1L383.0,447.4M387.1,444.4L387.0,442.5L386.4,440.8L385.9,439.0M385.9,439.0L384.5,438.8L383.2,438.4L382.1,437.4M406.3,432.1L402.0,432.9L397.6,432.6L393.2,433.1M385.9,439.0L388.3,437.0L390.9,435.2L393.2,433.1M382.1,437.4L382.6,435.5L382.2,433.6L382.2,431.7M393.2,433.1L390.4,432.3L387.8,431.2L385.3,429.8M382.2,431.7L383.1,430.8L384.0,430.0L385.3,429.8M409.1,420.6L406.6,420.1L404.0,419.7L401.4,419.9M401.4,419.9L395.8,420.8L390.2,421.6L384.6,422.9M385.3,429.8L385.4,427.4L384.9,425.2L384.6,422.9M375.4,441.0L373.6,438.3L372.1,435.5L370.4,432.8M375.4,441.0L375.4,441.2L375.6,440.6L375.6,441.0M375.0,429.5L377.5,429.7L379.7,431.0L382.2,431.7M375.0,429.5L373.5,429.8L372.2,430.4L371.2,431.7M370.4,432.8L370.3,432.2L371.4,432.4L371.2,431.7M368.4,422.8L369.6,425.6L370.4,428.7L371.2,431.7M368.4,422.8L367.2,422.1L365.8,422.2L364.7,421.5M361.3,429.3L361.7,427.4L361.4,425.5L360.8,423.7M361.3,429.3L363.5,430.6L365.5,432.4L368.0,433.2M368.0,433.2L368.8,432.7L369.7,433.3L370.4,432.8M364.7,421.5L363.2,421.8L361.8,422.5L360.8,423.7M350.2,403.2L351.9,404.6L353.3,406.3L354.9,407.8M351.4,384.5L352.6,384.3L353.8,384.2L355.0,384.3M354.9,407.8L356.5,407.4L358.2,407.2L359.8,407.7M359.8,407.7L360.0,407.0L360.8,406.7L360.9,406.0M360.9,406.0L358.9,398.7L357.3,391.4L355.0,384.3M375.4,441.0L373.0,443.1L371.6,446.0L369.8,448.5M377.3,452.0L374.7,451.1L372.5,449.4L369.9,448.6M369.9,448.6L370.1,448.4L370.0,448.4L369.8,448.5M373.6,460.7L373.0,460.6L372.5,460.2L372.0,459.9M369.9,448.6L370.7,452.4L371.6,456.1L372.0,459.9M362.9,485.3L364.4,477.1L365.3,468.8L367.0,460.7M358.4,462.5L359.7,460.7L361.9,460.1L363.1,458.3M363.1,458.3L364.7,458.7L365.8,459.7L367.0,460.7M372.0,459.9L370.3,459.7L368.6,460.4L367.0,460.7M352.8,458.0L353.7,456.9L353.5,455.2L354.5,454.1M363.1,458.3L362.2,456.0L361.9,453.6L362.1,451.2M346.0,453.6L347.6,452.5L349.1,451.2L350.9,450.4M369.8,448.5L367.7,448.9L365.6,448.3L363.5,448.5M368.0,433.2L365.0,436.2L362.7,439.8L360.1,443.2M357.5,441.1L357.7,437.7L358.5,434.3L358.2,430.8M358.2,430.8L356.7,431.0L355.4,430.0L353.9,430.3M353.9,430.3L352.8,431.3L351.2,431.4L350.1,432.4M350.1,432.4L349.9,433.0L350.4,433.7L350.1,434.2M361.3,429.3L360.5,430.2L359.2,430.3L358.2,430.8M337.2,432.7L337.6,432.2L337.3,431.7L337.4,431.2M337.4,431.2L335.3,429.6L332.8,428.7L330.7,427.1M327.8,436.0L329.5,436.6L331.2,437.4L332.9,438.2M327.8,436.0L326.6,434.2L326.1,432.2L325.4,430.2M325.4,430.2L327.3,429.4L329.0,428.2L330.7,427.1M346.1,428.7L347.8,429.5L348.8,431.2L350.1,432.4M346.1,428.7L344.0,428.9L341.8,428.6L339.7,429.0M339.7,429.0L338.9,429.8L338.1,430.5L337.4,431.2M339.6,422.0L339.7,424.4L339.1,426.7L339.7,429.0M330.3,424.7L331.0,425.4L330.6,426.3L330.7,427.1M317.4,441.1L320.9,439.5L324.2,437.4L327.8,436.0M315.6,428.6L318.9,429.1L322.1,429.7L325.4,430.2M356.3,420.9L356.4,419.3L357.5,418.0L357.4,416.4M356.3,420.9L355.4,421.2L354.4,421.4L353.6,421.8M357.4,416.4L355.4,415.5L353.8,414.2L352.4,412.4M353.6,421.8L352.3,421.3L350.9,421.4L349.6,421.2M349.5,421.2L349.2,421.5L349.5,421.2L349.6,421.2M349.5,421.2L349.0,418.6L348.8,416.0L349.1,413.4M349.1,413.4L350.2,413.1L351.4,413.0L352.4,412.4M365.0,414.6L364.0,413.8L362.6,413.8L361.4,413.1M365.0,414.6L365.4,416.9L364.4,419.1L364.7,421.5M360.8,423.7L359.1,423.1L358.1,421.3L356.3,420.9M361.4,413.1L359.8,413.9L358.5,415.1L357.4,416.4M353.9,430.3L353.6,427.5L353.9,424.6L353.6,421.8M354.9,407.8L353.9,409.3L353.4,411.0L352.4,412.4M359.8,407.7L359.9,409.6L361.1,411.2L361.4,413.1M346.1,428.7L347.7,426.4L348.4,423.7L349.6,421.2M343.0,419.7L345.1,420.5L347.3,421.0L349.5,421.2M347.1,412.1L347.8,412.5L348.4,413.0L349.1,413.4M366.7,405.1L367.5,396.9L368.2,388.8L368.8,380.7M366.7,405.1L368.2,406.1L369.5,407.5L371.2,408.2M371.2,408.2L372.2,408.0L372.8,407.0L373.6,406.7M373.6,406.7L374.6,399.4L375.9,392.2L377.1,384.9M368.8,380.7L371.4,379.1L374.2,378.2L377.0,377.1M377.0,377.1L377.5,379.7L376.7,382.3L377.1,384.9M360.9,406.0L362.8,405.4L364.7,405.0L366.7,405.1M355.0,384.3L359.4,382.6L364.2,382.1L368.8,380.7M365.0,414.6L366.8,414.2L368.3,413.0L370.1,412.9M370.1,412.9L370.8,411.4L370.3,409.6L371.2,408.2M389.7,366.8L385.8,370.6L381.0,373.3L377.0,377.1M375.0,429.5L376.2,427.4L376.6,424.9L377.8,422.8M368.4,422.8L370.1,421.7L371.8,420.6L373.1,418.9M373.1,418.9L374.9,419.9L376.1,421.6L377.8,422.8M370.1,412.9L371.2,413.6L371.4,415.1L372.6,415.8M373.1,418.9L373.0,417.9L372.5,416.9L372.6,415.8M384.6,422.9L384.2,421.9L383.3,421.5L382.3,421.3M377.8,422.8L379.2,422.1L380.6,421.3L382.3,421.3M382.4,407.0L381.5,407.9L380.0,407.3L379.1,408.1M382.4,407.0L383.4,407.3L384.5,407.2L385.4,407.8M379.1,408.1L378.9,410.1L379.0,412.1L378.7,414.1M385.4,407.8L385.3,409.7L385.4,411.6L386.1,413.3M386.1,413.3L384.6,414.3L383.4,415.5L382.6,417.2M382.6,417.2L381.2,416.2L380.0,415.2L378.7,414.1M373.6,406.7L375.5,407.1L377.2,408.0L379.1,408.1M377.1,384.9L378.5,392.4L380.3,399.7L382.4,407.0M407.6,393.3L400.4,398.5L393.1,403.5L385.4,407.8M372.6,415.8L374.5,414.7L376.8,415.2L378.7,414.1M401.4,419.9L396.5,417.2L391.0,416.0L386.1,413.3M382.3,421.3L382.4,419.9L382.2,418.5L382.6,417.2" stroke="#22962a" stroke-width="1.2" fill="none" opacity="0.40" stroke-linecap="round" stroke-linejoin="round"/></g>
<ellipse cx="365.05" cy="445.50" rx="3.6" ry="4.8" fill="#3ad03a" opacity="1.0" filter="url(#bl2)"/>
<path d="M359.2,458.0L370.2,440.0M371.2,456.0L379.2,438.0M357.2,448.0L372.2,446.0M364.2,436.0L366.2,455.0M374.2,451.0L381.2,446.0" stroke="#3ad03a" stroke-width="1.8" opacity="0.55" filter="url(#bl2)" fill="none"/>
<path d="M359.2,458.0L370.2,440.0M371.2,456.0L379.2,438.0M357.2,448.0L372.2,446.0M364.2,436.0L366.2,455.0M374.2,451.0L381.2,446.0" stroke="#3ad03a" stroke-width="4.5" opacity="0.30" filter="url(#bl3)" fill="none"/>
<ellipse cx="353.75" cy="448.50" rx="4.5" ry="5.5" stroke="#30a030" stroke-width="1.0" fill="none" filter="url(#bl1)"/>
</g>
<line x1="369.55" y1="420.80" x2="357.49" y2="437.68" stroke="#ecdc2a" stroke-width="1.15"/>
<path d="M355.05,441.10L355.62,436.35L359.36,439.02Z" fill="#ecdc2a"/>
<circle cx="351.15" cy="446.80" r="1.05" fill="#f4e63a"/>
<g clip-path="url(#cp_ki67)">
<rect x="409.25" y="405.00" width="61.50" height="57.75" fill="#0a0a0a" />
<g filter="url(#bl05)"><path d="M371.8,470.3L384.3,478.8L396.8,487.1L409.2,495.5M377.2,405.5L387.7,394.4L399.0,384.1L409.8,373.4M508.9,470.0L503.2,473.9L497.5,477.9L491.8,481.7M474.2,498.4L480.4,493.1L485.9,487.3L491.8,481.7M371.8,470.3L374.6,466.5L377.4,462.6L380.6,459.1M380.6,459.1L383.9,452.2L386.5,445.1L389.1,438.0M389.1,438.0L389.6,435.6L388.7,433.2L389.1,430.8M377.2,405.5L378.3,406.5L378.7,408.2L380.1,409.0M389.1,430.8L385.5,423.8L382.6,416.5L380.1,409.0M505.1,405.0L500.8,401.2L496.6,397.3L492.6,393.3M474.7,366.8L480.3,375.9L486.1,384.8L492.6,393.3M428.0,485.9L427.7,477.2L428.0,468.5L427.2,459.9M428.0,485.9L425.0,486.6L422.1,487.8L419.3,489.1M419.3,489.1L420.1,479.8L419.9,470.4L420.2,461.0M427.2,459.9L426.1,459.5L424.9,459.5L423.9,458.8M420.2,461.0L421.4,460.3L422.6,459.4L423.9,458.8M462.3,452.0L464.1,451.2L465.8,450.1L467.7,449.5M462.3,452.0L462.4,454.2L462.2,456.4L462.6,458.5M467.7,449.5L469.4,450.9L470.6,452.6L471.2,454.7M462.6,458.5L464.0,458.4L465.2,458.8L466.5,459.3M466.5,459.3L467.9,458.9L469.4,458.4L470.6,457.5M470.6,457.5L471.1,456.6L471.5,455.7L471.2,454.7M463.3,491.1L461.4,481.0L460.3,470.8L458.6,460.7M463.3,491.1L464.9,491.5L465.9,492.8L467.3,493.5M467.3,493.5L466.5,482.1L466.3,470.7L466.5,459.3M458.6,460.7L460.2,460.5L461.4,459.5L462.6,458.5M474.2,498.4L471.7,497.2L469.7,495.1L467.3,493.5M491.8,481.7L484.3,474.0L477.8,465.5L470.6,457.5M508.9,470.0L504.2,462.1L498.6,454.9L493.6,447.2M493.6,447.2L491.9,447.7L490.1,447.2L488.3,447.6M488.3,447.6L482.4,449.5L476.9,452.1L471.2,454.7M389.1,430.8L392.8,429.5L396.7,429.0L400.6,428.6M380.1,409.0L386.5,410.2L393.1,410.7L399.6,411.1M400.6,428.6L404.4,426.3L407.9,423.6L411.0,420.4M411.0,420.4L410.7,419.5L411.4,418.5L411.1,417.6M399.6,411.1L403.5,413.2L407.2,415.5L411.1,417.6M409.8,373.4L411.2,375.0L413.2,375.8L414.6,377.3M414.6,377.3L413.2,387.2L412.9,397.2L411.8,407.2M399.6,411.1L403.8,410.2L407.8,408.6L411.8,407.2M488.3,447.6L483.0,446.2L477.5,445.2L472.1,444.4M467.7,449.5L467.3,448.7L467.6,448.0L468.0,447.4M472.1,444.4L470.6,445.2L469.6,446.8L468.0,447.4M505.1,405.0L501.1,410.0L497.6,415.3L494.1,420.6M493.6,447.2L492.4,442.2L491.9,437.1L491.3,432.1M491.3,432.1L492.7,428.4L492.6,424.3L494.1,420.6M435.2,403.2L433.9,404.0L432.9,405.1L432.1,406.4M435.2,403.2L435.3,396.9L436.2,390.7L436.4,384.5M436.4,384.5L430.8,382.8L425.2,381.0L419.4,380.0M427.5,405.7L428.9,406.5L430.6,406.1L432.1,406.4M427.5,405.7L425.3,398.7L422.5,391.9L420.1,384.9M419.4,380.0L419.5,381.7L419.8,383.3L420.1,384.9M428.0,485.9L430.9,484.7L433.9,484.6L436.9,484.0M427.2,459.9L428.5,459.3L429.8,458.4L431.3,458.3M431.3,458.3L432.1,459.1L433.0,459.5L434.1,459.5M434.1,459.5L435.5,467.6L436.3,475.8L436.9,484.0M409.2,495.5L410.6,494.8L411.7,494.0L412.6,492.8M412.6,492.8L414.7,491.3L416.8,489.9L419.3,489.1M447.9,485.3L445.9,484.5L443.6,484.9L441.7,483.9M447.9,485.3L453.2,486.8L458.2,489.1L463.3,491.1M436.9,484.0L438.5,484.1L440.1,484.4L441.7,483.9M434.1,459.5L435.6,459.5L436.4,458.0L437.8,458.0M441.7,483.9L442.6,476.8L442.6,469.6L443.4,462.5M443.4,462.5L441.7,460.8L439.5,459.8L437.8,458.0M431.3,458.3L431.1,456.7L431.3,455.1L431.0,453.6M423.9,458.8L423.8,456.3L422.6,454.1L422.3,451.7M422.3,451.7L424.2,451.7L425.9,450.9L427.6,450.1M427.6,450.1L428.7,451.2L430.1,452.1L431.0,453.6M422.3,451.7L421.3,451.3L420.5,450.4L419.4,450.1M419.4,450.1L418.6,448.0L419.2,445.7L418.5,443.6M427.6,450.1L428.9,448.0L429.6,445.8L430.4,443.5M410.0,451.5L412.3,451.5L414.6,452.1L416.9,451.8M410.0,451.5L408.6,453.2L407.8,455.4L406.1,456.9M416.9,451.8L417.0,454.4L416.2,456.8L415.6,459.2M406.1,456.9L408.0,458.0L409.7,459.4L411.4,460.8M411.4,460.8L412.9,460.7L414.4,460.3L415.6,459.2M408.6,444.8L411.8,444.6L414.6,442.8L417.8,442.6M408.6,444.8L409.3,447.0L410.1,449.2L410.0,451.5M419.4,450.1L418.2,450.2L417.8,451.3L416.9,451.8M380.6,459.1L389.1,458.6L397.5,457.0L406.1,456.9M389.1,438.0L393.4,439.5L398.0,440.0L402.4,441.1M402.4,441.1L404.6,442.1L406.8,443.1L408.6,444.8M420.2,461.0L418.6,460.7L417.0,460.1L415.6,459.2M412.6,492.8L411.9,482.2L411.3,471.5L411.4,460.8M419.3,415.0L421.1,414.2L422.6,412.9L424.4,412.1M419.3,415.0L418.1,415.0L417.1,414.6L416.3,413.7M416.3,413.7L416.0,412.4L415.2,411.3L415.1,409.9M415.1,409.9L416.6,408.0L418.5,406.7L420.3,405.2M420.3,405.2L421.8,406.3L422.9,407.7L424.4,408.8M424.4,408.8L424.5,409.9L424.5,411.0L424.4,412.1M428.0,419.7L426.6,420.1L425.8,421.4L424.6,422.0M428.0,419.7L427.2,417.7L427.2,415.6L427.4,413.5M427.4,413.5L426.3,413.3L425.5,412.5L424.4,412.1M420.6,419.1L422.1,419.9L423.3,421.0L424.6,422.0M420.6,419.1L420.2,417.7L419.4,416.5L419.3,415.0M411.0,420.4L412.1,422.2L414.1,423.0L415.3,424.7M411.1,417.6L413.1,416.8L414.5,414.9L416.3,413.7M420.6,419.1L418.8,420.9L416.8,422.6L415.3,424.7M411.8,407.2L413.1,407.9L414.0,409.0L415.1,409.9M414.6,377.3L416.3,378.1L418.0,378.7L419.4,380.0M420.1,384.9L419.9,391.7L419.7,398.5L420.3,405.2M427.5,405.7L426.3,406.6L425.6,407.9L424.4,408.8M432.1,412.1L432.4,410.2L432.5,408.3L432.1,406.4M432.1,412.1L430.7,413.0L429.1,413.2L427.4,413.5M460.6,441.0L462.8,439.9L464.7,438.2L467.1,437.4M460.6,441.0L463.0,443.3L465.7,445.1L468.0,447.4M472.1,444.4L472.0,442.5L471.4,440.8L470.9,439.0M470.9,439.0L469.5,438.8L468.2,438.4L467.1,437.4M491.3,432.1L487.0,432.9L482.6,432.6L478.2,433.1M470.9,439.0L473.3,437.0L475.9,435.2L478.2,433.1M467.1,437.4L467.6,435.5L467.2,433.6L467.2,431.7M478.2,433.1L475.4,432.3L472.8,431.2L470.3,429.8M467.2,431.7L468.1,430.8L469.0,430.0L470.3,429.8M494.1,420.6L491.6,420.1L489.0,419.7L486.4,419.9M486.4,419.9L480.8,420.8L475.2,421.6L469.6,422.9M470.3,429.8L470.4,427.4L469.9,425.2L469.6,422.9M460.4,441.0L458.6,438.3L457.1,435.5L455.4,432.8M460.4,441.0L460.4,441.2L460.6,440.6L460.6,441.0M460.0,429.5L462.5,429.7L464.7,431.0L467.2,431.7M460.0,429.5L458.5,429.8L457.2,430.4L456.2,431.7M455.4,432.8L455.3,432.2L456.4,432.4L456.2,431.7M453.4,422.8L454.6,425.6L455.4,428.7L456.2,431.7M453.4,422.8L452.2,422.1L450.8,422.2L449.7,421.5M446.3,429.3L446.7,427.4L446.4,425.5L445.8,423.7M446.3,429.3L448.5,430.6L450.5,432.4L453.0,433.2M453.0,433.2L453.8,432.7L454.7,433.3L455.4,432.8M449.7,421.5L448.2,421.8L446.8,422.5L445.8,423.7M435.2,403.2L436.9,404.6L438.3,406.3L439.9,407.8M436.4,384.5L437.6,384.3L438.8,384.2L440.0,384.3M439.9,407.8L441.5,407.4L443.2,407.2L444.8,407.7M444.8,407.7L445.0,407.0L445.8,406.7L445.9,406.0M445.9,406.0L443.9,398.7L442.3,391.4L440.0,384.3M460.4,441.0L458.0,443.1L456.6,446.0L454.8,448.5M462.3,452.0L459.7,451.1L457.5,449.4L454.9,448.6M454.9,448.6L455.1,448.4L455.0,448.4L454.8,448.5M458.6,460.7L458.0,460.6L457.5,460.2L457.0,459.9M454.9,448.6L455.7,452.4L456.6,456.1L457.0,459.9M447.9,485.3L449.4,477.1L450.3,468.8L452.0,460.7M443.4,462.5L444.7,460.7L446.9,460.1L448.1,458.3M448.1,458.3L449.7,458.7L450.8,459.7L452.0,460.7M457.0,459.9L455.3,459.7L453.6,460.4L452.0,460.7M437.8,458.0L438.7,456.9L438.5,455.2L439.5,454.1M448.1,458.3L447.2,456.0L446.9,453.6L447.1,451.2M431.0,453.6L432.6,452.5L434.1,451.2L435.9,450.4M454.8,448.5L452.7,448.9L450.6,448.3L448.5,448.5M453.0,433.2L450.0,436.2L447.7,439.8L445.1,443.2M442.5,441.1L442.7,437.7L443.5,434.3L443.2,430.8M443.2,430.8L441.7,431.0L440.4,430.0L438.9,430.3M438.9,430.3L437.8,431.3L436.2,431.4L435.1,432.4M435.1,432.4L434.9,433.0L435.4,433.7L435.1,434.2M446.3,429.3L445.5,430.2L444.2,430.3L443.2,430.8M422.2,432.7L422.6,432.2L422.3,431.7L422.4,431.2M422.4,431.2L420.3,429.6L417.8,428.7L415.7,427.1M412.8,436.0L414.5,436.6L416.2,437.4L417.9,438.2M412.8,436.0L411.6,434.2L411.1,432.2L410.4,430.2M410.4,430.2L412.3,429.4L414.0,428.2L415.7,427.1M431.1,428.7L432.8,429.5L433.8,431.2L435.1,432.4M431.1,428.7L429.0,428.9L426.8,428.6L424.7,429.0M424.7,429.0L423.9,429.8L423.1,430.5L422.4,431.2M424.6,422.0L424.7,424.4L424.1,426.7L424.7,429.0M415.3,424.7L416.0,425.4L415.6,426.3L415.7,427.1M402.4,441.1L405.9,439.5L409.2,437.4L412.8,436.0M400.6,428.6L403.9,429.1L407.1,429.7L410.4,430.2M441.3,420.9L441.4,419.3L442.5,418.0L442.4,416.4M441.3,420.9L440.4,421.2L439.4,421.4L438.6,421.8M442.4,416.4L440.4,415.5L438.8,414.2L437.4,412.4M438.6,421.8L437.3,421.3L435.9,421.4L434.6,421.2M434.5,421.2L434.2,421.5L434.5,421.2L434.6,421.2M434.5,421.2L434.0,418.6L433.8,416.0L434.1,413.4M434.1,413.4L435.2,413.1L436.4,413.0L437.4,412.4M450.0,414.6L449.0,413.8L447.6,413.8L446.4,413.1M450.0,414.6L450.4,416.9L449.4,419.1L449.7,421.5M445.8,423.7L444.1,423.1L443.1,421.3L441.3,420.9M446.4,413.1L444.8,413.9L443.5,415.1L442.4,416.4M438.9,430.3L438.6,427.5L438.9,424.6L438.6,421.8M439.9,407.8L438.9,409.3L438.4,411.0L437.4,412.4M444.8,407.7L444.9,409.6L446.1,411.2L446.4,413.1M431.1,428.7L432.7,426.4L433.4,423.7L434.6,421.2M428.0,419.7L430.1,420.5L432.3,421.0L434.5,421.2M432.1,412.1L432.8,412.5L433.4,413.0L434.1,413.4M451.7,405.1L452.5,396.9L453.2,388.8L453.8,380.7M451.7,405.1L453.2,406.1L454.5,407.5L456.2,408.2M456.2,408.2L457.2,408.0L457.8,407.0L458.6,406.7M458.6,406.7L459.6,399.4L460.9,392.2L462.1,384.9M453.8,380.7L456.4,379.1L459.2,378.2L462.0,377.1M462.0,377.1L462.5,379.7L461.7,382.3L462.1,384.9M445.9,406.0L447.8,405.4L449.7,405.0L451.7,405.1M440.0,384.3L444.4,382.6L449.2,382.1L453.8,380.7M450.0,414.6L451.8,414.2L453.3,413.0L455.1,412.9M455.1,412.9L455.8,411.4L455.3,409.6L456.2,408.2M474.7,366.8L470.8,370.6L466.0,373.3L462.0,377.1M460.0,429.5L461.2,427.4L461.6,424.9L462.8,422.8M453.4,422.8L455.1,421.7L456.8,420.6L458.1,418.9M458.1,418.9L459.9,419.9L461.1,421.6L462.8,422.8M455.1,412.9L456.2,413.6L456.4,415.1L457.6,415.8M458.1,418.9L458.0,417.9L457.5,416.9L457.6,415.8M469.6,422.9L469.2,421.9L468.3,421.5L467.3,421.3M462.8,422.8L464.2,422.1L465.6,421.3L467.3,421.3M467.4,407.0L466.5,407.9L465.0,407.3L464.1,408.1M467.4,407.0L468.4,407.3L469.5,407.2L470.4,407.8M464.1,408.1L463.9,410.1L464.0,412.1L463.7,414.1M470.4,407.8L470.3,409.7L470.4,411.6L471.1,413.3M471.1,413.3L469.6,414.3L468.4,415.5L467.6,417.2M467.6,417.2L466.2,416.2L465.0,415.2L463.7,414.1M458.6,406.7L460.5,407.1L462.2,408.0L464.1,408.1M462.1,384.9L463.5,392.4L465.3,399.7L467.4,407.0M492.6,393.3L485.4,398.5L478.1,403.5L470.4,407.8M457.6,415.8L459.5,414.7L461.8,415.2L463.7,414.1M486.4,419.9L481.5,417.2L476.0,416.0L471.1,413.3M467.3,421.3L467.4,419.9L467.2,418.5L467.6,417.2" stroke="#161616" stroke-width="1.0" fill="none" opacity="0.80" stroke-linecap="round" stroke-linejoin="round"/></g>
<g filter="url(#bl1)"><ellipse cx="424.85" cy="440.00" rx="5.0" ry="4.8" stroke="#222222" stroke-width="1.0" fill="none" opacity="1.0"/><ellipse cx="434.45" cy="439.40" rx="4.6" ry="3.9" stroke="#222222" stroke-width="1.0" fill="none" opacity="1.0"/><ellipse cx="439.05" cy="449.20" rx="4.8" ry="5.4" stroke="#222222" stroke-width="1.0" fill="none" opacity="1.0"/></g>
<ellipse cx="437.65" cy="449.60" rx="3.6" ry="5.2" fill="#808080" opacity="0.6" filter="url(#bl1)"/>
<ellipse cx="437.65" cy="449.60" rx="3.0" ry="4.6" fill="#dadada" opacity="1" filter="url(#bl05)"/>
<circle cx="412.25" cy="446.00" r="1.0" fill="#888" filter="url(#bl05)"/>
</g>
<line x1="455.25" y1="420.10" x2="442.72" y2="437.30" stroke="#ecdc2a" stroke-width="1.15"/>
<path d="M440.25,440.70L440.86,435.95L444.58,438.66Z" fill="#ecdc2a"/>
<circle cx="436.25" cy="445.90" r="1.05" fill="#f4e63a"/>
<g clip-path="url(#cp_m1)">
<rect x="324.25" y="485.00" width="61.50" height="57.75" fill="#041004" />
<rect x="324.25" y="485.00" width="61.5" height="57.75" filter="url(#turbG)" opacity="0.4"/>
<g filter="url(#bl1)"><path d="M292.2,485.5L302.7,474.4L314.0,464.1L324.8,453.4M292.2,485.5L293.3,486.5L293.7,488.2L295.1,489.0M304.1,510.8L300.5,503.8L297.6,496.5L295.1,489.0M304.1,510.8L307.8,509.5L311.7,509.0L315.6,508.6M295.1,489.0L301.5,490.2L308.1,490.7L314.6,491.1M315.6,508.6L319.4,506.3L322.9,503.6L326.0,500.4M326.0,500.4L325.7,499.5L326.4,498.5L326.1,497.6M314.6,491.1L318.5,493.2L322.2,495.5L326.1,497.6M324.8,453.4L326.2,455.0L328.2,455.8L329.6,457.3M329.6,457.3L328.2,467.2L327.9,477.2L326.8,487.2M314.6,491.1L318.8,490.2L322.8,488.6L326.8,487.2M350.2,483.2L348.9,484.0L347.9,485.1L347.1,486.4M350.2,483.2L350.3,476.9L351.2,470.7L351.4,464.5M351.4,464.5L345.8,462.8L340.2,461.0L334.4,460.0M342.5,485.7L343.9,486.5L345.6,486.1L347.1,486.4M342.5,485.7L340.3,478.7L337.5,471.9L335.1,464.9M334.4,460.0L334.5,461.7L334.8,463.3L335.1,464.9M334.3,495.0L336.1,494.2L337.6,492.9L339.4,492.1M334.3,495.0L333.1,495.0L332.1,494.6L331.3,493.7M331.3,493.7L331.0,492.4L330.2,491.3L330.1,489.9M330.1,489.9L331.6,488.0L333.5,486.7L335.3,485.2M335.3,485.2L336.8,486.3L337.9,487.7L339.4,488.8M339.4,488.8L339.5,489.9L339.5,491.0L339.4,492.1M343.0,499.7L341.6,500.1L340.8,501.4L339.6,502.0M343.0,499.7L342.2,497.7L342.2,495.6L342.4,493.5M342.4,493.5L341.3,493.3L340.5,492.5L339.4,492.1M335.6,499.1L337.1,499.9L338.3,501.0L339.6,502.0M335.6,499.1L335.2,497.7L334.4,496.5L334.3,495.0M326.0,500.4L327.1,502.2L329.1,503.0L330.3,504.7M326.1,497.6L328.1,496.8L329.5,494.9L331.3,493.7M335.6,499.1L333.8,500.9L331.8,502.6L330.3,504.7M326.8,487.2L328.1,487.9L329.0,489.0L330.1,489.9M329.6,457.3L331.3,458.1L333.0,458.7L334.4,460.0M335.1,464.9L334.9,471.7L334.7,478.5L335.3,485.2M342.5,485.7L341.3,486.6L340.6,487.9L339.4,488.8M347.1,492.1L347.4,490.2L347.5,488.3L347.1,486.4M347.1,492.1L345.7,493.0L344.1,493.2L342.4,493.5M337.2,512.7L337.6,512.2L337.3,511.7L337.4,511.2M337.4,511.2L335.3,509.6L332.8,508.7L330.7,507.1M325.4,510.2L327.3,509.4L329.0,508.2L330.7,507.1M346.1,508.7L347.8,509.5L348.8,511.2L350.1,512.4M346.1,508.7L344.0,508.9L341.8,508.6L339.7,509.0M339.7,509.0L338.9,509.8L338.1,510.5L337.4,511.2M339.6,502.0L339.7,504.4L339.1,506.7L339.7,509.0M330.3,504.7L331.0,505.4L330.6,506.3L330.7,507.1M315.6,508.6L318.9,509.1L322.1,509.7L325.4,510.2M349.5,501.2L349.2,501.5L349.5,501.2L349.6,501.2M349.5,501.2L349.0,498.6L348.8,496.0L349.1,493.4M349.1,493.4L350.2,493.1L351.4,493.0L352.4,492.4M346.1,508.7L347.7,506.4L348.4,503.7L349.6,501.2M343.0,499.7L345.1,500.5L347.3,501.0L349.5,501.2M347.1,492.1L347.8,492.5L348.4,493.0L349.1,493.4" stroke="#c02040" stroke-width="1.2" fill="none" opacity="0.70" stroke-linecap="round" stroke-linejoin="round"/></g>
<g filter="url(#bl1)"><path d="M423.9,550.0L418.2,553.9L412.5,557.9L406.8,561.7M389.2,578.4L395.4,573.1L400.9,567.3L406.8,561.7M420.1,485.0L415.8,481.2L411.6,477.3L407.6,473.3M389.7,446.8L395.3,455.9L401.1,464.8L407.6,473.3M377.3,532.0L379.1,531.2L380.8,530.1L382.7,529.5M377.3,532.0L377.4,534.2L377.2,536.4L377.6,538.5M382.7,529.5L384.4,530.9L385.6,532.6L386.2,534.7M377.6,538.5L379.0,538.4L380.2,538.8L381.5,539.3M381.5,539.3L382.9,538.9L384.4,538.4L385.6,537.5M385.6,537.5L386.1,536.6L386.5,535.7L386.2,534.7M378.3,571.1L376.4,561.0L375.3,550.8L373.6,540.7M378.3,571.1L379.9,571.5L380.9,572.8L382.3,573.5M382.3,573.5L381.5,562.1L381.3,550.7L381.5,539.3M373.6,540.7L375.2,540.5L376.4,539.5L377.6,538.5M389.2,578.4L386.7,577.2L384.7,575.1L382.3,573.5M406.8,561.7L399.3,554.0L392.8,545.5L385.6,537.5M423.9,550.0L419.2,542.1L413.6,534.9L408.6,527.2M408.6,527.2L406.9,527.7L405.1,527.2L403.3,527.6M403.3,527.6L397.4,529.5L391.9,532.1L386.2,534.7M403.3,527.6L398.0,526.2L392.5,525.2L387.1,524.4M382.7,529.5L382.3,528.7L382.6,528.0L383.0,527.4M387.1,524.4L385.6,525.2L384.6,526.8L383.0,527.4M420.1,485.0L416.1,490.0L412.6,495.3L409.1,500.6M408.6,527.2L407.4,522.2L406.9,517.1L406.3,512.1M406.3,512.1L407.7,508.4L407.6,504.3L409.1,500.6M362.9,565.3L368.2,566.8L373.2,569.1L378.3,571.1M375.6,521.0L377.8,519.9L379.7,518.2L382.1,517.4M375.6,521.0L378.0,523.3L380.7,525.1L383.0,527.4M387.1,524.4L387.0,522.5L386.4,520.8L385.9,519.0M385.9,519.0L384.5,518.8L383.2,518.4L382.1,517.4M406.3,512.1L402.0,512.9L397.6,512.6L393.2,513.1M385.9,519.0L388.3,517.0L390.9,515.2L393.2,513.1M382.1,517.4L382.6,515.5L382.2,513.6L382.2,511.7M393.2,513.1L390.4,512.3L387.8,511.2L385.3,509.8M382.2,511.7L383.1,510.8L384.0,510.0L385.3,509.8M409.1,500.6L406.6,500.1L404.0,499.7L401.4,499.9M401.4,499.9L395.8,500.8L390.2,501.6L384.6,502.9M385.3,509.8L385.4,507.4L384.9,505.2L384.6,502.9M375.4,521.0L373.6,518.3L372.1,515.5L370.4,512.8M375.4,521.0L375.4,521.2L375.6,520.6L375.6,521.0M375.0,509.5L377.5,509.7L379.7,511.0L382.2,511.7M375.0,509.5L373.5,509.8L372.2,510.4L371.2,511.7M370.4,512.8L370.3,512.2L371.4,512.4L371.2,511.7M368.4,502.8L369.6,505.6L370.4,508.7L371.2,511.7M368.4,502.8L367.2,502.1L365.8,502.2L364.7,501.5M361.3,509.3L363.5,510.6L365.5,512.4L368.0,513.2M368.0,513.2L368.8,512.7L369.7,513.3L370.4,512.8M375.4,521.0L373.0,523.1L371.6,526.0L369.8,528.5M377.3,532.0L374.7,531.1L372.5,529.4L369.9,528.6M369.9,528.6L370.1,528.4L370.0,528.4L369.8,528.5M373.6,540.7L373.0,540.6L372.5,540.2L372.0,539.9M369.9,528.6L370.7,532.4L371.6,536.1L372.0,539.9M362.9,565.3L364.4,557.1L365.3,548.8L367.0,540.7M363.1,538.3L364.7,538.7L365.8,539.7L367.0,540.7M372.0,539.9L370.3,539.7L368.6,540.4L367.0,540.7M369.8,528.5L367.7,528.9L365.6,528.3L363.5,528.5M368.0,513.2L365.0,516.2L362.7,519.8L360.1,523.2M365.0,494.6L365.4,496.9L364.4,499.1L364.7,501.5M366.7,485.1L367.5,476.9L368.2,468.8L368.8,460.7M366.7,485.1L368.2,486.1L369.5,487.5L371.2,488.2M371.2,488.2L372.2,488.0L372.8,487.0L373.6,486.7M373.6,486.7L374.6,479.4L375.9,472.2L377.1,464.9M368.8,460.7L371.4,459.1L374.2,458.2L377.0,457.1M377.0,457.1L377.5,459.7L376.7,462.3L377.1,464.9M365.0,494.6L366.8,494.2L368.3,493.0L370.1,492.9M370.1,492.9L370.8,491.4L370.3,489.6L371.2,488.2M389.7,446.8L385.8,450.6L381.0,453.3L377.0,457.1M375.0,509.5L376.2,507.4L376.6,504.9L377.8,502.8M368.4,502.8L370.1,501.7L371.8,500.6L373.1,498.9M373.1,498.9L374.9,499.9L376.1,501.6L377.8,502.8M370.1,492.9L371.2,493.6L371.4,495.1L372.6,495.8M373.1,498.9L373.0,497.9L372.5,496.9L372.6,495.8M384.6,502.9L384.2,501.9L383.3,501.5L382.3,501.3M377.8,502.8L379.2,502.1L380.6,501.3L382.3,501.3M382.4,487.0L381.5,487.9L380.0,487.3L379.1,488.1M382.4,487.0L383.4,487.3L384.5,487.2L385.4,487.8M379.1,488.1L378.9,490.1L379.0,492.1L378.7,494.1M385.4,487.8L385.3,489.7L385.4,491.6L386.1,493.3M386.1,493.3L384.6,494.3L383.4,495.5L382.6,497.2M382.6,497.2L381.2,496.2L380.0,495.2L378.7,494.1M373.6,486.7L375.5,487.1L377.2,488.0L379.1,488.1M377.1,464.9L378.5,472.4L380.3,479.7L382.4,487.0M407.6,473.3L400.4,478.5L393.1,483.5L385.4,487.8M372.6,495.8L374.5,494.7L376.8,495.2L378.7,494.1M401.4,499.9L396.5,497.2L391.0,496.0L386.1,493.3M382.3,501.3L382.4,499.9L382.2,498.5L382.6,497.2" stroke="#b03050" stroke-width="1.1" fill="none" opacity="0.55" stroke-linecap="round" stroke-linejoin="round"/></g>
<g filter="url(#bl2)"><path d="M292.2,485.5L302.7,474.4L314.0,464.1L324.8,453.4M292.2,485.5L293.3,486.5L293.7,488.2L295.1,489.0M304.1,510.8L300.5,503.8L297.6,496.5L295.1,489.0M304.1,510.8L307.8,509.5L311.7,509.0L315.6,508.6M295.1,489.0L301.5,490.2L308.1,490.7L314.6,491.1M315.6,508.6L319.4,506.3L322.9,503.6L326.0,500.4M326.0,500.4L325.7,499.5L326.4,498.5L326.1,497.6M314.6,491.1L318.5,493.2L322.2,495.5L326.1,497.6M324.8,453.4L326.2,455.0L328.2,455.8L329.6,457.3M329.6,457.3L328.2,467.2L327.9,477.2L326.8,487.2M314.6,491.1L318.8,490.2L322.8,488.6L326.8,487.2M350.2,483.2L348.9,484.0L347.9,485.1L347.1,486.4M350.2,483.2L350.3,476.9L351.2,470.7L351.4,464.5M351.4,464.5L345.8,462.8L340.2,461.0L334.4,460.0M342.5,485.7L343.9,486.5L345.6,486.1L347.1,486.4M342.5,485.7L340.3,478.7L337.5,471.9L335.1,464.9M334.4,460.0L334.5,461.7L334.8,463.3L335.1,464.9M334.3,495.0L336.1,494.2L337.6,492.9L339.4,492.1M334.3,495.0L333.1,495.0L332.1,494.6L331.3,493.7M331.3,493.7L331.0,492.4L330.2,491.3L330.1,489.9M330.1,489.9L331.6,488.0L333.5,486.7L335.3,485.2M335.3,485.2L336.8,486.3L337.9,487.7L339.4,488.8M339.4,488.8L339.5,489.9L339.5,491.0L339.4,492.1M343.0,499.7L341.6,500.1L340.8,501.4L339.6,502.0M343.0,499.7L342.2,497.7L342.2,495.6L342.4,493.5M342.4,493.5L341.3,493.3L340.5,492.5L339.4,492.1M335.6,499.1L337.1,499.9L338.3,501.0L339.6,502.0M335.6,499.1L335.2,497.7L334.4,496.5L334.3,495.0M326.0,500.4L327.1,502.2L329.1,503.0L330.3,504.7M326.1,497.6L328.1,496.8L329.5,494.9L331.3,493.7M335.6,499.1L333.8,500.9L331.8,502.6L330.3,504.7M326.8,487.2L328.1,487.9L329.0,489.0L330.1,489.9M329.6,457.3L331.3,458.1L333.0,458.7L334.4,460.0M335.1,464.9L334.9,471.7L334.7,478.5L335.3,485.2M342.5,485.7L341.3,486.6L340.6,487.9L339.4,488.8M347.1,492.1L347.4,490.2L347.5,488.3L347.1,486.4M347.1,492.1L345.7,493.0L344.1,493.2L342.4,493.5M337.2,512.7L337.6,512.2L337.3,511.7L337.4,511.2M337.4,511.2L335.3,509.6L332.8,508.7L330.7,507.1M325.4,510.2L327.3,509.4L329.0,508.2L330.7,507.1M346.1,508.7L347.8,509.5L348.8,511.2L350.1,512.4M346.1,508.7L344.0,508.9L341.8,508.6L339.7,509.0M339.7,509.0L338.9,509.8L338.1,510.5L337.4,511.2M339.6,502.0L339.7,504.4L339.1,506.7L339.7,509.0M330.3,504.7L331.0,505.4L330.6,506.3L330.7,507.1M315.6,508.6L318.9,509.1L322.1,509.7L325.4,510.2M349.5,501.2L349.2,501.5L349.5,501.2L349.6,501.2M349.5,501.2L349.0,498.6L348.8,496.0L349.1,493.4M349.1,493.4L350.2,493.1L351.4,493.0L352.4,492.4M346.1,508.7L347.7,506.4L348.4,503.7L349.6,501.2M343.0,499.7L345.1,500.5L347.3,501.0L349.5,501.2M347.1,492.1L347.8,492.5L348.4,493.0L349.1,493.4" stroke="#7030c0" stroke-width="2.0" fill="none" opacity="0.45" stroke-linecap="round" stroke-linejoin="round"/></g>
<ellipse cx="365.05" cy="525.50" rx="3.6" ry="4.8" fill="#38c038" opacity="0.95" filter="url(#bl2)"/>
<path d="M359.2,538.0L370.2,520.0M371.2,536.0L379.2,518.0M357.2,528.0L372.2,526.0M364.2,516.0L366.2,535.0M374.2,531.0L381.2,526.0" stroke="#38c038" stroke-width="1.8" opacity="0.52" filter="url(#bl2)" fill="none"/>
<path d="M359.2,538.0L370.2,520.0M371.2,536.0L379.2,518.0M357.2,528.0L372.2,526.0M364.2,516.0L366.2,535.0M374.2,531.0L381.2,526.0" stroke="#38c038" stroke-width="4.5" opacity="0.28" filter="url(#bl3)" fill="none"/>
<g filter="url(#bl2)"><ellipse cx="339.85" cy="520.00" rx="5.0" ry="4.8" stroke="#8028d0" stroke-width="5.0" fill="none" opacity="0.55"/><ellipse cx="349.45" cy="519.40" rx="4.6" ry="3.9" stroke="#8028d0" stroke-width="5.0" fill="none" opacity="0.55"/><ellipse cx="354.05" cy="529.20" rx="4.8" ry="5.4" stroke="#8028d0" stroke-width="5.0" fill="none" opacity="0.55"/></g>
<g filter="url(#bl1)"><ellipse cx="339.85" cy="520.00" rx="5.0" ry="4.8" stroke="#b838f0" stroke-width="2.4" fill="none" opacity="0.95"/><ellipse cx="349.45" cy="519.40" rx="4.6" ry="3.9" stroke="#b838f0" stroke-width="2.4" fill="none" opacity="0.95"/><ellipse cx="354.05" cy="529.20" rx="4.8" ry="5.4" stroke="#b838f0" stroke-width="2.4" fill="none" opacity="0.95"/></g>
<ellipse cx="354.65" cy="529.60" rx="4.9" ry="5.4" stroke="#4060ff" stroke-width="2.2" fill="none" filter="url(#bl1)"/>
<circle cx="326.75" cy="526.00" r="1.3" fill="#ff6060" filter="url(#bl05)"/>
</g>
<line x1="370.25" y1="500.10" x2="357.72" y2="517.30" stroke="#ecdc2a" stroke-width="1.15"/>
<path d="M355.25,520.70L355.86,515.95L359.58,518.66Z" fill="#ecdc2a"/>
<circle cx="352.15" cy="527.30" r="1.05" fill="#f4e63a"/>
<g clip-path="url(#cp_m2)">
<rect x="409.25" y="485.00" width="61.50" height="57.75" fill="#041004" />
<rect x="409.25" y="485.00" width="61.5" height="57.75" filter="url(#turbG)" opacity="0.4"/>
<g filter="url(#bl1)"><path d="M377.2,485.5L387.7,474.4L399.0,464.1L409.8,453.4M377.2,485.5L378.3,486.5L378.7,488.2L380.1,489.0M389.1,510.8L385.5,503.8L382.6,496.5L380.1,489.0M389.1,510.8L392.8,509.5L396.7,509.0L400.6,508.6M380.1,489.0L386.5,490.2L393.1,490.7L399.6,491.1M400.6,508.6L404.4,506.3L407.9,503.6L411.0,500.4M411.0,500.4L410.7,499.5L411.4,498.5L411.1,497.6M399.6,491.1L403.5,493.2L407.2,495.5L411.1,497.6M409.8,453.4L411.2,455.0L413.2,455.8L414.6,457.3M414.6,457.3L413.2,467.2L412.9,477.2L411.8,487.2M399.6,491.1L403.8,490.2L407.8,488.6L411.8,487.2M435.2,483.2L433.9,484.0L432.9,485.1L432.1,486.4M435.2,483.2L435.3,476.9L436.2,470.7L436.4,464.5M436.4,464.5L430.8,462.8L425.2,461.0L419.4,460.0M427.5,485.7L428.9,486.5L430.6,486.1L432.1,486.4M427.5,485.7L425.3,478.7L422.5,471.9L420.1,464.9M419.4,460.0L419.5,461.7L419.8,463.3L420.1,464.9M419.3,495.0L421.1,494.2L422.6,492.9L424.4,492.1M419.3,495.0L418.1,495.0L417.1,494.6L416.3,493.7M416.3,493.7L416.0,492.4L415.2,491.3L415.1,489.9M415.1,489.9L416.6,488.0L418.5,486.7L420.3,485.2M420.3,485.2L421.8,486.3L422.9,487.7L424.4,488.8M424.4,488.8L424.5,489.9L424.5,491.0L424.4,492.1M428.0,499.7L426.6,500.1L425.8,501.4L424.6,502.0M428.0,499.7L427.2,497.7L427.2,495.6L427.4,493.5M427.4,493.5L426.3,493.3L425.5,492.5L424.4,492.1M420.6,499.1L422.1,499.9L423.3,501.0L424.6,502.0M420.6,499.1L420.2,497.7L419.4,496.5L419.3,495.0M411.0,500.4L412.1,502.2L414.1,503.0L415.3,504.7M411.1,497.6L413.1,496.8L414.5,494.9L416.3,493.7M420.6,499.1L418.8,500.9L416.8,502.6L415.3,504.7M411.8,487.2L413.1,487.9L414.0,489.0L415.1,489.9M414.6,457.3L416.3,458.1L418.0,458.7L419.4,460.0M420.1,464.9L419.9,471.7L419.7,478.5L420.3,485.2M427.5,485.7L426.3,486.6L425.6,487.9L424.4,488.8M432.1,492.1L432.4,490.2L432.5,488.3L432.1,486.4M432.1,492.1L430.7,493.0L429.1,493.2L427.4,493.5M422.2,512.7L422.6,512.2L422.3,511.7L422.4,511.2M422.4,511.2L420.3,509.6L417.8,508.7L415.7,507.1M410.4,510.2L412.3,509.4L414.0,508.2L415.7,507.1M431.1,508.7L432.8,509.5L433.8,511.2L435.1,512.4M431.1,508.7L429.0,508.9L426.8,508.6L424.7,509.0M424.7,509.0L423.9,509.8L423.1,510.5L422.4,511.2M424.6,502.0L424.7,504.4L424.1,506.7L424.7,509.0M415.3,504.7L416.0,505.4L415.6,506.3L415.7,507.1M400.6,508.6L403.9,509.1L407.1,509.7L410.4,510.2M434.5,501.2L434.2,501.5L434.5,501.2L434.6,501.2M434.5,501.2L434.0,498.6L433.8,496.0L434.1,493.4M434.1,493.4L435.2,493.1L436.4,493.0L437.4,492.4M431.1,508.7L432.7,506.4L433.4,503.7L434.6,501.2M428.0,499.7L430.1,500.5L432.3,501.0L434.5,501.2M432.1,492.1L432.8,492.5L433.4,493.0L434.1,493.4" stroke="#c02040" stroke-width="1.2" fill="none" opacity="0.70" stroke-linecap="round" stroke-linejoin="round"/></g>
<g filter="url(#bl1)"><path d="M508.9,550.0L503.2,553.9L497.5,557.9L491.8,561.7M474.2,578.4L480.4,573.1L485.9,567.3L491.8,561.7M505.1,485.0L500.8,481.2L496.6,477.3L492.6,473.3M474.7,446.8L480.3,455.9L486.1,464.8L492.6,473.3M462.3,532.0L464.1,531.2L465.8,530.1L467.7,529.5M462.3,532.0L462.4,534.2L462.2,536.4L462.6,538.5M467.7,529.5L469.4,530.9L470.6,532.6L471.2,534.7M462.6,538.5L464.0,538.4L465.2,538.8L466.5,539.3M466.5,539.3L467.9,538.9L469.4,538.4L470.6,537.5M470.6,537.5L471.1,536.6L471.5,535.7L471.2,534.7M463.3,571.1L461.4,561.0L460.3,550.8L458.6,540.7M463.3,571.1L464.9,571.5L465.9,572.8L467.3,573.5M467.3,573.5L466.5,562.1L466.3,550.7L466.5,539.3M458.6,540.7L460.2,540.5L461.4,539.5L462.6,538.5M474.2,578.4L471.7,577.2L469.7,575.1L467.3,573.5M491.8,561.7L484.3,554.0L477.8,545.5L470.6,537.5M508.9,550.0L504.2,542.1L498.6,534.9L493.6,527.2M493.6,527.2L491.9,527.7L490.1,527.2L488.3,527.6M488.3,527.6L482.4,529.5L476.9,532.1L471.2,534.7M488.3,527.6L483.0,526.2L477.5,525.2L472.1,524.4M467.7,529.5L467.3,528.7L467.6,528.0L468.0,527.4M472.1,524.4L470.6,525.2L469.6,526.8L468.0,527.4M505.1,485.0L501.1,490.0L497.6,495.3L494.1,500.6M493.6,527.2L492.4,522.2L491.9,517.1L491.3,512.1M491.3,512.1L492.7,508.4L492.6,504.3L494.1,500.6M447.9,565.3L453.2,566.8L458.2,569.1L463.3,571.1M460.6,521.0L462.8,519.9L464.7,518.2L467.1,517.4M460.6,521.0L463.0,523.3L465.7,525.1L468.0,527.4M472.1,524.4L472.0,522.5L471.4,520.8L470.9,519.0M470.9,519.0L469.5,518.8L468.2,518.4L467.1,517.4M491.3,512.1L487.0,512.9L482.6,512.6L478.2,513.1M470.9,519.0L473.3,517.0L475.9,515.2L478.2,513.1M467.1,517.4L467.6,515.5L467.2,513.6L467.2,511.7M478.2,513.1L475.4,512.3L472.8,511.2L470.3,509.8M467.2,511.7L468.1,510.8L469.0,510.0L470.3,509.8M494.1,500.6L491.6,500.1L489.0,499.7L486.4,499.9M486.4,499.9L480.8,500.8L475.2,501.6L469.6,502.9M470.3,509.8L470.4,507.4L469.9,505.2L469.6,502.9M460.4,521.0L458.6,518.3L457.1,515.5L455.4,512.8M460.4,521.0L460.4,521.2L460.6,520.6L460.6,521.0M460.0,509.5L462.5,509.7L464.7,511.0L467.2,511.7M460.0,509.5L458.5,509.8L457.2,510.4L456.2,511.7M455.4,512.8L455.3,512.2L456.4,512.4L456.2,511.7M453.4,502.8L454.6,505.6L455.4,508.7L456.2,511.7M453.4,502.8L452.2,502.1L450.8,502.2L449.7,501.5M446.3,509.3L448.5,510.6L450.5,512.4L453.0,513.2M453.0,513.2L453.8,512.7L454.7,513.3L455.4,512.8M460.4,521.0L458.0,523.1L456.6,526.0L454.8,528.5M462.3,532.0L459.7,531.1L457.5,529.4L454.9,528.6M454.9,528.6L455.1,528.4L455.0,528.4L454.8,528.5M458.6,540.7L458.0,540.6L457.5,540.2L457.0,539.9M454.9,528.6L455.7,532.4L456.6,536.1L457.0,539.9M447.9,565.3L449.4,557.1L450.3,548.8L452.0,540.7M448.1,538.3L449.7,538.7L450.8,539.7L452.0,540.7M457.0,539.9L455.3,539.7L453.6,540.4L452.0,540.7M454.8,528.5L452.7,528.9L450.6,528.3L448.5,528.5M453.0,513.2L450.0,516.2L447.7,519.8L445.1,523.2M450.0,494.6L450.4,496.9L449.4,499.1L449.7,501.5M451.7,485.1L452.5,476.9L453.2,468.8L453.8,460.7M451.7,485.1L453.2,486.1L454.5,487.5L456.2,488.2M456.2,488.2L457.2,488.0L457.8,487.0L458.6,486.7M458.6,486.7L459.6,479.4L460.9,472.2L462.1,464.9M453.8,460.7L456.4,459.1L459.2,458.2L462.0,457.1M462.0,457.1L462.5,459.7L461.7,462.3L462.1,464.9M450.0,494.6L451.8,494.2L453.3,493.0L455.1,492.9M455.1,492.9L455.8,491.4L455.3,489.6L456.2,488.2M474.7,446.8L470.8,450.6L466.0,453.3L462.0,457.1M460.0,509.5L461.2,507.4L461.6,504.9L462.8,502.8M453.4,502.8L455.1,501.7L456.8,500.6L458.1,498.9M458.1,498.9L459.9,499.9L461.1,501.6L462.8,502.8M455.1,492.9L456.2,493.6L456.4,495.1L457.6,495.8M458.1,498.9L458.0,497.9L457.5,496.9L457.6,495.8M469.6,502.9L469.2,501.9L468.3,501.5L467.3,501.3M462.8,502.8L464.2,502.1L465.6,501.3L467.3,501.3M467.4,487.0L466.5,487.9L465.0,487.3L464.1,488.1M467.4,487.0L468.4,487.3L469.5,487.2L470.4,487.8M464.1,488.1L463.9,490.1L464.0,492.1L463.7,494.1M470.4,487.8L470.3,489.7L470.4,491.6L471.1,493.3M471.1,493.3L469.6,494.3L468.4,495.5L467.6,497.2M467.6,497.2L466.2,496.2L465.0,495.2L463.7,494.1M458.6,486.7L460.5,487.1L462.2,488.0L464.1,488.1M462.1,464.9L463.5,472.4L465.3,479.7L467.4,487.0M492.6,473.3L485.4,478.5L478.1,483.5L470.4,487.8M457.6,495.8L459.5,494.7L461.8,495.2L463.7,494.1M486.4,499.9L481.5,497.2L476.0,496.0L471.1,493.3M467.3,501.3L467.4,499.9L467.2,498.5L467.6,497.2" stroke="#b03050" stroke-width="1.1" fill="none" opacity="0.55" stroke-linecap="round" stroke-linejoin="round"/></g>
<g filter="url(#bl2)"><path d="M377.2,485.5L387.7,474.4L399.0,464.1L409.8,453.4M377.2,485.5L378.3,486.5L378.7,488.2L380.1,489.0M389.1,510.8L385.5,503.8L382.6,496.5L380.1,489.0M389.1,510.8L392.8,509.5L396.7,509.0L400.6,508.6M380.1,489.0L386.5,490.2L393.1,490.7L399.6,491.1M400.6,508.6L404.4,506.3L407.9,503.6L411.0,500.4M411.0,500.4L410.7,499.5L411.4,498.5L411.1,497.6M399.6,491.1L403.5,493.2L407.2,495.5L411.1,497.6M409.8,453.4L411.2,455.0L413.2,455.8L414.6,457.3M414.6,457.3L413.2,467.2L412.9,477.2L411.8,487.2M399.6,491.1L403.8,490.2L407.8,488.6L411.8,487.2M435.2,483.2L433.9,484.0L432.9,485.1L432.1,486.4M435.2,483.2L435.3,476.9L436.2,470.7L436.4,464.5M436.4,464.5L430.8,462.8L425.2,461.0L419.4,460.0M427.5,485.7L428.9,486.5L430.6,486.1L432.1,486.4M427.5,485.7L425.3,478.7L422.5,471.9L420.1,464.9M419.4,460.0L419.5,461.7L419.8,463.3L420.1,464.9M419.3,495.0L421.1,494.2L422.6,492.9L424.4,492.1M419.3,495.0L418.1,495.0L417.1,494.6L416.3,493.7M416.3,493.7L416.0,492.4L415.2,491.3L415.1,489.9M415.1,489.9L416.6,488.0L418.5,486.7L420.3,485.2M420.3,485.2L421.8,486.3L422.9,487.7L424.4,488.8M424.4,488.8L424.5,489.9L424.5,491.0L424.4,492.1M428.0,499.7L426.6,500.1L425.8,501.4L424.6,502.0M428.0,499.7L427.2,497.7L427.2,495.6L427.4,493.5M427.4,493.5L426.3,493.3L425.5,492.5L424.4,492.1M420.6,499.1L422.1,499.9L423.3,501.0L424.6,502.0M420.6,499.1L420.2,497.7L419.4,496.5L419.3,495.0M411.0,500.4L412.1,502.2L414.1,503.0L415.3,504.7M411.1,497.6L413.1,496.8L414.5,494.9L416.3,493.7M420.6,499.1L418.8,500.9L416.8,502.6L415.3,504.7M411.8,487.2L413.1,487.9L414.0,489.0L415.1,489.9M414.6,457.3L416.3,458.1L418.0,458.7L419.4,460.0M420.1,464.9L419.9,471.7L419.7,478.5L420.3,485.2M427.5,485.7L426.3,486.6L425.6,487.9L424.4,488.8M432.1,492.1L432.4,490.2L432.5,488.3L432.1,486.4M432.1,492.1L430.7,493.0L429.1,493.2L427.4,493.5M422.2,512.7L422.6,512.2L422.3,511.7L422.4,511.2M422.4,511.2L420.3,509.6L417.8,508.7L415.7,507.1M410.4,510.2L412.3,509.4L414.0,508.2L415.7,507.1M431.1,508.7L432.8,509.5L433.8,511.2L435.1,512.4M431.1,508.7L429.0,508.9L426.8,508.6L424.7,509.0M424.7,509.0L423.9,509.8L423.1,510.5L422.4,511.2M424.6,502.0L424.7,504.4L424.1,506.7L424.7,509.0M415.3,504.7L416.0,505.4L415.6,506.3L415.7,507.1M400.6,508.6L403.9,509.1L407.1,509.7L410.4,510.2M434.5,501.2L434.2,501.5L434.5,501.2L434.6,501.2M434.5,501.2L434.0,498.6L433.8,496.0L434.1,493.4M434.1,493.4L435.2,493.1L436.4,493.0L437.4,492.4M431.1,508.7L432.7,506.4L433.4,503.7L434.6,501.2M428.0,499.7L430.1,500.5L432.3,501.0L434.5,501.2M432.1,492.1L432.8,492.5L433.4,493.0L434.1,493.4" stroke="#7030c0" stroke-width="2.0" fill="none" opacity="0.45" stroke-linecap="round" stroke-linejoin="round"/></g>
<ellipse cx="450.05" cy="525.50" rx="3.6" ry="4.8" fill="#38c038" opacity="0.95" filter="url(#bl2)"/>
<path d="M444.2,538.0L455.2,520.0M456.2,536.0L464.2,518.0M442.2,528.0L457.2,526.0M449.2,516.0L451.2,535.0M459.2,531.0L466.2,526.0" stroke="#38c038" stroke-width="1.8" opacity="0.52" filter="url(#bl2)" fill="none"/>
<path d="M444.2,538.0L455.2,520.0M456.2,536.0L464.2,518.0M442.2,528.0L457.2,526.0M449.2,516.0L451.2,535.0M459.2,531.0L466.2,526.0" stroke="#38c038" stroke-width="4.5" opacity="0.28" filter="url(#bl3)" fill="none"/>
<g filter="url(#bl2)"><ellipse cx="424.85" cy="520.00" rx="5.0" ry="4.8" stroke="#8028d0" stroke-width="5.0" fill="none" opacity="0.55"/><ellipse cx="434.45" cy="519.40" rx="4.6" ry="3.9" stroke="#8028d0" stroke-width="5.0" fill="none" opacity="0.55"/><ellipse cx="439.05" cy="529.20" rx="4.8" ry="5.4" stroke="#8028d0" stroke-width="5.0" fill="none" opacity="0.55"/></g>
<g filter="url(#bl1)"><ellipse cx="424.85" cy="520.00" rx="5.0" ry="4.8" stroke="#b838f0" stroke-width="2.4" fill="none" opacity="0.95"/><ellipse cx="434.45" cy="519.40" rx="4.6" ry="3.9" stroke="#b838f0" stroke-width="2.4" fill="none" opacity="0.95"/><ellipse cx="439.05" cy="529.20" rx="4.8" ry="5.4" stroke="#b838f0" stroke-width="2.4" fill="none" opacity="0.95"/></g>
<ellipse cx="439.65" cy="529.60" rx="4.9" ry="5.4" stroke="#4060ff" stroke-width="2.2" fill="none" filter="url(#bl1)"/>
<ellipse cx="437.85" cy="529.80" rx="3.3" ry="4.8" fill="#dcdce8" opacity="1" filter="url(#bl05)"/>
<circle cx="411.75" cy="526.00" r="1.3" fill="#ff6060" filter="url(#bl05)"/>
</g>
<line x1="455.25" y1="500.10" x2="442.72" y2="517.30" stroke="#ecdc2a" stroke-width="1.15"/>
<path d="M440.25,520.70L440.86,515.95L444.58,518.66Z" fill="#ecdc2a"/>
<circle cx="437.15" cy="527.30" r="1.05" fill="#f4e63a"/>
<rect x="0.00" y="0.00" width="520.00" height="1.10" fill="#000" />
<rect x="0.00" y="0.00" width="1.08" height="592.00" fill="#000" />
<rect x="518.85" y="0.00" width="1.15" height="592.00" fill="#000" />
<rect x="0.00" y="590.90" width="520.00" height="1.10" fill="#000" />
</svg>
</body></html>
